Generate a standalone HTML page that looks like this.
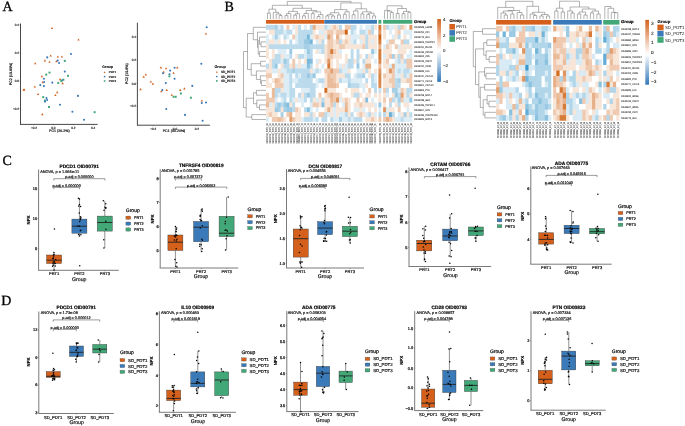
<!DOCTYPE html>
<html><head><meta charset="utf-8"><style>html,body{margin:0;padding:0;background:#fff;width:685px;height:426px;overflow:hidden}svg{display:block}text{font-family:"Liberation Sans",sans-serif}</style></head>
<body>
<svg width="685" height="426" viewBox="0 0 685 426" font-family="Liberation Sans" text-rendering="geometricPrecision" style="will-change:transform;filter:blur(0.3px)">
<rect x="0.00" y="0.00" width="685.00" height="426.00" fill="#fff"/>
<text x="2.60" y="11.30" font-size="14" fill="#000" stroke="#000" stroke-width="0.3" style="font-family:&quot;Liberation Serif&quot;,serif">A</text>
<text x="224.60" y="11.00" font-size="14" fill="#000" stroke="#000" stroke-width="0.3" style="font-family:&quot;Liberation Serif&quot;,serif">B</text>
<text x="2.40" y="165.00" font-size="14" fill="#000" stroke="#000" stroke-width="0.3" style="font-family:&quot;Liberation Serif&quot;,serif">C</text>
<text x="1.20" y="304.80" font-size="14" fill="#000" stroke="#000" stroke-width="0.3" style="font-family:&quot;Liberation Serif&quot;,serif">D</text>
<line x1="20.50" y1="23.50" x2="20.50" y2="124.40" stroke="#333" stroke-width="0.9"/>
<line x1="20.05" y1="124.40" x2="97.70" y2="124.40" stroke="#333" stroke-width="0.9"/>
<line x1="19.50" y1="24.70" x2="20.50" y2="24.70" stroke="#333" stroke-width="0.4"/>
<text x="19.10" y="25.82" font-size="3.1" text-anchor="end" fill="#222" stroke="#222" stroke-width="0.14">0.4</text>
<line x1="19.50" y1="53.00" x2="20.50" y2="53.00" stroke="#333" stroke-width="0.4"/>
<text x="19.10" y="54.12" font-size="3.1" text-anchor="end" fill="#222" stroke="#222" stroke-width="0.14">0.2</text>
<line x1="19.50" y1="80.70" x2="20.50" y2="80.70" stroke="#333" stroke-width="0.4"/>
<text x="19.10" y="81.82" font-size="3.1" text-anchor="end" fill="#222" stroke="#222" stroke-width="0.14">0.0</text>
<line x1="19.50" y1="108.70" x2="20.50" y2="108.70" stroke="#333" stroke-width="0.4"/>
<text x="19.10" y="109.82" font-size="3.1" text-anchor="end" fill="#222" stroke="#222" stroke-width="0.14">−0.2</text>
<line x1="34.00" y1="124.40" x2="34.00" y2="125.40" stroke="#333" stroke-width="0.4"/>
<text x="34.00" y="128.72" font-size="3.1" text-anchor="middle" fill="#222" stroke="#222" stroke-width="0.14">−0.2</text>
<line x1="53.40" y1="124.40" x2="53.40" y2="125.40" stroke="#333" stroke-width="0.4"/>
<text x="53.40" y="128.72" font-size="3.1" text-anchor="middle" fill="#222" stroke="#222" stroke-width="0.14">0.0</text>
<line x1="73.30" y1="124.40" x2="73.30" y2="125.40" stroke="#333" stroke-width="0.4"/>
<text x="73.30" y="128.72" font-size="3.1" text-anchor="middle" fill="#222" stroke="#222" stroke-width="0.14">0.2</text>
<line x1="93.10" y1="124.40" x2="93.10" y2="125.40" stroke="#333" stroke-width="0.4"/>
<text x="93.10" y="128.72" font-size="3.1" text-anchor="middle" fill="#222" stroke="#222" stroke-width="0.14">0.4</text>
<text x="59.40" y="132.10" font-size="3.6" text-anchor="middle" fill="#111" stroke="#111" stroke-width="0.18">PC1 (26.2%)</text>
<text x="11.50" y="74.00" font-size="3.6" text-anchor="middle" fill="#111" stroke="#111" stroke-width="0.18" transform="rotate(-90 11.50 74.00)">PC2 (19.89%)</text>
<path d="M52.00 26.89L53.21 28.98L50.79 28.98Z" fill="#D4601C"/>
<path d="M78.50 38.39L79.71 40.48L77.29 40.48Z" fill="#D4601C"/>
<circle cx="71.00" cy="54.00" r="1.04" fill="#3A7AB8"/>
<path d="M50.70 54.49L51.91 56.58L49.49 56.58Z" fill="#D4601C"/>
<path d="M57.80 55.39L59.01 57.48L56.59 57.48Z" fill="#D4601C"/>
<path d="M61.90 55.39L63.11 57.48L60.69 57.48Z" fill="#D4601C"/>
<circle cx="47.20" cy="57.40" r="1.04" fill="#3A7AB8"/>
<path d="M44.90 59.29L46.11 61.38L43.69 61.38Z" fill="#D4601C"/>
<path d="M49.50 60.69L50.71 62.78L48.29 62.78Z" fill="#D4601C"/>
<path d="M56.40 60.09L57.61 62.18L55.19 62.18Z" fill="#D4601C"/>
<circle cx="57.70" cy="60.50" r="1.04" fill="#3A7AB8"/>
<circle cx="59.10" cy="63.00" r="1.04" fill="#3A7AB8"/>
<rect x="63.81" y="59.91" width="1.98" height="1.98" fill="#42A877"/>
<path d="M35.20 62.19L36.41 64.28L33.99 64.28Z" fill="#D4601C"/>
<circle cx="64.80" cy="71.60" r="1.04" fill="#3A7AB8"/>
<rect x="48.51" y="71.61" width="1.98" height="1.98" fill="#42A877"/>
<rect x="45.21" y="73.61" width="1.98" height="1.98" fill="#42A877"/>
<rect x="67.01" y="74.81" width="1.98" height="1.98" fill="#42A877"/>
<path d="M41.90 75.09L43.11 77.18L40.69 77.18Z" fill="#D4601C"/>
<circle cx="43.90" cy="78.80" r="1.04" fill="#3A7AB8"/>
<path d="M60.10 78.09L61.31 80.18L58.89 80.18Z" fill="#D4601C"/>
<rect x="62.41" y="78.71" width="1.98" height="1.98" fill="#42A877"/>
<circle cx="62.20" cy="80.30" r="1.04" fill="#3A7AB8"/>
<rect x="60.31" y="80.11" width="1.98" height="1.98" fill="#42A877"/>
<path d="M42.70 81.09L43.91 83.18L41.49 83.18Z" fill="#D4601C"/>
<circle cx="44.10" cy="82.00" r="1.04" fill="#3A7AB8"/>
<circle cx="52.30" cy="82.60" r="1.04" fill="#3A7AB8"/>
<rect x="57.21" y="81.91" width="1.98" height="1.98" fill="#42A877"/>
<path d="M62.60 82.09L63.81 84.18L61.39 84.18Z" fill="#D4601C"/>
<circle cx="40.30" cy="85.10" r="1.04" fill="#3A7AB8"/>
<circle cx="43.90" cy="86.10" r="1.04" fill="#3A7AB8"/>
<path d="M34.80 85.39L36.01 87.48L33.59 87.48Z" fill="#D4601C"/>
<path d="M24.30 88.39L25.51 90.48L23.09 90.48Z" fill="#D4601C"/>
<path d="M23.60 88.59L24.81 90.68L22.39 90.68Z" fill="#D4601C"/>
<path d="M38.10 92.89L39.31 94.98L36.89 94.98Z" fill="#D4601C"/>
<path d="M57.20 91.09L58.41 93.18L55.99 93.18Z" fill="#D4601C"/>
<path d="M55.40 93.99L56.61 96.08L54.19 96.08Z" fill="#D4601C"/>
<circle cx="77.90" cy="95.90" r="1.04" fill="#3A7AB8"/>
<rect x="42.21" y="96.11" width="1.98" height="1.98" fill="#42A877"/>
<circle cx="46.50" cy="98.10" r="1.04" fill="#3A7AB8"/>
<circle cx="47.10" cy="100.00" r="1.04" fill="#3A7AB8"/>
<rect x="43.91" y="99.61" width="1.98" height="1.98" fill="#42A877"/>
<circle cx="45.00" cy="101.60" r="1.04" fill="#3A7AB8"/>
<circle cx="60.00" cy="104.80" r="1.04" fill="#3A7AB8"/>
<rect x="48.01" y="106.01" width="1.98" height="1.98" fill="#42A877"/>
<circle cx="72.40" cy="111.80" r="1.04" fill="#3A7AB8"/>
<rect x="93.61" y="111.21" width="1.98" height="1.98" fill="#42A877"/>
<path d="M42.30 113.09L43.51 115.18L41.09 115.18Z" fill="#D4601C"/>
<circle cx="84.10" cy="119.70" r="1.04" fill="#3A7AB8"/>
<text x="102.20" y="67.80" font-size="3.6" text-anchor="start" fill="#000" stroke="#000" stroke-width="0.08" font-weight="bold">Group</text>
<path d="M104.60 71.21L105.59 72.92L103.61 72.92Z" fill="#D4601C"/>
<text x="108.80" y="73.24" font-size="2.9" text-anchor="start" fill="#111" stroke="#111" stroke-width="0.18">PRT1</text>
<circle cx="104.60" cy="76.60" r="0.85" fill="#3A7AB8"/>
<text x="108.80" y="77.64" font-size="2.9" text-anchor="start" fill="#111" stroke="#111" stroke-width="0.18">PRT2</text>
<rect x="103.79" y="80.19" width="1.62" height="1.62" fill="#42A877"/>
<text x="108.80" y="82.04" font-size="2.9" text-anchor="start" fill="#111" stroke="#111" stroke-width="0.18">PRT3</text>
<line x1="137.40" y1="22.70" x2="137.40" y2="125.20" stroke="#333" stroke-width="0.9"/>
<line x1="136.95" y1="125.20" x2="209.90" y2="125.20" stroke="#333" stroke-width="0.9"/>
<line x1="136.40" y1="36.80" x2="137.40" y2="36.80" stroke="#333" stroke-width="0.4"/>
<text x="136.00" y="37.92" font-size="3.1" text-anchor="end" fill="#222" stroke="#222" stroke-width="0.14">0.4</text>
<line x1="136.40" y1="60.10" x2="137.40" y2="60.10" stroke="#333" stroke-width="0.4"/>
<text x="136.00" y="61.22" font-size="3.1" text-anchor="end" fill="#222" stroke="#222" stroke-width="0.14">0.2</text>
<line x1="136.40" y1="83.40" x2="137.40" y2="83.40" stroke="#333" stroke-width="0.4"/>
<text x="136.00" y="84.52" font-size="3.1" text-anchor="end" fill="#222" stroke="#222" stroke-width="0.14">0.0</text>
<line x1="136.40" y1="105.90" x2="137.40" y2="105.90" stroke="#333" stroke-width="0.4"/>
<text x="136.00" y="107.02" font-size="3.1" text-anchor="end" fill="#222" stroke="#222" stroke-width="0.14">−0.2</text>
<line x1="153.20" y1="125.20" x2="153.20" y2="126.20" stroke="#333" stroke-width="0.4"/>
<text x="153.20" y="129.52" font-size="3.1" text-anchor="middle" fill="#222" stroke="#222" stroke-width="0.14">−0.2</text>
<line x1="175.00" y1="125.20" x2="175.00" y2="126.20" stroke="#333" stroke-width="0.4"/>
<text x="175.00" y="129.52" font-size="3.1" text-anchor="middle" fill="#222" stroke="#222" stroke-width="0.14">0.0</text>
<line x1="196.80" y1="125.20" x2="196.80" y2="126.20" stroke="#333" stroke-width="0.4"/>
<text x="196.80" y="129.52" font-size="3.1" text-anchor="middle" fill="#222" stroke="#222" stroke-width="0.14">0.2</text>
<text x="174.00" y="132.30" font-size="3.6" text-anchor="middle" fill="#111" stroke="#111" stroke-width="0.18">PC1 (30.20%)</text>
<text x="127.90" y="73.60" font-size="3.6" text-anchor="middle" fill="#111" stroke="#111" stroke-width="0.18" transform="rotate(-90 127.90 73.60)">PC2 (19.8%)</text>
<circle cx="206.70" cy="27.30" r="1.04" fill="#3A7AB8"/>
<path d="M206.00 32.39L207.21 34.48L204.79 34.48Z" fill="#D4601C"/>
<circle cx="201.30" cy="63.70" r="1.04" fill="#3A7AB8"/>
<path d="M160.90 66.29L162.11 68.38L159.69 68.38Z" fill="#D4601C"/>
<path d="M166.10 67.19L167.31 69.28L164.89 69.28Z" fill="#D4601C"/>
<circle cx="174.60" cy="67.80" r="1.04" fill="#3A7AB8"/>
<path d="M177.30 66.29L178.51 68.38L176.09 68.38Z" fill="#D4601C"/>
<circle cx="170.10" cy="70.60" r="1.04" fill="#3A7AB8"/>
<path d="M163.70 70.69L164.91 72.78L162.49 72.78Z" fill="#D4601C"/>
<circle cx="163.00" cy="73.20" r="1.04" fill="#3A7AB8"/>
<path d="M173.60 71.69L174.81 73.78L172.39 73.78Z" fill="#D4601C"/>
<circle cx="169.50" cy="74.30" r="1.04" fill="#3A7AB8"/>
<path d="M145.80 73.29L147.01 75.38L144.59 75.38Z" fill="#D4601C"/>
<path d="M143.70 75.59L144.91 77.68L142.49 77.68Z" fill="#D4601C"/>
<rect x="168.41" y="75.31" width="1.98" height="1.98" fill="#42A877"/>
<circle cx="174.60" cy="78.70" r="1.04" fill="#3A7AB8"/>
<path d="M150.80 80.49L152.01 82.58L149.59 82.58Z" fill="#D4601C"/>
<path d="M152.90 82.59L154.11 84.68L151.69 84.68Z" fill="#D4601C"/>
<circle cx="165.80" cy="83.10" r="1.04" fill="#3A7AB8"/>
<circle cx="192.30" cy="85.90" r="1.04" fill="#3A7AB8"/>
<path d="M140.50 88.09L141.71 90.18L139.29 90.18Z" fill="#D4601C"/>
<path d="M161.30 90.19L162.51 92.28L160.09 92.28Z" fill="#D4601C"/>
<circle cx="162.30" cy="90.10" r="1.04" fill="#3A7AB8"/>
<path d="M166.80 88.79L168.01 90.88L165.59 90.88Z" fill="#D4601C"/>
<path d="M180.20 88.79L181.41 90.88L178.99 90.88Z" fill="#D4601C"/>
<path d="M184.40 87.29L185.61 89.38L183.19 89.38Z" fill="#D4601C"/>
<rect x="179.91" y="92.51" width="1.98" height="1.98" fill="#42A877"/>
<path d="M171.80 93.69L173.01 95.78L170.59 95.78Z" fill="#D4601C"/>
<rect x="172.61" y="95.81" width="1.98" height="1.98" fill="#42A877"/>
<rect x="174.71" y="95.81" width="1.98" height="1.98" fill="#42A877"/>
<rect x="189.91" y="96.71" width="1.98" height="1.98" fill="#42A877"/>
<path d="M201.90 99.39L203.11 101.48L200.69 101.48Z" fill="#D4601C"/>
<circle cx="201.80" cy="103.00" r="1.04" fill="#3A7AB8"/>
<circle cx="206.00" cy="102.50" r="1.04" fill="#3A7AB8"/>
<circle cx="166.30" cy="109.00" r="1.04" fill="#3A7AB8"/>
<circle cx="185.00" cy="114.90" r="1.04" fill="#3A7AB8"/>
<circle cx="202.60" cy="120.70" r="1.04" fill="#3A7AB8"/>
<text x="214.40" y="67.77" font-size="3.8" text-anchor="start" fill="#000" stroke="#000" stroke-width="0.08" font-weight="bold">Group</text>
<path d="M216.80 71.11L217.79 72.82L215.81 72.82Z" fill="#D4601C"/>
<text x="221.00" y="73.23" font-size="3.15" text-anchor="start" fill="#111" stroke="#111" stroke-width="0.18">SD_PDT1</text>
<circle cx="216.80" cy="76.50" r="0.85" fill="#3A7AB8"/>
<text x="221.00" y="77.63" font-size="3.15" text-anchor="start" fill="#111" stroke="#111" stroke-width="0.18">SD_PDT2</text>
<rect x="215.99" y="80.09" width="1.62" height="1.62" fill="#42A877"/>
<text x="221.00" y="82.03" font-size="3.15" text-anchor="start" fill="#111" stroke="#111" stroke-width="0.18">SD_PDT3</text>
<rect x="266.00" y="24.90" width="3.42" height="5.35" fill="#bbdbed"/>
<rect x="268.92" y="24.90" width="3.42" height="5.35" fill="#bbdbed"/>
<rect x="271.84" y="24.90" width="3.42" height="5.35" fill="#bbdbed"/>
<rect x="274.76" y="24.90" width="3.42" height="5.35" fill="#a7d0e7"/>
<rect x="277.68" y="24.90" width="3.42" height="5.35" fill="#ddedf6"/>
<rect x="280.60" y="24.90" width="3.42" height="5.35" fill="#bbdbed"/>
<rect x="283.52" y="24.90" width="3.42" height="5.35" fill="#ffffff"/>
<rect x="286.44" y="24.90" width="3.42" height="5.35" fill="#efcab0"/>
<rect x="289.36" y="24.90" width="3.42" height="5.35" fill="#ffffff"/>
<rect x="292.28" y="24.90" width="3.42" height="5.35" fill="#ddedf6"/>
<rect x="295.20" y="24.90" width="3.42" height="5.35" fill="#f7e5d7"/>
<rect x="298.12" y="24.90" width="3.42" height="5.35" fill="#bbdbed"/>
<rect x="301.04" y="24.90" width="3.42" height="5.35" fill="#ffffff"/>
<rect x="303.96" y="24.90" width="3.42" height="5.35" fill="#ddedf6"/>
<rect x="306.88" y="24.90" width="3.42" height="5.35" fill="#ffffff"/>
<rect x="309.80" y="24.90" width="3.42" height="5.35" fill="#bbdbed"/>
<rect x="312.72" y="24.90" width="3.42" height="5.35" fill="#e7b088"/>
<rect x="315.64" y="24.90" width="3.42" height="5.35" fill="#f7e5d7"/>
<rect x="318.56" y="24.90" width="3.42" height="5.35" fill="#f7e5d7"/>
<rect x="321.48" y="24.90" width="3.42" height="5.35" fill="#f7e5d7"/>
<rect x="324.40" y="24.90" width="3.42" height="5.35" fill="#bbdbed"/>
<rect x="327.32" y="24.90" width="3.42" height="5.35" fill="#ddedf6"/>
<rect x="330.24" y="24.90" width="3.42" height="5.35" fill="#f7e5d7"/>
<rect x="333.16" y="24.90" width="3.42" height="5.35" fill="#efcab0"/>
<rect x="336.08" y="24.90" width="3.42" height="5.35" fill="#f7e5d7"/>
<rect x="339.00" y="24.90" width="3.42" height="5.35" fill="#bbdbed"/>
<rect x="341.92" y="24.90" width="3.42" height="5.35" fill="#ffffff"/>
<rect x="344.84" y="24.90" width="3.42" height="5.35" fill="#efcab0"/>
<rect x="347.76" y="24.90" width="3.42" height="5.35" fill="#efcab0"/>
<rect x="350.68" y="24.90" width="3.42" height="5.35" fill="#bbdbed"/>
<rect x="353.60" y="24.90" width="3.42" height="5.35" fill="#bbdbed"/>
<rect x="356.52" y="24.90" width="3.42" height="5.35" fill="#ffffff"/>
<rect x="359.44" y="24.90" width="3.42" height="5.35" fill="#ddedf6"/>
<rect x="362.36" y="24.90" width="3.42" height="5.35" fill="#ffffff"/>
<rect x="365.28" y="24.90" width="3.42" height="5.35" fill="#ddedf6"/>
<rect x="368.20" y="24.90" width="3.42" height="5.35" fill="#ddedf6"/>
<rect x="371.12" y="24.90" width="3.42" height="5.35" fill="#bbdbed"/>
<rect x="374.04" y="24.90" width="2.92" height="5.35" fill="#f7e5d7"/>
<rect x="378.40" y="24.90" width="2.92" height="5.35" fill="#d77b39"/>
<rect x="383.10" y="24.90" width="3.42" height="5.35" fill="#efcab0"/>
<rect x="386.02" y="24.90" width="3.42" height="5.35" fill="#bbdbed"/>
<rect x="388.94" y="24.90" width="3.42" height="5.35" fill="#ddedf6"/>
<rect x="391.86" y="24.90" width="3.42" height="5.35" fill="#ddedf6"/>
<rect x="394.78" y="24.90" width="3.42" height="5.35" fill="#f7e5d7"/>
<rect x="397.70" y="24.90" width="3.42" height="5.35" fill="#bbdbed"/>
<rect x="400.62" y="24.90" width="3.42" height="5.35" fill="#efcab0"/>
<rect x="403.54" y="24.90" width="3.42" height="5.35" fill="#f7e5d7"/>
<rect x="406.46" y="24.90" width="3.42" height="5.35" fill="#ffffff"/>
<rect x="409.38" y="24.90" width="2.92" height="5.35" fill="#df9661"/>
<rect x="266.00" y="29.75" width="3.42" height="5.35" fill="#ffffff"/>
<rect x="268.92" y="29.75" width="3.42" height="5.35" fill="#f7e5d7"/>
<rect x="271.84" y="29.75" width="3.42" height="5.35" fill="#f7e5d7"/>
<rect x="274.76" y="29.75" width="3.42" height="5.35" fill="#bbdbed"/>
<rect x="277.68" y="29.75" width="3.42" height="5.35" fill="#bbdbed"/>
<rect x="280.60" y="29.75" width="3.42" height="5.35" fill="#bbdbed"/>
<rect x="283.52" y="29.75" width="3.42" height="5.35" fill="#ddedf6"/>
<rect x="286.44" y="29.75" width="3.42" height="5.35" fill="#bbdbed"/>
<rect x="289.36" y="29.75" width="3.42" height="5.35" fill="#bbdbed"/>
<rect x="292.28" y="29.75" width="3.42" height="5.35" fill="#ffffff"/>
<rect x="295.20" y="29.75" width="3.42" height="5.35" fill="#f7e5d7"/>
<rect x="298.12" y="29.75" width="3.42" height="5.35" fill="#bbdbed"/>
<rect x="301.04" y="29.75" width="3.42" height="5.35" fill="#bbdbed"/>
<rect x="303.96" y="29.75" width="3.42" height="5.35" fill="#bbdbed"/>
<rect x="306.88" y="29.75" width="3.42" height="5.35" fill="#bbdbed"/>
<rect x="309.80" y="29.75" width="3.42" height="5.35" fill="#bbdbed"/>
<rect x="312.72" y="29.75" width="3.42" height="5.35" fill="#f7e5d7"/>
<rect x="315.64" y="29.75" width="3.42" height="5.35" fill="#ffffff"/>
<rect x="318.56" y="29.75" width="3.42" height="5.35" fill="#ddedf6"/>
<rect x="321.48" y="29.75" width="3.42" height="5.35" fill="#ddedf6"/>
<rect x="324.40" y="29.75" width="3.42" height="5.35" fill="#f7e5d7"/>
<rect x="327.32" y="29.75" width="3.42" height="5.35" fill="#efcab0"/>
<rect x="330.24" y="29.75" width="3.42" height="5.35" fill="#efcab0"/>
<rect x="333.16" y="29.75" width="3.42" height="5.35" fill="#f7e5d7"/>
<rect x="336.08" y="29.75" width="3.42" height="5.35" fill="#efcab0"/>
<rect x="339.00" y="29.75" width="3.42" height="5.35" fill="#efcab0"/>
<rect x="341.92" y="29.75" width="3.42" height="5.35" fill="#efcab0"/>
<rect x="344.84" y="29.75" width="3.42" height="5.35" fill="#d06416"/>
<rect x="347.76" y="29.75" width="3.42" height="5.35" fill="#ffffff"/>
<rect x="350.68" y="29.75" width="3.42" height="5.35" fill="#bbdbed"/>
<rect x="353.60" y="29.75" width="3.42" height="5.35" fill="#ddedf6"/>
<rect x="356.52" y="29.75" width="3.42" height="5.35" fill="#ffffff"/>
<rect x="359.44" y="29.75" width="3.42" height="5.35" fill="#bbdbed"/>
<rect x="362.36" y="29.75" width="3.42" height="5.35" fill="#bbdbed"/>
<rect x="365.28" y="29.75" width="3.42" height="5.35" fill="#ddedf6"/>
<rect x="368.20" y="29.75" width="3.42" height="5.35" fill="#efcab0"/>
<rect x="371.12" y="29.75" width="3.42" height="5.35" fill="#bbdbed"/>
<rect x="374.04" y="29.75" width="2.92" height="5.35" fill="#ffffff"/>
<rect x="378.40" y="29.75" width="2.92" height="5.35" fill="#df9661"/>
<rect x="383.10" y="29.75" width="3.42" height="5.35" fill="#f7e5d7"/>
<rect x="386.02" y="29.75" width="3.42" height="5.35" fill="#ffffff"/>
<rect x="388.94" y="29.75" width="3.42" height="5.35" fill="#ddedf6"/>
<rect x="391.86" y="29.75" width="3.42" height="5.35" fill="#ffffff"/>
<rect x="394.78" y="29.75" width="3.42" height="5.35" fill="#f7e5d7"/>
<rect x="397.70" y="29.75" width="3.42" height="5.35" fill="#efcab0"/>
<rect x="400.62" y="29.75" width="3.42" height="5.35" fill="#ffffff"/>
<rect x="403.54" y="29.75" width="3.42" height="5.35" fill="#ddedf6"/>
<rect x="406.46" y="29.75" width="3.42" height="5.35" fill="#ddedf6"/>
<rect x="409.38" y="29.75" width="2.92" height="5.35" fill="#ddedf6"/>
<rect x="266.00" y="34.60" width="3.42" height="5.35" fill="#ddedf6"/>
<rect x="268.92" y="34.60" width="3.42" height="5.35" fill="#ffffff"/>
<rect x="271.84" y="34.60" width="3.42" height="5.35" fill="#ddedf6"/>
<rect x="274.76" y="34.60" width="3.42" height="5.35" fill="#a7d0e7"/>
<rect x="277.68" y="34.60" width="3.42" height="5.35" fill="#ddedf6"/>
<rect x="280.60" y="34.60" width="3.42" height="5.35" fill="#ffffff"/>
<rect x="283.52" y="34.60" width="3.42" height="5.35" fill="#bbdbed"/>
<rect x="286.44" y="34.60" width="3.42" height="5.35" fill="#ddedf6"/>
<rect x="289.36" y="34.60" width="3.42" height="5.35" fill="#ffffff"/>
<rect x="292.28" y="34.60" width="3.42" height="5.35" fill="#efcab0"/>
<rect x="295.20" y="34.60" width="3.42" height="5.35" fill="#ddedf6"/>
<rect x="298.12" y="34.60" width="3.42" height="5.35" fill="#bbdbed"/>
<rect x="301.04" y="34.60" width="3.42" height="5.35" fill="#bbdbed"/>
<rect x="303.96" y="34.60" width="3.42" height="5.35" fill="#bbdbed"/>
<rect x="306.88" y="34.60" width="3.42" height="5.35" fill="#77b7da"/>
<rect x="309.80" y="34.60" width="3.42" height="5.35" fill="#ddedf6"/>
<rect x="312.72" y="34.60" width="3.42" height="5.35" fill="#f7e5d7"/>
<rect x="315.64" y="34.60" width="3.42" height="5.35" fill="#efcab0"/>
<rect x="318.56" y="34.60" width="3.42" height="5.35" fill="#f7e5d7"/>
<rect x="321.48" y="34.60" width="3.42" height="5.35" fill="#f7e5d7"/>
<rect x="324.40" y="34.60" width="3.42" height="5.35" fill="#ddedf6"/>
<rect x="327.32" y="34.60" width="3.42" height="5.35" fill="#e2a071"/>
<rect x="330.24" y="34.60" width="3.42" height="5.35" fill="#efcab0"/>
<rect x="333.16" y="34.60" width="3.42" height="5.35" fill="#ffffff"/>
<rect x="336.08" y="34.60" width="3.42" height="5.35" fill="#e7b088"/>
<rect x="339.00" y="34.60" width="3.42" height="5.35" fill="#f7e5d7"/>
<rect x="341.92" y="34.60" width="3.42" height="5.35" fill="#ffffff"/>
<rect x="344.84" y="34.60" width="3.42" height="5.35" fill="#f7e5d7"/>
<rect x="347.76" y="34.60" width="3.42" height="5.35" fill="#f7e5d7"/>
<rect x="350.68" y="34.60" width="3.42" height="5.35" fill="#ddedf6"/>
<rect x="353.60" y="34.60" width="3.42" height="5.35" fill="#ddedf6"/>
<rect x="356.52" y="34.60" width="3.42" height="5.35" fill="#ddedf6"/>
<rect x="359.44" y="34.60" width="3.42" height="5.35" fill="#f7e5d7"/>
<rect x="362.36" y="34.60" width="3.42" height="5.35" fill="#f7e5d7"/>
<rect x="365.28" y="34.60" width="3.42" height="5.35" fill="#bbdbed"/>
<rect x="368.20" y="34.60" width="3.42" height="5.35" fill="#f7e5d7"/>
<rect x="371.12" y="34.60" width="3.42" height="5.35" fill="#f7e5d7"/>
<rect x="374.04" y="34.60" width="2.92" height="5.35" fill="#f7e5d7"/>
<rect x="378.40" y="34.60" width="2.92" height="5.35" fill="#d06416"/>
<rect x="383.10" y="34.60" width="3.42" height="5.35" fill="#f7e5d7"/>
<rect x="386.02" y="34.60" width="3.42" height="5.35" fill="#ffffff"/>
<rect x="388.94" y="34.60" width="3.42" height="5.35" fill="#ffffff"/>
<rect x="391.86" y="34.60" width="3.42" height="5.35" fill="#ddedf6"/>
<rect x="394.78" y="34.60" width="3.42" height="5.35" fill="#f7e5d7"/>
<rect x="397.70" y="34.60" width="3.42" height="5.35" fill="#bbdbed"/>
<rect x="400.62" y="34.60" width="3.42" height="5.35" fill="#ffffff"/>
<rect x="403.54" y="34.60" width="3.42" height="5.35" fill="#f7e5d7"/>
<rect x="406.46" y="34.60" width="3.42" height="5.35" fill="#ffffff"/>
<rect x="409.38" y="34.60" width="2.92" height="5.35" fill="#ddedf6"/>
<rect x="266.00" y="39.45" width="3.42" height="5.35" fill="#ddedf6"/>
<rect x="268.92" y="39.45" width="3.42" height="5.35" fill="#f7e5d7"/>
<rect x="271.84" y="39.45" width="3.42" height="5.35" fill="#f7e5d7"/>
<rect x="274.76" y="39.45" width="3.42" height="5.35" fill="#ddedf6"/>
<rect x="277.68" y="39.45" width="3.42" height="5.35" fill="#f7e5d7"/>
<rect x="280.60" y="39.45" width="3.42" height="5.35" fill="#ffffff"/>
<rect x="283.52" y="39.45" width="3.42" height="5.35" fill="#f7e5d7"/>
<rect x="286.44" y="39.45" width="3.42" height="5.35" fill="#ffffff"/>
<rect x="289.36" y="39.45" width="3.42" height="5.35" fill="#bbdbed"/>
<rect x="292.28" y="39.45" width="3.42" height="5.35" fill="#ffffff"/>
<rect x="295.20" y="39.45" width="3.42" height="5.35" fill="#ddedf6"/>
<rect x="298.12" y="39.45" width="3.42" height="5.35" fill="#bbdbed"/>
<rect x="301.04" y="39.45" width="3.42" height="5.35" fill="#bbdbed"/>
<rect x="303.96" y="39.45" width="3.42" height="5.35" fill="#99c9e3"/>
<rect x="306.88" y="39.45" width="3.42" height="5.35" fill="#99c9e3"/>
<rect x="309.80" y="39.45" width="3.42" height="5.35" fill="#77b7da"/>
<rect x="312.72" y="39.45" width="3.42" height="5.35" fill="#ffffff"/>
<rect x="315.64" y="39.45" width="3.42" height="5.35" fill="#ddedf6"/>
<rect x="318.56" y="39.45" width="3.42" height="5.35" fill="#f7e5d7"/>
<rect x="321.48" y="39.45" width="3.42" height="5.35" fill="#bbdbed"/>
<rect x="324.40" y="39.45" width="3.42" height="5.35" fill="#ffffff"/>
<rect x="327.32" y="39.45" width="3.42" height="5.35" fill="#efcab0"/>
<rect x="330.24" y="39.45" width="3.42" height="5.35" fill="#efcab0"/>
<rect x="333.16" y="39.45" width="3.42" height="5.35" fill="#f7e5d7"/>
<rect x="336.08" y="39.45" width="3.42" height="5.35" fill="#efcab0"/>
<rect x="339.00" y="39.45" width="3.42" height="5.35" fill="#bbdbed"/>
<rect x="341.92" y="39.45" width="3.42" height="5.35" fill="#f7e5d7"/>
<rect x="344.84" y="39.45" width="3.42" height="5.35" fill="#efcab0"/>
<rect x="347.76" y="39.45" width="3.42" height="5.35" fill="#f7e5d7"/>
<rect x="350.68" y="39.45" width="3.42" height="5.35" fill="#ddedf6"/>
<rect x="353.60" y="39.45" width="3.42" height="5.35" fill="#bbdbed"/>
<rect x="356.52" y="39.45" width="3.42" height="5.35" fill="#ffffff"/>
<rect x="359.44" y="39.45" width="3.42" height="5.35" fill="#ddedf6"/>
<rect x="362.36" y="39.45" width="3.42" height="5.35" fill="#f7e5d7"/>
<rect x="365.28" y="39.45" width="3.42" height="5.35" fill="#bbdbed"/>
<rect x="368.20" y="39.45" width="3.42" height="5.35" fill="#f7e5d7"/>
<rect x="371.12" y="39.45" width="3.42" height="5.35" fill="#ddedf6"/>
<rect x="374.04" y="39.45" width="2.92" height="5.35" fill="#f7e5d7"/>
<rect x="378.40" y="39.45" width="2.92" height="5.35" fill="#d77b39"/>
<rect x="383.10" y="39.45" width="3.42" height="5.35" fill="#ffffff"/>
<rect x="386.02" y="39.45" width="3.42" height="5.35" fill="#ddedf6"/>
<rect x="388.94" y="39.45" width="3.42" height="5.35" fill="#efcab0"/>
<rect x="391.86" y="39.45" width="3.42" height="5.35" fill="#efcab0"/>
<rect x="394.78" y="39.45" width="3.42" height="5.35" fill="#ffffff"/>
<rect x="397.70" y="39.45" width="3.42" height="5.35" fill="#ffffff"/>
<rect x="400.62" y="39.45" width="3.42" height="5.35" fill="#efcab0"/>
<rect x="403.54" y="39.45" width="3.42" height="5.35" fill="#bbdbed"/>
<rect x="406.46" y="39.45" width="3.42" height="5.35" fill="#bbdbed"/>
<rect x="409.38" y="39.45" width="2.92" height="5.35" fill="#ffffff"/>
<rect x="266.00" y="44.30" width="3.42" height="5.35" fill="#f7e5d7"/>
<rect x="268.92" y="44.30" width="3.42" height="5.35" fill="#bbdbed"/>
<rect x="271.84" y="44.30" width="3.42" height="5.35" fill="#bbdbed"/>
<rect x="274.76" y="44.30" width="3.42" height="5.35" fill="#bbdbed"/>
<rect x="277.68" y="44.30" width="3.42" height="5.35" fill="#bbdbed"/>
<rect x="280.60" y="44.30" width="3.42" height="5.35" fill="#bbdbed"/>
<rect x="283.52" y="44.30" width="3.42" height="5.35" fill="#bbdbed"/>
<rect x="286.44" y="44.30" width="3.42" height="5.35" fill="#bbdbed"/>
<rect x="289.36" y="44.30" width="3.42" height="5.35" fill="#bbdbed"/>
<rect x="292.28" y="44.30" width="3.42" height="5.35" fill="#bbdbed"/>
<rect x="295.20" y="44.30" width="3.42" height="5.35" fill="#bbdbed"/>
<rect x="298.12" y="44.30" width="3.42" height="5.35" fill="#bbdbed"/>
<rect x="301.04" y="44.30" width="3.42" height="5.35" fill="#bbdbed"/>
<rect x="303.96" y="44.30" width="3.42" height="5.35" fill="#a7d0e7"/>
<rect x="306.88" y="44.30" width="3.42" height="5.35" fill="#a7d0e7"/>
<rect x="309.80" y="44.30" width="3.42" height="5.35" fill="#bbdbed"/>
<rect x="312.72" y="44.30" width="3.42" height="5.35" fill="#bbdbed"/>
<rect x="315.64" y="44.30" width="3.42" height="5.35" fill="#bbdbed"/>
<rect x="318.56" y="44.30" width="3.42" height="5.35" fill="#bbdbed"/>
<rect x="321.48" y="44.30" width="3.42" height="5.35" fill="#bbdbed"/>
<rect x="324.40" y="44.30" width="3.42" height="5.35" fill="#f7e5d7"/>
<rect x="327.32" y="44.30" width="3.42" height="5.35" fill="#efcab0"/>
<rect x="330.24" y="44.30" width="3.42" height="5.35" fill="#efcab0"/>
<rect x="333.16" y="44.30" width="3.42" height="5.35" fill="#f7e5d7"/>
<rect x="336.08" y="44.30" width="3.42" height="5.35" fill="#f7e5d7"/>
<rect x="339.00" y="44.30" width="3.42" height="5.35" fill="#efcab0"/>
<rect x="341.92" y="44.30" width="3.42" height="5.35" fill="#efcab0"/>
<rect x="344.84" y="44.30" width="3.42" height="5.35" fill="#f7e5d7"/>
<rect x="347.76" y="44.30" width="3.42" height="5.35" fill="#f7e5d7"/>
<rect x="350.68" y="44.30" width="3.42" height="5.35" fill="#f7e5d7"/>
<rect x="353.60" y="44.30" width="3.42" height="5.35" fill="#f7e5d7"/>
<rect x="356.52" y="44.30" width="3.42" height="5.35" fill="#f7e5d7"/>
<rect x="359.44" y="44.30" width="3.42" height="5.35" fill="#f7e5d7"/>
<rect x="362.36" y="44.30" width="3.42" height="5.35" fill="#efcab0"/>
<rect x="365.28" y="44.30" width="3.42" height="5.35" fill="#bbdbed"/>
<rect x="368.20" y="44.30" width="3.42" height="5.35" fill="#f7e5d7"/>
<rect x="371.12" y="44.30" width="3.42" height="5.35" fill="#f7e5d7"/>
<rect x="374.04" y="44.30" width="2.92" height="5.35" fill="#f7e5d7"/>
<rect x="378.40" y="44.30" width="2.92" height="5.35" fill="#e7b088"/>
<rect x="383.10" y="44.30" width="3.42" height="5.35" fill="#ddedf6"/>
<rect x="386.02" y="44.30" width="3.42" height="5.35" fill="#efcab0"/>
<rect x="388.94" y="44.30" width="3.42" height="5.35" fill="#f7e5d7"/>
<rect x="391.86" y="44.30" width="3.42" height="5.35" fill="#ffffff"/>
<rect x="394.78" y="44.30" width="3.42" height="5.35" fill="#efcab0"/>
<rect x="397.70" y="44.30" width="3.42" height="5.35" fill="#ddedf6"/>
<rect x="400.62" y="44.30" width="3.42" height="5.35" fill="#f7e5d7"/>
<rect x="403.54" y="44.30" width="3.42" height="5.35" fill="#f7e5d7"/>
<rect x="406.46" y="44.30" width="3.42" height="5.35" fill="#f7e5d7"/>
<rect x="409.38" y="44.30" width="2.92" height="5.35" fill="#f7e5d7"/>
<rect x="266.00" y="49.15" width="3.42" height="5.35" fill="#f7e5d7"/>
<rect x="268.92" y="49.15" width="3.42" height="5.35" fill="#ffffff"/>
<rect x="271.84" y="49.15" width="3.42" height="5.35" fill="#f7e5d7"/>
<rect x="274.76" y="49.15" width="3.42" height="5.35" fill="#ffffff"/>
<rect x="277.68" y="49.15" width="3.42" height="5.35" fill="#ddedf6"/>
<rect x="280.60" y="49.15" width="3.42" height="5.35" fill="#ddedf6"/>
<rect x="283.52" y="49.15" width="3.42" height="5.35" fill="#ddedf6"/>
<rect x="286.44" y="49.15" width="3.42" height="5.35" fill="#ffffff"/>
<rect x="289.36" y="49.15" width="3.42" height="5.35" fill="#99c9e3"/>
<rect x="292.28" y="49.15" width="3.42" height="5.35" fill="#ffffff"/>
<rect x="295.20" y="49.15" width="3.42" height="5.35" fill="#ffffff"/>
<rect x="298.12" y="49.15" width="3.42" height="5.35" fill="#ffffff"/>
<rect x="301.04" y="49.15" width="3.42" height="5.35" fill="#ffffff"/>
<rect x="303.96" y="49.15" width="3.42" height="5.35" fill="#ddedf6"/>
<rect x="306.88" y="49.15" width="3.42" height="5.35" fill="#99c9e3"/>
<rect x="309.80" y="49.15" width="3.42" height="5.35" fill="#bbdbed"/>
<rect x="312.72" y="49.15" width="3.42" height="5.35" fill="#ffffff"/>
<rect x="315.64" y="49.15" width="3.42" height="5.35" fill="#f7e5d7"/>
<rect x="318.56" y="49.15" width="3.42" height="5.35" fill="#ddedf6"/>
<rect x="321.48" y="49.15" width="3.42" height="5.35" fill="#bbdbed"/>
<rect x="324.40" y="49.15" width="3.42" height="5.35" fill="#f7e5d7"/>
<rect x="327.32" y="49.15" width="3.42" height="5.35" fill="#efcab0"/>
<rect x="330.24" y="49.15" width="3.42" height="5.35" fill="#d77b39"/>
<rect x="333.16" y="49.15" width="3.42" height="5.35" fill="#efcab0"/>
<rect x="336.08" y="49.15" width="3.42" height="5.35" fill="#f7e5d7"/>
<rect x="339.00" y="49.15" width="3.42" height="5.35" fill="#ddedf6"/>
<rect x="341.92" y="49.15" width="3.42" height="5.35" fill="#ffffff"/>
<rect x="344.84" y="49.15" width="3.42" height="5.35" fill="#ffffff"/>
<rect x="347.76" y="49.15" width="3.42" height="5.35" fill="#ffffff"/>
<rect x="350.68" y="49.15" width="3.42" height="5.35" fill="#bbdbed"/>
<rect x="353.60" y="49.15" width="3.42" height="5.35" fill="#ffffff"/>
<rect x="356.52" y="49.15" width="3.42" height="5.35" fill="#bbdbed"/>
<rect x="359.44" y="49.15" width="3.42" height="5.35" fill="#ffffff"/>
<rect x="362.36" y="49.15" width="3.42" height="5.35" fill="#ffffff"/>
<rect x="365.28" y="49.15" width="3.42" height="5.35" fill="#ffffff"/>
<rect x="368.20" y="49.15" width="3.42" height="5.35" fill="#ffffff"/>
<rect x="371.12" y="49.15" width="3.42" height="5.35" fill="#99c9e3"/>
<rect x="374.04" y="49.15" width="2.92" height="5.35" fill="#ddedf6"/>
<rect x="378.40" y="49.15" width="2.92" height="5.35" fill="#d77b39"/>
<rect x="383.10" y="49.15" width="3.42" height="5.35" fill="#f7e5d7"/>
<rect x="386.02" y="49.15" width="3.42" height="5.35" fill="#f7e5d7"/>
<rect x="388.94" y="49.15" width="3.42" height="5.35" fill="#f7e5d7"/>
<rect x="391.86" y="49.15" width="3.42" height="5.35" fill="#ffffff"/>
<rect x="394.78" y="49.15" width="3.42" height="5.35" fill="#ffffff"/>
<rect x="397.70" y="49.15" width="3.42" height="5.35" fill="#f7e5d7"/>
<rect x="400.62" y="49.15" width="3.42" height="5.35" fill="#f7e5d7"/>
<rect x="403.54" y="49.15" width="3.42" height="5.35" fill="#f7e5d7"/>
<rect x="406.46" y="49.15" width="3.42" height="5.35" fill="#ffffff"/>
<rect x="409.38" y="49.15" width="2.92" height="5.35" fill="#ddedf6"/>
<rect x="266.00" y="54.00" width="3.42" height="5.35" fill="#f7e5d7"/>
<rect x="268.92" y="54.00" width="3.42" height="5.35" fill="#ffffff"/>
<rect x="271.84" y="54.00" width="3.42" height="5.35" fill="#f7e5d7"/>
<rect x="274.76" y="54.00" width="3.42" height="5.35" fill="#bbdbed"/>
<rect x="277.68" y="54.00" width="3.42" height="5.35" fill="#bbdbed"/>
<rect x="280.60" y="54.00" width="3.42" height="5.35" fill="#f7e5d7"/>
<rect x="283.52" y="54.00" width="3.42" height="5.35" fill="#ddedf6"/>
<rect x="286.44" y="54.00" width="3.42" height="5.35" fill="#ddedf6"/>
<rect x="289.36" y="54.00" width="3.42" height="5.35" fill="#bbdbed"/>
<rect x="292.28" y="54.00" width="3.42" height="5.35" fill="#ffffff"/>
<rect x="295.20" y="54.00" width="3.42" height="5.35" fill="#f7e5d7"/>
<rect x="298.12" y="54.00" width="3.42" height="5.35" fill="#bbdbed"/>
<rect x="301.04" y="54.00" width="3.42" height="5.35" fill="#bbdbed"/>
<rect x="303.96" y="54.00" width="3.42" height="5.35" fill="#ddedf6"/>
<rect x="306.88" y="54.00" width="3.42" height="5.35" fill="#bbdbed"/>
<rect x="309.80" y="54.00" width="3.42" height="5.35" fill="#bbdbed"/>
<rect x="312.72" y="54.00" width="3.42" height="5.35" fill="#ffffff"/>
<rect x="315.64" y="54.00" width="3.42" height="5.35" fill="#ffffff"/>
<rect x="318.56" y="54.00" width="3.42" height="5.35" fill="#ffffff"/>
<rect x="321.48" y="54.00" width="3.42" height="5.35" fill="#ffffff"/>
<rect x="324.40" y="54.00" width="3.42" height="5.35" fill="#f7e5d7"/>
<rect x="327.32" y="54.00" width="3.42" height="5.35" fill="#efcab0"/>
<rect x="330.24" y="54.00" width="3.42" height="5.35" fill="#efcab0"/>
<rect x="333.16" y="54.00" width="3.42" height="5.35" fill="#f7e5d7"/>
<rect x="336.08" y="54.00" width="3.42" height="5.35" fill="#f7e5d7"/>
<rect x="339.00" y="54.00" width="3.42" height="5.35" fill="#f7e5d7"/>
<rect x="341.92" y="54.00" width="3.42" height="5.35" fill="#ffffff"/>
<rect x="344.84" y="54.00" width="3.42" height="5.35" fill="#f7e5d7"/>
<rect x="347.76" y="54.00" width="3.42" height="5.35" fill="#ffffff"/>
<rect x="350.68" y="54.00" width="3.42" height="5.35" fill="#bbdbed"/>
<rect x="353.60" y="54.00" width="3.42" height="5.35" fill="#ffffff"/>
<rect x="356.52" y="54.00" width="3.42" height="5.35" fill="#bbdbed"/>
<rect x="359.44" y="54.00" width="3.42" height="5.35" fill="#f7e5d7"/>
<rect x="362.36" y="54.00" width="3.42" height="5.35" fill="#ffffff"/>
<rect x="365.28" y="54.00" width="3.42" height="5.35" fill="#bbdbed"/>
<rect x="368.20" y="54.00" width="3.42" height="5.35" fill="#f7e5d7"/>
<rect x="371.12" y="54.00" width="3.42" height="5.35" fill="#ddedf6"/>
<rect x="374.04" y="54.00" width="2.92" height="5.35" fill="#ffffff"/>
<rect x="378.40" y="54.00" width="2.92" height="5.35" fill="#d77b39"/>
<rect x="383.10" y="54.00" width="3.42" height="5.35" fill="#ddedf6"/>
<rect x="386.02" y="54.00" width="3.42" height="5.35" fill="#f7e5d7"/>
<rect x="388.94" y="54.00" width="3.42" height="5.35" fill="#efcab0"/>
<rect x="391.86" y="54.00" width="3.42" height="5.35" fill="#a7d0e7"/>
<rect x="394.78" y="54.00" width="3.42" height="5.35" fill="#f7e5d7"/>
<rect x="397.70" y="54.00" width="3.42" height="5.35" fill="#bbdbed"/>
<rect x="400.62" y="54.00" width="3.42" height="5.35" fill="#efcab0"/>
<rect x="403.54" y="54.00" width="3.42" height="5.35" fill="#ffffff"/>
<rect x="406.46" y="54.00" width="3.42" height="5.35" fill="#ddedf6"/>
<rect x="409.38" y="54.00" width="2.92" height="5.35" fill="#ddedf6"/>
<rect x="266.00" y="58.85" width="3.42" height="5.35" fill="#ffffff"/>
<rect x="268.92" y="58.85" width="3.42" height="5.35" fill="#f7e5d7"/>
<rect x="271.84" y="58.85" width="3.42" height="5.35" fill="#bbdbed"/>
<rect x="274.76" y="58.85" width="3.42" height="5.35" fill="#bbdbed"/>
<rect x="277.68" y="58.85" width="3.42" height="5.35" fill="#bbdbed"/>
<rect x="280.60" y="58.85" width="3.42" height="5.35" fill="#ddedf6"/>
<rect x="283.52" y="58.85" width="3.42" height="5.35" fill="#99c9e3"/>
<rect x="286.44" y="58.85" width="3.42" height="5.35" fill="#bbdbed"/>
<rect x="289.36" y="58.85" width="3.42" height="5.35" fill="#ffffff"/>
<rect x="292.28" y="58.85" width="3.42" height="5.35" fill="#efcab0"/>
<rect x="295.20" y="58.85" width="3.42" height="5.35" fill="#ffffff"/>
<rect x="298.12" y="58.85" width="3.42" height="5.35" fill="#f7e5d7"/>
<rect x="301.04" y="58.85" width="3.42" height="5.35" fill="#ffffff"/>
<rect x="303.96" y="58.85" width="3.42" height="5.35" fill="#f7e5d7"/>
<rect x="306.88" y="58.85" width="3.42" height="5.35" fill="#77b7da"/>
<rect x="309.80" y="58.85" width="3.42" height="5.35" fill="#85bede"/>
<rect x="312.72" y="58.85" width="3.42" height="5.35" fill="#ffffff"/>
<rect x="315.64" y="58.85" width="3.42" height="5.35" fill="#ddedf6"/>
<rect x="318.56" y="58.85" width="3.42" height="5.35" fill="#f7e5d7"/>
<rect x="321.48" y="58.85" width="3.42" height="5.35" fill="#ffffff"/>
<rect x="324.40" y="58.85" width="3.42" height="5.35" fill="#f7e5d7"/>
<rect x="327.32" y="58.85" width="3.42" height="5.35" fill="#df9661"/>
<rect x="330.24" y="58.85" width="3.42" height="5.35" fill="#f7e5d7"/>
<rect x="333.16" y="58.85" width="3.42" height="5.35" fill="#ffffff"/>
<rect x="336.08" y="58.85" width="3.42" height="5.35" fill="#f7e5d7"/>
<rect x="339.00" y="58.85" width="3.42" height="5.35" fill="#ffffff"/>
<rect x="341.92" y="58.85" width="3.42" height="5.35" fill="#ffffff"/>
<rect x="344.84" y="58.85" width="3.42" height="5.35" fill="#f7e5d7"/>
<rect x="347.76" y="58.85" width="3.42" height="5.35" fill="#bbdbed"/>
<rect x="350.68" y="58.85" width="3.42" height="5.35" fill="#bbdbed"/>
<rect x="353.60" y="58.85" width="3.42" height="5.35" fill="#f7e5d7"/>
<rect x="356.52" y="58.85" width="3.42" height="5.35" fill="#bbdbed"/>
<rect x="359.44" y="58.85" width="3.42" height="5.35" fill="#ffffff"/>
<rect x="362.36" y="58.85" width="3.42" height="5.35" fill="#bbdbed"/>
<rect x="365.28" y="58.85" width="3.42" height="5.35" fill="#f7e5d7"/>
<rect x="368.20" y="58.85" width="3.42" height="5.35" fill="#f7e5d7"/>
<rect x="371.12" y="58.85" width="3.42" height="5.35" fill="#ffffff"/>
<rect x="374.04" y="58.85" width="2.92" height="5.35" fill="#ddedf6"/>
<rect x="378.40" y="58.85" width="2.92" height="5.35" fill="#da8649"/>
<rect x="383.10" y="58.85" width="3.42" height="5.35" fill="#f7e5d7"/>
<rect x="386.02" y="58.85" width="3.42" height="5.35" fill="#efcab0"/>
<rect x="388.94" y="58.85" width="3.42" height="5.35" fill="#ffffff"/>
<rect x="391.86" y="58.85" width="3.42" height="5.35" fill="#ffffff"/>
<rect x="394.78" y="58.85" width="3.42" height="5.35" fill="#ddedf6"/>
<rect x="397.70" y="58.85" width="3.42" height="5.35" fill="#bbdbed"/>
<rect x="400.62" y="58.85" width="3.42" height="5.35" fill="#f7e5d7"/>
<rect x="403.54" y="58.85" width="3.42" height="5.35" fill="#bbdbed"/>
<rect x="406.46" y="58.85" width="3.42" height="5.35" fill="#efcab0"/>
<rect x="409.38" y="58.85" width="2.92" height="5.35" fill="#efcab0"/>
<rect x="266.00" y="63.70" width="3.42" height="5.35" fill="#bbdbed"/>
<rect x="268.92" y="63.70" width="3.42" height="5.35" fill="#f7e5d7"/>
<rect x="271.84" y="63.70" width="3.42" height="5.35" fill="#bbdbed"/>
<rect x="274.76" y="63.70" width="3.42" height="5.35" fill="#99c9e3"/>
<rect x="277.68" y="63.70" width="3.42" height="5.35" fill="#ffffff"/>
<rect x="280.60" y="63.70" width="3.42" height="5.35" fill="#f7e5d7"/>
<rect x="283.52" y="63.70" width="3.42" height="5.35" fill="#bbdbed"/>
<rect x="286.44" y="63.70" width="3.42" height="5.35" fill="#bbdbed"/>
<rect x="289.36" y="63.70" width="3.42" height="5.35" fill="#f7e5d7"/>
<rect x="292.28" y="63.70" width="3.42" height="5.35" fill="#efcab0"/>
<rect x="295.20" y="63.70" width="3.42" height="5.35" fill="#ddedf6"/>
<rect x="298.12" y="63.70" width="3.42" height="5.35" fill="#f7e5d7"/>
<rect x="301.04" y="63.70" width="3.42" height="5.35" fill="#ddedf6"/>
<rect x="303.96" y="63.70" width="3.42" height="5.35" fill="#ddedf6"/>
<rect x="306.88" y="63.70" width="3.42" height="5.35" fill="#85bede"/>
<rect x="309.80" y="63.70" width="3.42" height="5.35" fill="#bbdbed"/>
<rect x="312.72" y="63.70" width="3.42" height="5.35" fill="#ffffff"/>
<rect x="315.64" y="63.70" width="3.42" height="5.35" fill="#f7e5d7"/>
<rect x="318.56" y="63.70" width="3.42" height="5.35" fill="#ffffff"/>
<rect x="321.48" y="63.70" width="3.42" height="5.35" fill="#ddedf6"/>
<rect x="324.40" y="63.70" width="3.42" height="5.35" fill="#ffffff"/>
<rect x="327.32" y="63.70" width="3.42" height="5.35" fill="#d77b39"/>
<rect x="330.24" y="63.70" width="3.42" height="5.35" fill="#f7e5d7"/>
<rect x="333.16" y="63.70" width="3.42" height="5.35" fill="#ffffff"/>
<rect x="336.08" y="63.70" width="3.42" height="5.35" fill="#f7e5d7"/>
<rect x="339.00" y="63.70" width="3.42" height="5.35" fill="#ddedf6"/>
<rect x="341.92" y="63.70" width="3.42" height="5.35" fill="#f7e5d7"/>
<rect x="344.84" y="63.70" width="3.42" height="5.35" fill="#ddedf6"/>
<rect x="347.76" y="63.70" width="3.42" height="5.35" fill="#bbdbed"/>
<rect x="350.68" y="63.70" width="3.42" height="5.35" fill="#bbdbed"/>
<rect x="353.60" y="63.70" width="3.42" height="5.35" fill="#ffffff"/>
<rect x="356.52" y="63.70" width="3.42" height="5.35" fill="#99c9e3"/>
<rect x="359.44" y="63.70" width="3.42" height="5.35" fill="#ffffff"/>
<rect x="362.36" y="63.70" width="3.42" height="5.35" fill="#ddedf6"/>
<rect x="365.28" y="63.70" width="3.42" height="5.35" fill="#e7b088"/>
<rect x="368.20" y="63.70" width="3.42" height="5.35" fill="#e7b088"/>
<rect x="371.12" y="63.70" width="3.42" height="5.35" fill="#ffffff"/>
<rect x="374.04" y="63.70" width="2.92" height="5.35" fill="#ffffff"/>
<rect x="378.40" y="63.70" width="2.92" height="5.35" fill="#ecc0a0"/>
<rect x="383.10" y="63.70" width="3.42" height="5.35" fill="#f7e5d7"/>
<rect x="386.02" y="63.70" width="3.42" height="5.35" fill="#f7e5d7"/>
<rect x="388.94" y="63.70" width="3.42" height="5.35" fill="#ddedf6"/>
<rect x="391.86" y="63.70" width="3.42" height="5.35" fill="#e7b088"/>
<rect x="394.78" y="63.70" width="3.42" height="5.35" fill="#ddedf6"/>
<rect x="397.70" y="63.70" width="3.42" height="5.35" fill="#ddedf6"/>
<rect x="400.62" y="63.70" width="3.42" height="5.35" fill="#ddedf6"/>
<rect x="403.54" y="63.70" width="3.42" height="5.35" fill="#ddedf6"/>
<rect x="406.46" y="63.70" width="3.42" height="5.35" fill="#efcab0"/>
<rect x="409.38" y="63.70" width="2.92" height="5.35" fill="#efcab0"/>
<rect x="266.00" y="68.55" width="3.42" height="5.35" fill="#f7e5d7"/>
<rect x="268.92" y="68.55" width="3.42" height="5.35" fill="#f7e5d7"/>
<rect x="271.84" y="68.55" width="3.42" height="5.35" fill="#ddedf6"/>
<rect x="274.76" y="68.55" width="3.42" height="5.35" fill="#ddedf6"/>
<rect x="277.68" y="68.55" width="3.42" height="5.35" fill="#f7e5d7"/>
<rect x="280.60" y="68.55" width="3.42" height="5.35" fill="#ddedf6"/>
<rect x="283.52" y="68.55" width="3.42" height="5.35" fill="#ddedf6"/>
<rect x="286.44" y="68.55" width="3.42" height="5.35" fill="#bbdbed"/>
<rect x="289.36" y="68.55" width="3.42" height="5.35" fill="#bbdbed"/>
<rect x="292.28" y="68.55" width="3.42" height="5.35" fill="#a7d0e7"/>
<rect x="295.20" y="68.55" width="3.42" height="5.35" fill="#bbdbed"/>
<rect x="298.12" y="68.55" width="3.42" height="5.35" fill="#bbdbed"/>
<rect x="301.04" y="68.55" width="3.42" height="5.35" fill="#bbdbed"/>
<rect x="303.96" y="68.55" width="3.42" height="5.35" fill="#bbdbed"/>
<rect x="306.88" y="68.55" width="3.42" height="5.35" fill="#bbdbed"/>
<rect x="309.80" y="68.55" width="3.42" height="5.35" fill="#f7e5d7"/>
<rect x="312.72" y="68.55" width="3.42" height="5.35" fill="#ddedf6"/>
<rect x="315.64" y="68.55" width="3.42" height="5.35" fill="#bbdbed"/>
<rect x="318.56" y="68.55" width="3.42" height="5.35" fill="#ddedf6"/>
<rect x="321.48" y="68.55" width="3.42" height="5.35" fill="#ffffff"/>
<rect x="324.40" y="68.55" width="3.42" height="5.35" fill="#efcab0"/>
<rect x="327.32" y="68.55" width="3.42" height="5.35" fill="#efcab0"/>
<rect x="330.24" y="68.55" width="3.42" height="5.35" fill="#e2a071"/>
<rect x="333.16" y="68.55" width="3.42" height="5.35" fill="#efcab0"/>
<rect x="336.08" y="68.55" width="3.42" height="5.35" fill="#efcab0"/>
<rect x="339.00" y="68.55" width="3.42" height="5.35" fill="#bbdbed"/>
<rect x="341.92" y="68.55" width="3.42" height="5.35" fill="#ddedf6"/>
<rect x="344.84" y="68.55" width="3.42" height="5.35" fill="#ddedf6"/>
<rect x="347.76" y="68.55" width="3.42" height="5.35" fill="#f7e5d7"/>
<rect x="350.68" y="68.55" width="3.42" height="5.35" fill="#ffffff"/>
<rect x="353.60" y="68.55" width="3.42" height="5.35" fill="#ffffff"/>
<rect x="356.52" y="68.55" width="3.42" height="5.35" fill="#ddedf6"/>
<rect x="359.44" y="68.55" width="3.42" height="5.35" fill="#ddedf6"/>
<rect x="362.36" y="68.55" width="3.42" height="5.35" fill="#f7e5d7"/>
<rect x="365.28" y="68.55" width="3.42" height="5.35" fill="#bbdbed"/>
<rect x="368.20" y="68.55" width="3.42" height="5.35" fill="#f7e5d7"/>
<rect x="371.12" y="68.55" width="3.42" height="5.35" fill="#ffffff"/>
<rect x="374.04" y="68.55" width="2.92" height="5.35" fill="#f7e5d7"/>
<rect x="378.40" y="68.55" width="2.92" height="5.35" fill="#df9661"/>
<rect x="383.10" y="68.55" width="3.42" height="5.35" fill="#ffffff"/>
<rect x="386.02" y="68.55" width="3.42" height="5.35" fill="#f7e5d7"/>
<rect x="388.94" y="68.55" width="3.42" height="5.35" fill="#df9661"/>
<rect x="391.86" y="68.55" width="3.42" height="5.35" fill="#efcab0"/>
<rect x="394.78" y="68.55" width="3.42" height="5.35" fill="#ddedf6"/>
<rect x="397.70" y="68.55" width="3.42" height="5.35" fill="#bbdbed"/>
<rect x="400.62" y="68.55" width="3.42" height="5.35" fill="#ddedf6"/>
<rect x="403.54" y="68.55" width="3.42" height="5.35" fill="#bbdbed"/>
<rect x="406.46" y="68.55" width="3.42" height="5.35" fill="#bbdbed"/>
<rect x="409.38" y="68.55" width="2.92" height="5.35" fill="#ddedf6"/>
<rect x="266.00" y="73.40" width="3.42" height="5.35" fill="#efcab0"/>
<rect x="268.92" y="73.40" width="3.42" height="5.35" fill="#efcab0"/>
<rect x="271.84" y="73.40" width="3.42" height="5.35" fill="#ffffff"/>
<rect x="274.76" y="73.40" width="3.42" height="5.35" fill="#ffffff"/>
<rect x="277.68" y="73.40" width="3.42" height="5.35" fill="#f7e5d7"/>
<rect x="280.60" y="73.40" width="3.42" height="5.35" fill="#efcab0"/>
<rect x="283.52" y="73.40" width="3.42" height="5.35" fill="#ddedf6"/>
<rect x="286.44" y="73.40" width="3.42" height="5.35" fill="#ddedf6"/>
<rect x="289.36" y="73.40" width="3.42" height="5.35" fill="#bbdbed"/>
<rect x="292.28" y="73.40" width="3.42" height="5.35" fill="#ffffff"/>
<rect x="295.20" y="73.40" width="3.42" height="5.35" fill="#bbdbed"/>
<rect x="298.12" y="73.40" width="3.42" height="5.35" fill="#ddedf6"/>
<rect x="301.04" y="73.40" width="3.42" height="5.35" fill="#bbdbed"/>
<rect x="303.96" y="73.40" width="3.42" height="5.35" fill="#bbdbed"/>
<rect x="306.88" y="73.40" width="3.42" height="5.35" fill="#99c9e3"/>
<rect x="309.80" y="73.40" width="3.42" height="5.35" fill="#bbdbed"/>
<rect x="312.72" y="73.40" width="3.42" height="5.35" fill="#99c9e3"/>
<rect x="315.64" y="73.40" width="3.42" height="5.35" fill="#ffffff"/>
<rect x="318.56" y="73.40" width="3.42" height="5.35" fill="#ffffff"/>
<rect x="321.48" y="73.40" width="3.42" height="5.35" fill="#ffffff"/>
<rect x="324.40" y="73.40" width="3.42" height="5.35" fill="#f7e5d7"/>
<rect x="327.32" y="73.40" width="3.42" height="5.35" fill="#eabb98"/>
<rect x="330.24" y="73.40" width="3.42" height="5.35" fill="#efcab0"/>
<rect x="333.16" y="73.40" width="3.42" height="5.35" fill="#efcab0"/>
<rect x="336.08" y="73.40" width="3.42" height="5.35" fill="#f7e5d7"/>
<rect x="339.00" y="73.40" width="3.42" height="5.35" fill="#f7e5d7"/>
<rect x="341.92" y="73.40" width="3.42" height="5.35" fill="#f7e5d7"/>
<rect x="344.84" y="73.40" width="3.42" height="5.35" fill="#bbdbed"/>
<rect x="347.76" y="73.40" width="3.42" height="5.35" fill="#bbdbed"/>
<rect x="350.68" y="73.40" width="3.42" height="5.35" fill="#ffffff"/>
<rect x="353.60" y="73.40" width="3.42" height="5.35" fill="#ddedf6"/>
<rect x="356.52" y="73.40" width="3.42" height="5.35" fill="#bbdbed"/>
<rect x="359.44" y="73.40" width="3.42" height="5.35" fill="#bbdbed"/>
<rect x="362.36" y="73.40" width="3.42" height="5.35" fill="#a7d0e7"/>
<rect x="365.28" y="73.40" width="3.42" height="5.35" fill="#ffffff"/>
<rect x="368.20" y="73.40" width="3.42" height="5.35" fill="#f7e5d7"/>
<rect x="371.12" y="73.40" width="3.42" height="5.35" fill="#bbdbed"/>
<rect x="374.04" y="73.40" width="2.92" height="5.35" fill="#ddedf6"/>
<rect x="378.40" y="73.40" width="2.92" height="5.35" fill="#da8649"/>
<rect x="383.10" y="73.40" width="3.42" height="5.35" fill="#efcab0"/>
<rect x="386.02" y="73.40" width="3.42" height="5.35" fill="#f7e5d7"/>
<rect x="388.94" y="73.40" width="3.42" height="5.35" fill="#f7e5d7"/>
<rect x="391.86" y="73.40" width="3.42" height="5.35" fill="#efcab0"/>
<rect x="394.78" y="73.40" width="3.42" height="5.35" fill="#ddedf6"/>
<rect x="397.70" y="73.40" width="3.42" height="5.35" fill="#ddedf6"/>
<rect x="400.62" y="73.40" width="3.42" height="5.35" fill="#f7e5d7"/>
<rect x="403.54" y="73.40" width="3.42" height="5.35" fill="#bbdbed"/>
<rect x="406.46" y="73.40" width="3.42" height="5.35" fill="#ddedf6"/>
<rect x="409.38" y="73.40" width="2.92" height="5.35" fill="#efcab0"/>
<rect x="266.00" y="78.25" width="3.42" height="5.35" fill="#f7e5d7"/>
<rect x="268.92" y="78.25" width="3.42" height="5.35" fill="#ffffff"/>
<rect x="271.84" y="78.25" width="3.42" height="5.35" fill="#f7e5d7"/>
<rect x="274.76" y="78.25" width="3.42" height="5.35" fill="#eabb98"/>
<rect x="277.68" y="78.25" width="3.42" height="5.35" fill="#efcab0"/>
<rect x="280.60" y="78.25" width="3.42" height="5.35" fill="#f7e5d7"/>
<rect x="283.52" y="78.25" width="3.42" height="5.35" fill="#ddedf6"/>
<rect x="286.44" y="78.25" width="3.42" height="5.35" fill="#ddedf6"/>
<rect x="289.36" y="78.25" width="3.42" height="5.35" fill="#bbdbed"/>
<rect x="292.28" y="78.25" width="3.42" height="5.35" fill="#ddedf6"/>
<rect x="295.20" y="78.25" width="3.42" height="5.35" fill="#ddedf6"/>
<rect x="298.12" y="78.25" width="3.42" height="5.35" fill="#bbdbed"/>
<rect x="301.04" y="78.25" width="3.42" height="5.35" fill="#bbdbed"/>
<rect x="303.96" y="78.25" width="3.42" height="5.35" fill="#bbdbed"/>
<rect x="306.88" y="78.25" width="3.42" height="5.35" fill="#bbdbed"/>
<rect x="309.80" y="78.25" width="3.42" height="5.35" fill="#bbdbed"/>
<rect x="312.72" y="78.25" width="3.42" height="5.35" fill="#ffffff"/>
<rect x="315.64" y="78.25" width="3.42" height="5.35" fill="#ddedf6"/>
<rect x="318.56" y="78.25" width="3.42" height="5.35" fill="#bbdbed"/>
<rect x="321.48" y="78.25" width="3.42" height="5.35" fill="#bbdbed"/>
<rect x="324.40" y="78.25" width="3.42" height="5.35" fill="#f7e5d7"/>
<rect x="327.32" y="78.25" width="3.42" height="5.35" fill="#eabb98"/>
<rect x="330.24" y="78.25" width="3.42" height="5.35" fill="#eabb98"/>
<rect x="333.16" y="78.25" width="3.42" height="5.35" fill="#efcab0"/>
<rect x="336.08" y="78.25" width="3.42" height="5.35" fill="#f7e5d7"/>
<rect x="339.00" y="78.25" width="3.42" height="5.35" fill="#bbdbed"/>
<rect x="341.92" y="78.25" width="3.42" height="5.35" fill="#ddedf6"/>
<rect x="344.84" y="78.25" width="3.42" height="5.35" fill="#ddedf6"/>
<rect x="347.76" y="78.25" width="3.42" height="5.35" fill="#bbdbed"/>
<rect x="350.68" y="78.25" width="3.42" height="5.35" fill="#ddedf6"/>
<rect x="353.60" y="78.25" width="3.42" height="5.35" fill="#ddedf6"/>
<rect x="356.52" y="78.25" width="3.42" height="5.35" fill="#ddedf6"/>
<rect x="359.44" y="78.25" width="3.42" height="5.35" fill="#ddedf6"/>
<rect x="362.36" y="78.25" width="3.42" height="5.35" fill="#ffffff"/>
<rect x="365.28" y="78.25" width="3.42" height="5.35" fill="#bbdbed"/>
<rect x="368.20" y="78.25" width="3.42" height="5.35" fill="#ffffff"/>
<rect x="371.12" y="78.25" width="3.42" height="5.35" fill="#bbdbed"/>
<rect x="374.04" y="78.25" width="2.92" height="5.35" fill="#ddedf6"/>
<rect x="378.40" y="78.25" width="2.92" height="5.35" fill="#da8649"/>
<rect x="383.10" y="78.25" width="3.42" height="5.35" fill="#f7e5d7"/>
<rect x="386.02" y="78.25" width="3.42" height="5.35" fill="#f7e5d7"/>
<rect x="388.94" y="78.25" width="3.42" height="5.35" fill="#efcab0"/>
<rect x="391.86" y="78.25" width="3.42" height="5.35" fill="#efcab0"/>
<rect x="394.78" y="78.25" width="3.42" height="5.35" fill="#bbdbed"/>
<rect x="397.70" y="78.25" width="3.42" height="5.35" fill="#a7d0e7"/>
<rect x="400.62" y="78.25" width="3.42" height="5.35" fill="#f7e5d7"/>
<rect x="403.54" y="78.25" width="3.42" height="5.35" fill="#f7e5d7"/>
<rect x="406.46" y="78.25" width="3.42" height="5.35" fill="#efcab0"/>
<rect x="409.38" y="78.25" width="2.92" height="5.35" fill="#efcab0"/>
<rect x="266.00" y="83.10" width="3.42" height="5.35" fill="#f7e5d7"/>
<rect x="268.92" y="83.10" width="3.42" height="5.35" fill="#f7e5d7"/>
<rect x="271.84" y="83.10" width="3.42" height="5.35" fill="#ffffff"/>
<rect x="274.76" y="83.10" width="3.42" height="5.35" fill="#efcab0"/>
<rect x="277.68" y="83.10" width="3.42" height="5.35" fill="#efcab0"/>
<rect x="280.60" y="83.10" width="3.42" height="5.35" fill="#efcab0"/>
<rect x="283.52" y="83.10" width="3.42" height="5.35" fill="#ddedf6"/>
<rect x="286.44" y="83.10" width="3.42" height="5.35" fill="#ddedf6"/>
<rect x="289.36" y="83.10" width="3.42" height="5.35" fill="#bbdbed"/>
<rect x="292.28" y="83.10" width="3.42" height="5.35" fill="#ffffff"/>
<rect x="295.20" y="83.10" width="3.42" height="5.35" fill="#bbdbed"/>
<rect x="298.12" y="83.10" width="3.42" height="5.35" fill="#bbdbed"/>
<rect x="301.04" y="83.10" width="3.42" height="5.35" fill="#bbdbed"/>
<rect x="303.96" y="83.10" width="3.42" height="5.35" fill="#bbdbed"/>
<rect x="306.88" y="83.10" width="3.42" height="5.35" fill="#bbdbed"/>
<rect x="309.80" y="83.10" width="3.42" height="5.35" fill="#bbdbed"/>
<rect x="312.72" y="83.10" width="3.42" height="5.35" fill="#bbdbed"/>
<rect x="315.64" y="83.10" width="3.42" height="5.35" fill="#ddedf6"/>
<rect x="318.56" y="83.10" width="3.42" height="5.35" fill="#ffffff"/>
<rect x="321.48" y="83.10" width="3.42" height="5.35" fill="#ddedf6"/>
<rect x="324.40" y="83.10" width="3.42" height="5.35" fill="#f7e5d7"/>
<rect x="327.32" y="83.10" width="3.42" height="5.35" fill="#eabb98"/>
<rect x="330.24" y="83.10" width="3.42" height="5.35" fill="#eabb98"/>
<rect x="333.16" y="83.10" width="3.42" height="5.35" fill="#eabb98"/>
<rect x="336.08" y="83.10" width="3.42" height="5.35" fill="#efcab0"/>
<rect x="339.00" y="83.10" width="3.42" height="5.35" fill="#ffffff"/>
<rect x="341.92" y="83.10" width="3.42" height="5.35" fill="#ffffff"/>
<rect x="344.84" y="83.10" width="3.42" height="5.35" fill="#ffffff"/>
<rect x="347.76" y="83.10" width="3.42" height="5.35" fill="#a7d0e7"/>
<rect x="350.68" y="83.10" width="3.42" height="5.35" fill="#bbdbed"/>
<rect x="353.60" y="83.10" width="3.42" height="5.35" fill="#bbdbed"/>
<rect x="356.52" y="83.10" width="3.42" height="5.35" fill="#bbdbed"/>
<rect x="359.44" y="83.10" width="3.42" height="5.35" fill="#ddedf6"/>
<rect x="362.36" y="83.10" width="3.42" height="5.35" fill="#ddedf6"/>
<rect x="365.28" y="83.10" width="3.42" height="5.35" fill="#f7e5d7"/>
<rect x="368.20" y="83.10" width="3.42" height="5.35" fill="#ffffff"/>
<rect x="371.12" y="83.10" width="3.42" height="5.35" fill="#bbdbed"/>
<rect x="374.04" y="83.10" width="2.92" height="5.35" fill="#bbdbed"/>
<rect x="378.40" y="83.10" width="2.92" height="5.35" fill="#dc8b51"/>
<rect x="383.10" y="83.10" width="3.42" height="5.35" fill="#f7e5d7"/>
<rect x="386.02" y="83.10" width="3.42" height="5.35" fill="#f7e5d7"/>
<rect x="388.94" y="83.10" width="3.42" height="5.35" fill="#f7e5d7"/>
<rect x="391.86" y="83.10" width="3.42" height="5.35" fill="#efcab0"/>
<rect x="394.78" y="83.10" width="3.42" height="5.35" fill="#bbdbed"/>
<rect x="397.70" y="83.10" width="3.42" height="5.35" fill="#bbdbed"/>
<rect x="400.62" y="83.10" width="3.42" height="5.35" fill="#ffffff"/>
<rect x="403.54" y="83.10" width="3.42" height="5.35" fill="#ffffff"/>
<rect x="406.46" y="83.10" width="3.42" height="5.35" fill="#ffffff"/>
<rect x="409.38" y="83.10" width="2.92" height="5.35" fill="#efcab0"/>
<rect x="266.00" y="87.95" width="3.42" height="5.35" fill="#ffffff"/>
<rect x="268.92" y="87.95" width="3.42" height="5.35" fill="#ffffff"/>
<rect x="271.84" y="87.95" width="3.42" height="5.35" fill="#eabb98"/>
<rect x="274.76" y="87.95" width="3.42" height="5.35" fill="#bbdbed"/>
<rect x="277.68" y="87.95" width="3.42" height="5.35" fill="#bbdbed"/>
<rect x="280.60" y="87.95" width="3.42" height="5.35" fill="#f7e5d7"/>
<rect x="283.52" y="87.95" width="3.42" height="5.35" fill="#ddedf6"/>
<rect x="286.44" y="87.95" width="3.42" height="5.35" fill="#ddedf6"/>
<rect x="289.36" y="87.95" width="3.42" height="5.35" fill="#bbdbed"/>
<rect x="292.28" y="87.95" width="3.42" height="5.35" fill="#bbdbed"/>
<rect x="295.20" y="87.95" width="3.42" height="5.35" fill="#ffffff"/>
<rect x="298.12" y="87.95" width="3.42" height="5.35" fill="#ffffff"/>
<rect x="301.04" y="87.95" width="3.42" height="5.35" fill="#ddedf6"/>
<rect x="303.96" y="87.95" width="3.42" height="5.35" fill="#ddedf6"/>
<rect x="306.88" y="87.95" width="3.42" height="5.35" fill="#ddedf6"/>
<rect x="309.80" y="87.95" width="3.42" height="5.35" fill="#bbdbed"/>
<rect x="312.72" y="87.95" width="3.42" height="5.35" fill="#bbdbed"/>
<rect x="315.64" y="87.95" width="3.42" height="5.35" fill="#ffffff"/>
<rect x="318.56" y="87.95" width="3.42" height="5.35" fill="#ffffff"/>
<rect x="321.48" y="87.95" width="3.42" height="5.35" fill="#ffffff"/>
<rect x="324.40" y="87.95" width="3.42" height="5.35" fill="#d26c21"/>
<rect x="327.32" y="87.95" width="3.42" height="5.35" fill="#f7e5d7"/>
<rect x="330.24" y="87.95" width="3.42" height="5.35" fill="#f7e5d7"/>
<rect x="333.16" y="87.95" width="3.42" height="5.35" fill="#f7e5d7"/>
<rect x="336.08" y="87.95" width="3.42" height="5.35" fill="#ffffff"/>
<rect x="339.00" y="87.95" width="3.42" height="5.35" fill="#ffffff"/>
<rect x="341.92" y="87.95" width="3.42" height="5.35" fill="#ffffff"/>
<rect x="344.84" y="87.95" width="3.42" height="5.35" fill="#f7e5d7"/>
<rect x="347.76" y="87.95" width="3.42" height="5.35" fill="#ffffff"/>
<rect x="350.68" y="87.95" width="3.42" height="5.35" fill="#f7e5d7"/>
<rect x="353.60" y="87.95" width="3.42" height="5.35" fill="#f7e5d7"/>
<rect x="356.52" y="87.95" width="3.42" height="5.35" fill="#f7e5d7"/>
<rect x="359.44" y="87.95" width="3.42" height="5.35" fill="#ffffff"/>
<rect x="362.36" y="87.95" width="3.42" height="5.35" fill="#ddedf6"/>
<rect x="365.28" y="87.95" width="3.42" height="5.35" fill="#ffffff"/>
<rect x="368.20" y="87.95" width="3.42" height="5.35" fill="#efcab0"/>
<rect x="371.12" y="87.95" width="3.42" height="5.35" fill="#ffffff"/>
<rect x="374.04" y="87.95" width="2.92" height="5.35" fill="#bbdbed"/>
<rect x="378.40" y="87.95" width="2.92" height="5.35" fill="#c9e2f0"/>
<rect x="383.10" y="87.95" width="3.42" height="5.35" fill="#efcab0"/>
<rect x="386.02" y="87.95" width="3.42" height="5.35" fill="#bbdbed"/>
<rect x="388.94" y="87.95" width="3.42" height="5.35" fill="#ffffff"/>
<rect x="391.86" y="87.95" width="3.42" height="5.35" fill="#a7d0e7"/>
<rect x="394.78" y="87.95" width="3.42" height="5.35" fill="#a7d0e7"/>
<rect x="397.70" y="87.95" width="3.42" height="5.35" fill="#ddedf6"/>
<rect x="400.62" y="87.95" width="3.42" height="5.35" fill="#efcab0"/>
<rect x="403.54" y="87.95" width="3.42" height="5.35" fill="#f7e5d7"/>
<rect x="406.46" y="87.95" width="3.42" height="5.35" fill="#bbdbed"/>
<rect x="409.38" y="87.95" width="2.92" height="5.35" fill="#bbdbed"/>
<rect x="266.00" y="92.80" width="3.42" height="5.35" fill="#efcab0"/>
<rect x="268.92" y="92.80" width="3.42" height="5.35" fill="#ffffff"/>
<rect x="271.84" y="92.80" width="3.42" height="5.35" fill="#eabb98"/>
<rect x="274.76" y="92.80" width="3.42" height="5.35" fill="#bbdbed"/>
<rect x="277.68" y="92.80" width="3.42" height="5.35" fill="#ddedf6"/>
<rect x="280.60" y="92.80" width="3.42" height="5.35" fill="#bbdbed"/>
<rect x="283.52" y="92.80" width="3.42" height="5.35" fill="#bbdbed"/>
<rect x="286.44" y="92.80" width="3.42" height="5.35" fill="#ddedf6"/>
<rect x="289.36" y="92.80" width="3.42" height="5.35" fill="#bbdbed"/>
<rect x="292.28" y="92.80" width="3.42" height="5.35" fill="#bbdbed"/>
<rect x="295.20" y="92.80" width="3.42" height="5.35" fill="#ffffff"/>
<rect x="298.12" y="92.80" width="3.42" height="5.35" fill="#bbdbed"/>
<rect x="301.04" y="92.80" width="3.42" height="5.35" fill="#f7e5d7"/>
<rect x="303.96" y="92.80" width="3.42" height="5.35" fill="#bbdbed"/>
<rect x="306.88" y="92.80" width="3.42" height="5.35" fill="#99c9e3"/>
<rect x="309.80" y="92.80" width="3.42" height="5.35" fill="#bbdbed"/>
<rect x="312.72" y="92.80" width="3.42" height="5.35" fill="#bbdbed"/>
<rect x="315.64" y="92.80" width="3.42" height="5.35" fill="#ffffff"/>
<rect x="318.56" y="92.80" width="3.42" height="5.35" fill="#efcab0"/>
<rect x="321.48" y="92.80" width="3.42" height="5.35" fill="#ffffff"/>
<rect x="324.40" y="92.80" width="3.42" height="5.35" fill="#f7e5d7"/>
<rect x="327.32" y="92.80" width="3.42" height="5.35" fill="#efcab0"/>
<rect x="330.24" y="92.80" width="3.42" height="5.35" fill="#e7b088"/>
<rect x="333.16" y="92.80" width="3.42" height="5.35" fill="#efcab0"/>
<rect x="336.08" y="92.80" width="3.42" height="5.35" fill="#efcab0"/>
<rect x="339.00" y="92.80" width="3.42" height="5.35" fill="#f7e5d7"/>
<rect x="341.92" y="92.80" width="3.42" height="5.35" fill="#ffffff"/>
<rect x="344.84" y="92.80" width="3.42" height="5.35" fill="#ffffff"/>
<rect x="347.76" y="92.80" width="3.42" height="5.35" fill="#ffffff"/>
<rect x="350.68" y="92.80" width="3.42" height="5.35" fill="#f7e5d7"/>
<rect x="353.60" y="92.80" width="3.42" height="5.35" fill="#bbdbed"/>
<rect x="356.52" y="92.80" width="3.42" height="5.35" fill="#bbdbed"/>
<rect x="359.44" y="92.80" width="3.42" height="5.35" fill="#f7e5d7"/>
<rect x="362.36" y="92.80" width="3.42" height="5.35" fill="#ffffff"/>
<rect x="365.28" y="92.80" width="3.42" height="5.35" fill="#f7e5d7"/>
<rect x="368.20" y="92.80" width="3.42" height="5.35" fill="#f7e5d7"/>
<rect x="371.12" y="92.80" width="3.42" height="5.35" fill="#ffffff"/>
<rect x="374.04" y="92.80" width="2.92" height="5.35" fill="#f7e5d7"/>
<rect x="378.40" y="92.80" width="2.92" height="5.35" fill="#f7e5d7"/>
<rect x="383.10" y="92.80" width="3.42" height="5.35" fill="#f7e5d7"/>
<rect x="386.02" y="92.80" width="3.42" height="5.35" fill="#ddedf6"/>
<rect x="388.94" y="92.80" width="3.42" height="5.35" fill="#ffffff"/>
<rect x="391.86" y="92.80" width="3.42" height="5.35" fill="#f7e5d7"/>
<rect x="394.78" y="92.80" width="3.42" height="5.35" fill="#99c9e3"/>
<rect x="397.70" y="92.80" width="3.42" height="5.35" fill="#bbdbed"/>
<rect x="400.62" y="92.80" width="3.42" height="5.35" fill="#e2a071"/>
<rect x="403.54" y="92.80" width="3.42" height="5.35" fill="#f7e5d7"/>
<rect x="406.46" y="92.80" width="3.42" height="5.35" fill="#bbdbed"/>
<rect x="409.38" y="92.80" width="2.92" height="5.35" fill="#f7e5d7"/>
<rect x="266.00" y="97.65" width="3.42" height="5.35" fill="#efcab0"/>
<rect x="268.92" y="97.65" width="3.42" height="5.35" fill="#efcab0"/>
<rect x="271.84" y="97.65" width="3.42" height="5.35" fill="#efcab0"/>
<rect x="274.76" y="97.65" width="3.42" height="5.35" fill="#ddedf6"/>
<rect x="277.68" y="97.65" width="3.42" height="5.35" fill="#ffffff"/>
<rect x="280.60" y="97.65" width="3.42" height="5.35" fill="#ddedf6"/>
<rect x="283.52" y="97.65" width="3.42" height="5.35" fill="#bbdbed"/>
<rect x="286.44" y="97.65" width="3.42" height="5.35" fill="#ffffff"/>
<rect x="289.36" y="97.65" width="3.42" height="5.35" fill="#bbdbed"/>
<rect x="292.28" y="97.65" width="3.42" height="5.35" fill="#ddedf6"/>
<rect x="295.20" y="97.65" width="3.42" height="5.35" fill="#f7e5d7"/>
<rect x="298.12" y="97.65" width="3.42" height="5.35" fill="#ddedf6"/>
<rect x="301.04" y="97.65" width="3.42" height="5.35" fill="#ddedf6"/>
<rect x="303.96" y="97.65" width="3.42" height="5.35" fill="#bbdbed"/>
<rect x="306.88" y="97.65" width="3.42" height="5.35" fill="#ffffff"/>
<rect x="309.80" y="97.65" width="3.42" height="5.35" fill="#bbdbed"/>
<rect x="312.72" y="97.65" width="3.42" height="5.35" fill="#f7e5d7"/>
<rect x="315.64" y="97.65" width="3.42" height="5.35" fill="#ddedf6"/>
<rect x="318.56" y="97.65" width="3.42" height="5.35" fill="#f7e5d7"/>
<rect x="321.48" y="97.65" width="3.42" height="5.35" fill="#bbdbed"/>
<rect x="324.40" y="97.65" width="3.42" height="5.35" fill="#f7e5d7"/>
<rect x="327.32" y="97.65" width="3.42" height="5.35" fill="#f7e5d7"/>
<rect x="330.24" y="97.65" width="3.42" height="5.35" fill="#eabb98"/>
<rect x="333.16" y="97.65" width="3.42" height="5.35" fill="#efcab0"/>
<rect x="336.08" y="97.65" width="3.42" height="5.35" fill="#df9661"/>
<rect x="339.00" y="97.65" width="3.42" height="5.35" fill="#ddedf6"/>
<rect x="341.92" y="97.65" width="3.42" height="5.35" fill="#f7e5d7"/>
<rect x="344.84" y="97.65" width="3.42" height="5.35" fill="#efcab0"/>
<rect x="347.76" y="97.65" width="3.42" height="5.35" fill="#f7e5d7"/>
<rect x="350.68" y="97.65" width="3.42" height="5.35" fill="#ffffff"/>
<rect x="353.60" y="97.65" width="3.42" height="5.35" fill="#ffffff"/>
<rect x="356.52" y="97.65" width="3.42" height="5.35" fill="#efcab0"/>
<rect x="359.44" y="97.65" width="3.42" height="5.35" fill="#ffffff"/>
<rect x="362.36" y="97.65" width="3.42" height="5.35" fill="#f7e5d7"/>
<rect x="365.28" y="97.65" width="3.42" height="5.35" fill="#85bede"/>
<rect x="368.20" y="97.65" width="3.42" height="5.35" fill="#ffffff"/>
<rect x="371.12" y="97.65" width="3.42" height="5.35" fill="#ddedf6"/>
<rect x="374.04" y="97.65" width="2.92" height="5.35" fill="#ffffff"/>
<rect x="378.40" y="97.65" width="2.92" height="5.35" fill="#f7e5d7"/>
<rect x="383.10" y="97.65" width="3.42" height="5.35" fill="#efcab0"/>
<rect x="386.02" y="97.65" width="3.42" height="5.35" fill="#ffffff"/>
<rect x="388.94" y="97.65" width="3.42" height="5.35" fill="#efcab0"/>
<rect x="391.86" y="97.65" width="3.42" height="5.35" fill="#bbdbed"/>
<rect x="394.78" y="97.65" width="3.42" height="5.35" fill="#ddedf6"/>
<rect x="397.70" y="97.65" width="3.42" height="5.35" fill="#a7d0e7"/>
<rect x="400.62" y="97.65" width="3.42" height="5.35" fill="#efcab0"/>
<rect x="403.54" y="97.65" width="3.42" height="5.35" fill="#ddedf6"/>
<rect x="406.46" y="97.65" width="3.42" height="5.35" fill="#ddedf6"/>
<rect x="409.38" y="97.65" width="2.92" height="5.35" fill="#99c9e3"/>
<rect x="266.00" y="102.50" width="3.42" height="5.35" fill="#eabb98"/>
<rect x="268.92" y="102.50" width="3.42" height="5.35" fill="#ddedf6"/>
<rect x="271.84" y="102.50" width="3.42" height="5.35" fill="#f7e5d7"/>
<rect x="274.76" y="102.50" width="3.42" height="5.35" fill="#bbdbed"/>
<rect x="277.68" y="102.50" width="3.42" height="5.35" fill="#99c9e3"/>
<rect x="280.60" y="102.50" width="3.42" height="5.35" fill="#bbdbed"/>
<rect x="283.52" y="102.50" width="3.42" height="5.35" fill="#99c9e3"/>
<rect x="286.44" y="102.50" width="3.42" height="5.35" fill="#85bede"/>
<rect x="289.36" y="102.50" width="3.42" height="5.35" fill="#f7e5d7"/>
<rect x="292.28" y="102.50" width="3.42" height="5.35" fill="#bbdbed"/>
<rect x="295.20" y="102.50" width="3.42" height="5.35" fill="#ffffff"/>
<rect x="298.12" y="102.50" width="3.42" height="5.35" fill="#ffffff"/>
<rect x="301.04" y="102.50" width="3.42" height="5.35" fill="#ddedf6"/>
<rect x="303.96" y="102.50" width="3.42" height="5.35" fill="#ffffff"/>
<rect x="306.88" y="102.50" width="3.42" height="5.35" fill="#ffffff"/>
<rect x="309.80" y="102.50" width="3.42" height="5.35" fill="#ddedf6"/>
<rect x="312.72" y="102.50" width="3.42" height="5.35" fill="#efcab0"/>
<rect x="315.64" y="102.50" width="3.42" height="5.35" fill="#efcab0"/>
<rect x="318.56" y="102.50" width="3.42" height="5.35" fill="#f7e5d7"/>
<rect x="321.48" y="102.50" width="3.42" height="5.35" fill="#85bede"/>
<rect x="324.40" y="102.50" width="3.42" height="5.35" fill="#f7e5d7"/>
<rect x="327.32" y="102.50" width="3.42" height="5.35" fill="#f7e5d7"/>
<rect x="330.24" y="102.50" width="3.42" height="5.35" fill="#efcab0"/>
<rect x="333.16" y="102.50" width="3.42" height="5.35" fill="#bbdbed"/>
<rect x="336.08" y="102.50" width="3.42" height="5.35" fill="#f7e5d7"/>
<rect x="339.00" y="102.50" width="3.42" height="5.35" fill="#ffffff"/>
<rect x="341.92" y="102.50" width="3.42" height="5.35" fill="#ddedf6"/>
<rect x="344.84" y="102.50" width="3.42" height="5.35" fill="#eabb98"/>
<rect x="347.76" y="102.50" width="3.42" height="5.35" fill="#f7e5d7"/>
<rect x="350.68" y="102.50" width="3.42" height="5.35" fill="#ffffff"/>
<rect x="353.60" y="102.50" width="3.42" height="5.35" fill="#f7e5d7"/>
<rect x="356.52" y="102.50" width="3.42" height="5.35" fill="#f7e5d7"/>
<rect x="359.44" y="102.50" width="3.42" height="5.35" fill="#efcab0"/>
<rect x="362.36" y="102.50" width="3.42" height="5.35" fill="#f7e5d7"/>
<rect x="365.28" y="102.50" width="3.42" height="5.35" fill="#f7e5d7"/>
<rect x="368.20" y="102.50" width="3.42" height="5.35" fill="#f7e5d7"/>
<rect x="371.12" y="102.50" width="3.42" height="5.35" fill="#f7e5d7"/>
<rect x="374.04" y="102.50" width="2.92" height="5.35" fill="#ddedf6"/>
<rect x="378.40" y="102.50" width="2.92" height="5.35" fill="#99c9e3"/>
<rect x="383.10" y="102.50" width="3.42" height="5.35" fill="#f7e5d7"/>
<rect x="386.02" y="102.50" width="3.42" height="5.35" fill="#ffffff"/>
<rect x="388.94" y="102.50" width="3.42" height="5.35" fill="#bbdbed"/>
<rect x="391.86" y="102.50" width="3.42" height="5.35" fill="#ffffff"/>
<rect x="394.78" y="102.50" width="3.42" height="5.35" fill="#f7e5d7"/>
<rect x="397.70" y="102.50" width="3.42" height="5.35" fill="#bbdbed"/>
<rect x="400.62" y="102.50" width="3.42" height="5.35" fill="#ffffff"/>
<rect x="403.54" y="102.50" width="3.42" height="5.35" fill="#f7e5d7"/>
<rect x="406.46" y="102.50" width="3.42" height="5.35" fill="#f7e5d7"/>
<rect x="409.38" y="102.50" width="2.92" height="5.35" fill="#ffffff"/>
<rect x="266.00" y="107.35" width="3.42" height="5.35" fill="#f7e5d7"/>
<rect x="268.92" y="107.35" width="3.42" height="5.35" fill="#f7e5d7"/>
<rect x="271.84" y="107.35" width="3.42" height="5.35" fill="#f7e5d7"/>
<rect x="274.76" y="107.35" width="3.42" height="5.35" fill="#99c9e3"/>
<rect x="277.68" y="107.35" width="3.42" height="5.35" fill="#a7d0e7"/>
<rect x="280.60" y="107.35" width="3.42" height="5.35" fill="#f7e5d7"/>
<rect x="283.52" y="107.35" width="3.42" height="5.35" fill="#a7d0e7"/>
<rect x="286.44" y="107.35" width="3.42" height="5.35" fill="#99c9e3"/>
<rect x="289.36" y="107.35" width="3.42" height="5.35" fill="#99c9e3"/>
<rect x="292.28" y="107.35" width="3.42" height="5.35" fill="#bbdbed"/>
<rect x="295.20" y="107.35" width="3.42" height="5.35" fill="#efcab0"/>
<rect x="298.12" y="107.35" width="3.42" height="5.35" fill="#f7e5d7"/>
<rect x="301.04" y="107.35" width="3.42" height="5.35" fill="#ffffff"/>
<rect x="303.96" y="107.35" width="3.42" height="5.35" fill="#bbdbed"/>
<rect x="306.88" y="107.35" width="3.42" height="5.35" fill="#85bede"/>
<rect x="309.80" y="107.35" width="3.42" height="5.35" fill="#ddedf6"/>
<rect x="312.72" y="107.35" width="3.42" height="5.35" fill="#ffffff"/>
<rect x="315.64" y="107.35" width="3.42" height="5.35" fill="#ddedf6"/>
<rect x="318.56" y="107.35" width="3.42" height="5.35" fill="#ffffff"/>
<rect x="321.48" y="107.35" width="3.42" height="5.35" fill="#ffffff"/>
<rect x="324.40" y="107.35" width="3.42" height="5.35" fill="#f7e5d7"/>
<rect x="327.32" y="107.35" width="3.42" height="5.35" fill="#e7b088"/>
<rect x="330.24" y="107.35" width="3.42" height="5.35" fill="#f7e5d7"/>
<rect x="333.16" y="107.35" width="3.42" height="5.35" fill="#ddedf6"/>
<rect x="336.08" y="107.35" width="3.42" height="5.35" fill="#f7e5d7"/>
<rect x="339.00" y="107.35" width="3.42" height="5.35" fill="#f7e5d7"/>
<rect x="341.92" y="107.35" width="3.42" height="5.35" fill="#f7e5d7"/>
<rect x="344.84" y="107.35" width="3.42" height="5.35" fill="#e7b088"/>
<rect x="347.76" y="107.35" width="3.42" height="5.35" fill="#f7e5d7"/>
<rect x="350.68" y="107.35" width="3.42" height="5.35" fill="#ffffff"/>
<rect x="353.60" y="107.35" width="3.42" height="5.35" fill="#ddedf6"/>
<rect x="356.52" y="107.35" width="3.42" height="5.35" fill="#ddedf6"/>
<rect x="359.44" y="107.35" width="3.42" height="5.35" fill="#f7e5d7"/>
<rect x="362.36" y="107.35" width="3.42" height="5.35" fill="#ddedf6"/>
<rect x="365.28" y="107.35" width="3.42" height="5.35" fill="#ffffff"/>
<rect x="368.20" y="107.35" width="3.42" height="5.35" fill="#f7e5d7"/>
<rect x="371.12" y="107.35" width="3.42" height="5.35" fill="#ffffff"/>
<rect x="374.04" y="107.35" width="2.92" height="5.35" fill="#f7e5d7"/>
<rect x="378.40" y="107.35" width="2.92" height="5.35" fill="#ddedf6"/>
<rect x="383.10" y="107.35" width="3.42" height="5.35" fill="#df9661"/>
<rect x="386.02" y="107.35" width="3.42" height="5.35" fill="#ddedf6"/>
<rect x="388.94" y="107.35" width="3.42" height="5.35" fill="#f7e5d7"/>
<rect x="391.86" y="107.35" width="3.42" height="5.35" fill="#f7e5d7"/>
<rect x="394.78" y="107.35" width="3.42" height="5.35" fill="#ffffff"/>
<rect x="397.70" y="107.35" width="3.42" height="5.35" fill="#efcab0"/>
<rect x="400.62" y="107.35" width="3.42" height="5.35" fill="#ffffff"/>
<rect x="403.54" y="107.35" width="3.42" height="5.35" fill="#ffffff"/>
<rect x="406.46" y="107.35" width="3.42" height="5.35" fill="#ddedf6"/>
<rect x="409.38" y="107.35" width="2.92" height="5.35" fill="#ffffff"/>
<rect x="266.00" y="112.20" width="3.42" height="5.35" fill="#f7e5d7"/>
<rect x="268.92" y="112.20" width="3.42" height="5.35" fill="#efcab0"/>
<rect x="271.84" y="112.20" width="3.42" height="5.35" fill="#f7e5d7"/>
<rect x="274.76" y="112.20" width="3.42" height="5.35" fill="#f7e5d7"/>
<rect x="277.68" y="112.20" width="3.42" height="5.35" fill="#ffffff"/>
<rect x="280.60" y="112.20" width="3.42" height="5.35" fill="#a7d0e7"/>
<rect x="283.52" y="112.20" width="3.42" height="5.35" fill="#ffffff"/>
<rect x="286.44" y="112.20" width="3.42" height="5.35" fill="#efcab0"/>
<rect x="289.36" y="112.20" width="3.42" height="5.35" fill="#e7b088"/>
<rect x="292.28" y="112.20" width="3.42" height="5.35" fill="#ffffff"/>
<rect x="295.20" y="112.20" width="3.42" height="5.35" fill="#f7e5d7"/>
<rect x="298.12" y="112.20" width="3.42" height="5.35" fill="#f7e5d7"/>
<rect x="301.04" y="112.20" width="3.42" height="5.35" fill="#ffffff"/>
<rect x="303.96" y="112.20" width="3.42" height="5.35" fill="#f7e5d7"/>
<rect x="306.88" y="112.20" width="3.42" height="5.35" fill="#f7e5d7"/>
<rect x="309.80" y="112.20" width="3.42" height="5.35" fill="#bbdbed"/>
<rect x="312.72" y="112.20" width="3.42" height="5.35" fill="#f7e5d7"/>
<rect x="315.64" y="112.20" width="3.42" height="5.35" fill="#ffffff"/>
<rect x="318.56" y="112.20" width="3.42" height="5.35" fill="#efcab0"/>
<rect x="321.48" y="112.20" width="3.42" height="5.35" fill="#efcab0"/>
<rect x="324.40" y="112.20" width="3.42" height="5.35" fill="#bbdbed"/>
<rect x="327.32" y="112.20" width="3.42" height="5.35" fill="#ddedf6"/>
<rect x="330.24" y="112.20" width="3.42" height="5.35" fill="#f7e5d7"/>
<rect x="333.16" y="112.20" width="3.42" height="5.35" fill="#ddedf6"/>
<rect x="336.08" y="112.20" width="3.42" height="5.35" fill="#f7e5d7"/>
<rect x="339.00" y="112.20" width="3.42" height="5.35" fill="#ddedf6"/>
<rect x="341.92" y="112.20" width="3.42" height="5.35" fill="#ddedf6"/>
<rect x="344.84" y="112.20" width="3.42" height="5.35" fill="#bbdbed"/>
<rect x="347.76" y="112.20" width="3.42" height="5.35" fill="#f7e5d7"/>
<rect x="350.68" y="112.20" width="3.42" height="5.35" fill="#bbdbed"/>
<rect x="353.60" y="112.20" width="3.42" height="5.35" fill="#ffffff"/>
<rect x="356.52" y="112.20" width="3.42" height="5.35" fill="#f7e5d7"/>
<rect x="359.44" y="112.20" width="3.42" height="5.35" fill="#efcab0"/>
<rect x="362.36" y="112.20" width="3.42" height="5.35" fill="#f7e5d7"/>
<rect x="365.28" y="112.20" width="3.42" height="5.35" fill="#ddedf6"/>
<rect x="368.20" y="112.20" width="3.42" height="5.35" fill="#bbdbed"/>
<rect x="371.12" y="112.20" width="3.42" height="5.35" fill="#f7e5d7"/>
<rect x="374.04" y="112.20" width="2.92" height="5.35" fill="#ddedf6"/>
<rect x="378.40" y="112.20" width="2.92" height="5.35" fill="#bbdbed"/>
<rect x="383.10" y="112.20" width="3.42" height="5.35" fill="#bbdbed"/>
<rect x="386.02" y="112.20" width="3.42" height="5.35" fill="#f7e5d7"/>
<rect x="388.94" y="112.20" width="3.42" height="5.35" fill="#6ab0d6"/>
<rect x="391.86" y="112.20" width="3.42" height="5.35" fill="#bbdbed"/>
<rect x="394.78" y="112.20" width="3.42" height="5.35" fill="#ffffff"/>
<rect x="397.70" y="112.20" width="3.42" height="5.35" fill="#ddedf6"/>
<rect x="400.62" y="112.20" width="3.42" height="5.35" fill="#f7e5d7"/>
<rect x="403.54" y="112.20" width="3.42" height="5.35" fill="#a7d0e7"/>
<rect x="406.46" y="112.20" width="3.42" height="5.35" fill="#f7e5d7"/>
<rect x="409.38" y="112.20" width="2.92" height="5.35" fill="#bbdbed"/>
<rect x="266.00" y="117.05" width="3.42" height="4.85" fill="#ddedf6"/>
<rect x="268.92" y="117.05" width="3.42" height="4.85" fill="#ffffff"/>
<rect x="271.84" y="117.05" width="3.42" height="4.85" fill="#efcab0"/>
<rect x="274.76" y="117.05" width="3.42" height="4.85" fill="#efcab0"/>
<rect x="277.68" y="117.05" width="3.42" height="4.85" fill="#eabb98"/>
<rect x="280.60" y="117.05" width="3.42" height="4.85" fill="#efcab0"/>
<rect x="283.52" y="117.05" width="3.42" height="4.85" fill="#f7e5d7"/>
<rect x="286.44" y="117.05" width="3.42" height="4.85" fill="#ffffff"/>
<rect x="289.36" y="117.05" width="3.42" height="4.85" fill="#e2a071"/>
<rect x="292.28" y="117.05" width="3.42" height="4.85" fill="#efcab0"/>
<rect x="295.20" y="117.05" width="3.42" height="4.85" fill="#f7e5d7"/>
<rect x="298.12" y="117.05" width="3.42" height="4.85" fill="#f7e5d7"/>
<rect x="301.04" y="117.05" width="3.42" height="4.85" fill="#ddedf6"/>
<rect x="303.96" y="117.05" width="3.42" height="4.85" fill="#bbdbed"/>
<rect x="306.88" y="117.05" width="3.42" height="4.85" fill="#bbdbed"/>
<rect x="309.80" y="117.05" width="3.42" height="4.85" fill="#bbdbed"/>
<rect x="312.72" y="117.05" width="3.42" height="4.85" fill="#ddedf6"/>
<rect x="315.64" y="117.05" width="3.42" height="4.85" fill="#bbdbed"/>
<rect x="318.56" y="117.05" width="3.42" height="4.85" fill="#ffffff"/>
<rect x="321.48" y="117.05" width="3.42" height="4.85" fill="#bbdbed"/>
<rect x="324.40" y="117.05" width="3.42" height="4.85" fill="#bbdbed"/>
<rect x="327.32" y="117.05" width="3.42" height="4.85" fill="#ffffff"/>
<rect x="330.24" y="117.05" width="3.42" height="4.85" fill="#bbdbed"/>
<rect x="333.16" y="117.05" width="3.42" height="4.85" fill="#ddedf6"/>
<rect x="336.08" y="117.05" width="3.42" height="4.85" fill="#ddedf6"/>
<rect x="339.00" y="117.05" width="3.42" height="4.85" fill="#a7d0e7"/>
<rect x="341.92" y="117.05" width="3.42" height="4.85" fill="#ddedf6"/>
<rect x="344.84" y="117.05" width="3.42" height="4.85" fill="#ddedf6"/>
<rect x="347.76" y="117.05" width="3.42" height="4.85" fill="#bbdbed"/>
<rect x="350.68" y="117.05" width="3.42" height="4.85" fill="#ddedf6"/>
<rect x="353.60" y="117.05" width="3.42" height="4.85" fill="#bbdbed"/>
<rect x="356.52" y="117.05" width="3.42" height="4.85" fill="#bbdbed"/>
<rect x="359.44" y="117.05" width="3.42" height="4.85" fill="#bbdbed"/>
<rect x="362.36" y="117.05" width="3.42" height="4.85" fill="#ffffff"/>
<rect x="365.28" y="117.05" width="3.42" height="4.85" fill="#f7e5d7"/>
<rect x="368.20" y="117.05" width="3.42" height="4.85" fill="#f7e5d7"/>
<rect x="371.12" y="117.05" width="3.42" height="4.85" fill="#efcab0"/>
<rect x="374.04" y="117.05" width="2.92" height="4.85" fill="#f7e5d7"/>
<rect x="378.40" y="117.05" width="2.92" height="4.85" fill="#efcab0"/>
<rect x="383.10" y="117.05" width="3.42" height="4.85" fill="#efcab0"/>
<rect x="386.02" y="117.05" width="3.42" height="4.85" fill="#e7b088"/>
<rect x="388.94" y="117.05" width="3.42" height="4.85" fill="#efcab0"/>
<rect x="391.86" y="117.05" width="3.42" height="4.85" fill="#f7e5d7"/>
<rect x="394.78" y="117.05" width="3.42" height="4.85" fill="#ddedf6"/>
<rect x="397.70" y="117.05" width="3.42" height="4.85" fill="#ddedf6"/>
<rect x="400.62" y="117.05" width="3.42" height="4.85" fill="#bbdbed"/>
<rect x="403.54" y="117.05" width="3.42" height="4.85" fill="#ddedf6"/>
<rect x="406.46" y="117.05" width="3.42" height="4.85" fill="#ddedf6"/>
<rect x="409.38" y="117.05" width="2.92" height="4.85" fill="#ddedf6"/>
<rect x="266.00" y="19.90" width="58.40" height="3.80" fill="#D4601C"/>
<rect x="324.40" y="19.90" width="52.56" height="3.80" fill="#3A7AB8"/>
<rect x="378.40" y="19.90" width="2.92" height="3.80" fill="#42A877"/>
<rect x="383.10" y="19.90" width="29.20" height="3.80" fill="#42A877"/>
<path d="M267.46 19.00V13.10H270.38V19.00" fill="none" stroke="#555" stroke-width="0.45"/>
<path d="M279.14 19.00V15.50H282.06V19.00" fill="none" stroke="#555" stroke-width="0.45"/>
<path d="M276.22 19.00V14.00H280.60V15.50" fill="none" stroke="#555" stroke-width="0.45"/>
<path d="M273.30 19.00V12.30H278.41V14.00" fill="none" stroke="#555" stroke-width="0.45"/>
<path d="M268.92 13.10V9.20H275.85V12.30" fill="none" stroke="#555" stroke-width="0.45"/>
<path d="M284.98 19.00V15.64H287.90V19.00" fill="none" stroke="#555" stroke-width="0.45"/>
<path d="M286.44 15.64V13.62H290.82V19.00" fill="none" stroke="#555" stroke-width="0.45"/>
<path d="M293.74 19.00V15.11H296.66V19.00" fill="none" stroke="#555" stroke-width="0.45"/>
<path d="M295.20 15.11V13.74H299.58V19.00" fill="none" stroke="#555" stroke-width="0.45"/>
<path d="M288.63 13.62V11.40H297.39V13.74" fill="none" stroke="#555" stroke-width="0.45"/>
<path d="M302.50 19.00V15.86H305.42V19.00" fill="none" stroke="#555" stroke-width="0.45"/>
<path d="M303.96 15.86V13.44H308.34V19.00" fill="none" stroke="#555" stroke-width="0.45"/>
<path d="M311.26 19.00V13.58H314.18V19.00" fill="none" stroke="#555" stroke-width="0.45"/>
<path d="M317.10 19.00V16.50H320.02V19.00" fill="none" stroke="#555" stroke-width="0.45"/>
<path d="M318.56 16.50V14.61H322.94V19.00" fill="none" stroke="#555" stroke-width="0.45"/>
<path d="M312.72 13.58V11.88H320.75V14.61" fill="none" stroke="#555" stroke-width="0.45"/>
<path d="M306.15 13.44V10.50H316.74V11.88" fill="none" stroke="#555" stroke-width="0.45"/>
<path d="M293.01 11.40V8.30H311.44V10.50" fill="none" stroke="#555" stroke-width="0.45"/>
<path d="M272.39 9.20V5.30H302.23V8.30" fill="none" stroke="#555" stroke-width="0.45"/>
<path d="M325.86 19.00V15.88H328.78V19.00" fill="none" stroke="#555" stroke-width="0.45"/>
<path d="M331.70 19.00V16.08H334.62V19.00" fill="none" stroke="#555" stroke-width="0.45"/>
<path d="M327.32 15.88V14.78H333.16V16.08" fill="none" stroke="#555" stroke-width="0.45"/>
<path d="M337.54 19.00V14.98H340.46V19.00" fill="none" stroke="#555" stroke-width="0.45"/>
<path d="M330.24 14.78V12.75H339.00V14.98" fill="none" stroke="#555" stroke-width="0.45"/>
<path d="M343.38 19.00V14.36H346.30V19.00" fill="none" stroke="#555" stroke-width="0.45"/>
<path d="M344.84 14.36V11.80H349.22V19.00" fill="none" stroke="#555" stroke-width="0.45"/>
<path d="M334.62 12.75V9.60H347.03V11.80" fill="none" stroke="#555" stroke-width="0.45"/>
<path d="M352.14 19.00V14.69H355.06V19.00" fill="none" stroke="#555" stroke-width="0.45"/>
<path d="M353.60 14.69V10.92H357.98V19.00" fill="none" stroke="#555" stroke-width="0.45"/>
<path d="M360.90 19.00V13.92H363.82V19.00" fill="none" stroke="#555" stroke-width="0.45"/>
<path d="M366.74 19.00V14.57H369.66V19.00" fill="none" stroke="#555" stroke-width="0.45"/>
<path d="M372.58 19.00V15.88H375.50V19.00" fill="none" stroke="#555" stroke-width="0.45"/>
<path d="M368.20 14.57V13.24H374.04V15.88" fill="none" stroke="#555" stroke-width="0.45"/>
<path d="M362.36 13.92V11.83H371.12V13.24" fill="none" stroke="#555" stroke-width="0.45"/>
<path d="M355.79 10.92V8.80H366.74V11.83" fill="none" stroke="#555" stroke-width="0.45"/>
<path d="M340.82 9.60V2.90H361.26V8.80" fill="none" stroke="#555" stroke-width="0.45"/>
<path d="M287.31 5.30V1.40H351.04V2.90" fill="none" stroke="#555" stroke-width="0.45"/>
<path d="M390.40 19.00V12.60H393.32V19.00" fill="none" stroke="#555" stroke-width="0.45"/>
<path d="M387.48 19.00V11.10H391.86V12.60" fill="none" stroke="#555" stroke-width="0.45"/>
<path d="M384.56 19.00V10.40H389.67V11.10" fill="none" stroke="#555" stroke-width="0.45"/>
<path d="M396.24 19.00V13.50H399.16V19.00" fill="none" stroke="#555" stroke-width="0.45"/>
<path d="M402.08 19.00V13.70H405.00V19.00" fill="none" stroke="#555" stroke-width="0.45"/>
<path d="M407.92 19.00V12.30H410.84V19.00" fill="none" stroke="#555" stroke-width="0.45"/>
<path d="M403.54 13.70V11.40H409.38V12.30" fill="none" stroke="#555" stroke-width="0.45"/>
<path d="M397.70 13.50V8.50H406.46V11.40" fill="none" stroke="#555" stroke-width="0.45"/>
<path d="M387.12 10.40V5.80H402.08V8.50" fill="none" stroke="#555" stroke-width="0.45"/>
<path d="M266.00 41.88H261.00V46.72H266.00" fill="none" stroke="#555" stroke-width="0.45"/>
<path d="M266.00 37.02H259.50V44.30H261.00" fill="none" stroke="#555" stroke-width="0.45"/>
<path d="M266.00 51.57H259.40V56.42H266.00" fill="none" stroke="#555" stroke-width="0.45"/>
<path d="M259.50 40.66H258.20V54.00H259.40" fill="none" stroke="#555" stroke-width="0.45"/>
<path d="M266.00 32.17H257.50V47.33H258.20" fill="none" stroke="#555" stroke-width="0.45"/>
<path d="M266.00 27.32H253.30V39.75H257.50" fill="none" stroke="#555" stroke-width="0.45"/>
<path d="M266.00 61.27H260.60V66.12H266.00" fill="none" stroke="#555" stroke-width="0.45"/>
<path d="M266.00 80.67H261.40V85.52H266.00" fill="none" stroke="#555" stroke-width="0.45"/>
<path d="M266.00 75.82H260.40V83.10H261.40" fill="none" stroke="#555" stroke-width="0.45"/>
<path d="M266.00 70.97H256.40V79.46H260.40" fill="none" stroke="#555" stroke-width="0.45"/>
<path d="M260.60 63.70H251.20V75.22H256.40" fill="none" stroke="#555" stroke-width="0.45"/>
<path d="M253.30 33.54H247.50V69.46H251.20" fill="none" stroke="#555" stroke-width="0.45"/>
<path d="M266.00 90.38H256.40V95.22H266.00" fill="none" stroke="#555" stroke-width="0.45"/>
<path d="M266.00 104.92H259.50V109.78H266.00" fill="none" stroke="#555" stroke-width="0.45"/>
<path d="M266.00 100.07H256.80V107.35H259.50" fill="none" stroke="#555" stroke-width="0.45"/>
<path d="M256.40 92.80H253.50V103.71H256.80" fill="none" stroke="#555" stroke-width="0.45"/>
<path d="M266.00 114.62H251.80V119.47H266.00" fill="none" stroke="#555" stroke-width="0.45"/>
<path d="M253.50 98.26H246.20V117.05H251.80" fill="none" stroke="#555" stroke-width="0.45"/>
<path d="M247.50 51.50H243.50V107.65H246.20" fill="none" stroke="#555" stroke-width="0.45"/>
<text x="414.00" y="28.26" font-size="2.6" text-anchor="start" fill="#222" stroke="#222" stroke-width="0.06" textLength="18.33" lengthAdjust="spacingAndGlyphs">OID00528_LAMP3</text>
<text x="414.00" y="33.11" font-size="2.6" text-anchor="start" fill="#222" stroke="#222" stroke-width="0.06" textLength="15.54" lengthAdjust="spacingAndGlyphs">OID00790_CD4</text>
<text x="414.00" y="37.96" font-size="2.6" text-anchor="start" fill="#222" stroke="#222" stroke-width="0.06" textLength="15.66" lengthAdjust="spacingAndGlyphs">OID00775_ADA</text>
<text x="414.00" y="42.81" font-size="2.6" text-anchor="start" fill="#222" stroke="#222" stroke-width="0.06" textLength="21.00" lengthAdjust="spacingAndGlyphs">OID00819_TNFRSF4</text>
<text x="414.00" y="47.66" font-size="2.6" text-anchor="start" fill="#222" stroke="#222" stroke-width="0.06" textLength="18.57" lengthAdjust="spacingAndGlyphs">OID00791_PDCD1</text>
<text x="414.00" y="52.51" font-size="2.6" text-anchor="start" fill="#222" stroke="#222" stroke-width="0.06" textLength="18.73" lengthAdjust="spacingAndGlyphs">OID00766_CRTAM</text>
<text x="414.00" y="57.36" font-size="2.6" text-anchor="start" fill="#222" stroke="#222" stroke-width="0.06" textLength="15.54" lengthAdjust="spacingAndGlyphs">OID00812_CD5</text>
<text x="414.00" y="62.21" font-size="2.6" text-anchor="start" fill="#222" stroke="#222" stroke-width="0.06" textLength="17.97" lengthAdjust="spacingAndGlyphs">OID00763_CD244</text>
<text x="414.00" y="67.06" font-size="2.6" text-anchor="start" fill="#222" stroke="#222" stroke-width="0.06" textLength="16.75" lengthAdjust="spacingAndGlyphs">OID00764_CD48</text>
<text x="414.00" y="71.91" font-size="2.6" text-anchor="start" fill="#222" stroke="#222" stroke-width="0.06" textLength="15.42" lengthAdjust="spacingAndGlyphs">OID00839_IL10</text>
<text x="414.00" y="76.76" font-size="2.6" text-anchor="start" fill="#222" stroke="#222" stroke-width="0.06" textLength="19.26" lengthAdjust="spacingAndGlyphs">OID00767_CXCL11</text>
<text x="414.00" y="81.61" font-size="2.6" text-anchor="start" fill="#222" stroke="#222" stroke-width="0.06" textLength="18.21" lengthAdjust="spacingAndGlyphs">OID00771_CXCL9</text>
<text x="414.00" y="86.46" font-size="2.6" text-anchor="start" fill="#222" stroke="#222" stroke-width="0.06" textLength="19.43" lengthAdjust="spacingAndGlyphs">OID00801_CXCL10</text>
<text x="414.00" y="91.31" font-size="2.6" text-anchor="start" fill="#222" stroke="#222" stroke-width="0.06" textLength="15.54" lengthAdjust="spacingAndGlyphs">OID00823_PTN</text>
<text x="414.00" y="96.16" font-size="2.6" text-anchor="start" fill="#222" stroke="#222" stroke-width="0.06" textLength="17.97" lengthAdjust="spacingAndGlyphs">OID00798_MCP-4</text>
<text x="414.00" y="101.01" font-size="2.6" text-anchor="start" fill="#222" stroke="#222" stroke-width="0.06" textLength="16.51" lengthAdjust="spacingAndGlyphs">OID00788_Gal-1</text>
<text x="414.00" y="105.86" font-size="2.6" text-anchor="start" fill="#222" stroke="#222" stroke-width="0.06" textLength="20.64" lengthAdjust="spacingAndGlyphs">OID00786_TNFSF14</text>
<text x="414.00" y="110.71" font-size="2.6" text-anchor="start" fill="#222" stroke="#222" stroke-width="0.06" textLength="15.90" lengthAdjust="spacingAndGlyphs">OID00817_DCN</text>
<text x="414.00" y="115.56" font-size="2.6" text-anchor="start" fill="#222" stroke="#222" stroke-width="0.06" textLength="23.67" lengthAdjust="spacingAndGlyphs">OID00789_TNFRSF12A</text>
<text x="414.00" y="120.41" font-size="2.6" text-anchor="start" fill="#222" stroke="#222" stroke-width="0.06" textLength="17.97" lengthAdjust="spacingAndGlyphs">OID00809_MCP-3</text>
<text x="414.00" y="23.28" font-size="4.1" text-anchor="start" fill="#000" stroke="#000" stroke-width="0.18" font-weight="bold">Group</text>
<text x="268.36" y="123.20" font-size="2.6" text-anchor="end" fill="#3a3a3a" stroke="#3a3a3a" stroke-width="0.08" transform="rotate(-90 268.36 123.20)" textLength="20.0" lengthAdjust="spacingAndGlyphs">OID00700_PRT1_00</text>
<text x="271.28" y="123.20" font-size="2.6" text-anchor="end" fill="#3a3a3a" stroke="#3a3a3a" stroke-width="0.08" transform="rotate(-90 271.28 123.20)" textLength="20.0" lengthAdjust="spacingAndGlyphs">OID00701_PRT1_01</text>
<text x="274.20" y="123.20" font-size="2.6" text-anchor="end" fill="#3a3a3a" stroke="#3a3a3a" stroke-width="0.08" transform="rotate(-90 274.20 123.20)" textLength="20.0" lengthAdjust="spacingAndGlyphs">OID00702_PRT1_02</text>
<text x="277.12" y="123.20" font-size="2.6" text-anchor="end" fill="#3a3a3a" stroke="#3a3a3a" stroke-width="0.08" transform="rotate(-90 277.12 123.20)" textLength="20.0" lengthAdjust="spacingAndGlyphs">OID00703_PRT1_03</text>
<text x="280.04" y="123.20" font-size="2.6" text-anchor="end" fill="#3a3a3a" stroke="#3a3a3a" stroke-width="0.08" transform="rotate(-90 280.04 123.20)" textLength="20.0" lengthAdjust="spacingAndGlyphs">OID00704_PRT1_04</text>
<text x="282.96" y="123.20" font-size="2.6" text-anchor="end" fill="#3a3a3a" stroke="#3a3a3a" stroke-width="0.08" transform="rotate(-90 282.96 123.20)" textLength="20.0" lengthAdjust="spacingAndGlyphs">OID00705_PRT1_05</text>
<text x="285.88" y="123.20" font-size="2.6" text-anchor="end" fill="#3a3a3a" stroke="#3a3a3a" stroke-width="0.08" transform="rotate(-90 285.88 123.20)" textLength="20.0" lengthAdjust="spacingAndGlyphs">OID00706_PRT1_06</text>
<text x="288.80" y="123.20" font-size="2.6" text-anchor="end" fill="#3a3a3a" stroke="#3a3a3a" stroke-width="0.08" transform="rotate(-90 288.80 123.20)" textLength="20.0" lengthAdjust="spacingAndGlyphs">OID00707_PRT1_07</text>
<text x="291.72" y="123.20" font-size="2.6" text-anchor="end" fill="#3a3a3a" stroke="#3a3a3a" stroke-width="0.08" transform="rotate(-90 291.72 123.20)" textLength="20.0" lengthAdjust="spacingAndGlyphs">OID00708_PRT1_08</text>
<text x="294.64" y="123.20" font-size="2.6" text-anchor="end" fill="#3a3a3a" stroke="#3a3a3a" stroke-width="0.08" transform="rotate(-90 294.64 123.20)" textLength="20.0" lengthAdjust="spacingAndGlyphs">OID00709_PRT1_09</text>
<text x="297.56" y="123.20" font-size="2.6" text-anchor="end" fill="#3a3a3a" stroke="#3a3a3a" stroke-width="0.08" transform="rotate(-90 297.56 123.20)" textLength="20.0" lengthAdjust="spacingAndGlyphs">OID00710_PRT1_10</text>
<text x="300.48" y="123.20" font-size="2.6" text-anchor="end" fill="#3a3a3a" stroke="#3a3a3a" stroke-width="0.08" transform="rotate(-90 300.48 123.20)" textLength="20.0" lengthAdjust="spacingAndGlyphs">OID00711_PRT1_11</text>
<text x="303.40" y="123.20" font-size="2.6" text-anchor="end" fill="#3a3a3a" stroke="#3a3a3a" stroke-width="0.08" transform="rotate(-90 303.40 123.20)" textLength="20.0" lengthAdjust="spacingAndGlyphs">OID00712_PRT1_12</text>
<text x="306.32" y="123.20" font-size="2.6" text-anchor="end" fill="#3a3a3a" stroke="#3a3a3a" stroke-width="0.08" transform="rotate(-90 306.32 123.20)" textLength="20.0" lengthAdjust="spacingAndGlyphs">OID00713_PRT1_13</text>
<text x="309.24" y="123.20" font-size="2.6" text-anchor="end" fill="#3a3a3a" stroke="#3a3a3a" stroke-width="0.08" transform="rotate(-90 309.24 123.20)" textLength="20.0" lengthAdjust="spacingAndGlyphs">OID00714_PRT1_14</text>
<text x="312.16" y="123.20" font-size="2.6" text-anchor="end" fill="#3a3a3a" stroke="#3a3a3a" stroke-width="0.08" transform="rotate(-90 312.16 123.20)" textLength="20.0" lengthAdjust="spacingAndGlyphs">OID00715_PRT1_15</text>
<text x="315.08" y="123.20" font-size="2.6" text-anchor="end" fill="#3a3a3a" stroke="#3a3a3a" stroke-width="0.08" transform="rotate(-90 315.08 123.20)" textLength="20.0" lengthAdjust="spacingAndGlyphs">OID00716_PRT1_16</text>
<text x="318.00" y="123.20" font-size="2.6" text-anchor="end" fill="#3a3a3a" stroke="#3a3a3a" stroke-width="0.08" transform="rotate(-90 318.00 123.20)" textLength="20.0" lengthAdjust="spacingAndGlyphs">OID00717_PRT1_17</text>
<text x="320.92" y="123.20" font-size="2.6" text-anchor="end" fill="#3a3a3a" stroke="#3a3a3a" stroke-width="0.08" transform="rotate(-90 320.92 123.20)" textLength="20.0" lengthAdjust="spacingAndGlyphs">OID00718_PRT1_18</text>
<text x="323.84" y="123.20" font-size="2.6" text-anchor="end" fill="#3a3a3a" stroke="#3a3a3a" stroke-width="0.08" transform="rotate(-90 323.84 123.20)" textLength="20.0" lengthAdjust="spacingAndGlyphs">OID00719_PRT1_19</text>
<text x="326.76" y="123.20" font-size="2.6" text-anchor="end" fill="#3a3a3a" stroke="#3a3a3a" stroke-width="0.08" transform="rotate(-90 326.76 123.20)" textLength="20.0" lengthAdjust="spacingAndGlyphs">OID00720_PRT1_20</text>
<text x="329.68" y="123.20" font-size="2.6" text-anchor="end" fill="#3a3a3a" stroke="#3a3a3a" stroke-width="0.08" transform="rotate(-90 329.68 123.20)" textLength="20.0" lengthAdjust="spacingAndGlyphs">OID00721_PRT1_21</text>
<text x="332.60" y="123.20" font-size="2.6" text-anchor="end" fill="#3a3a3a" stroke="#3a3a3a" stroke-width="0.08" transform="rotate(-90 332.60 123.20)" textLength="20.0" lengthAdjust="spacingAndGlyphs">OID00722_PRT1_22</text>
<text x="335.52" y="123.20" font-size="2.6" text-anchor="end" fill="#3a3a3a" stroke="#3a3a3a" stroke-width="0.08" transform="rotate(-90 335.52 123.20)" textLength="20.0" lengthAdjust="spacingAndGlyphs">OID00723_PRT1_23</text>
<text x="338.44" y="123.20" font-size="2.6" text-anchor="end" fill="#3a3a3a" stroke="#3a3a3a" stroke-width="0.08" transform="rotate(-90 338.44 123.20)" textLength="20.0" lengthAdjust="spacingAndGlyphs">OID00724_PRT1_24</text>
<text x="341.36" y="123.20" font-size="2.6" text-anchor="end" fill="#3a3a3a" stroke="#3a3a3a" stroke-width="0.08" transform="rotate(-90 341.36 123.20)" textLength="20.0" lengthAdjust="spacingAndGlyphs">OID00725_PRT1_25</text>
<text x="344.28" y="123.20" font-size="2.6" text-anchor="end" fill="#3a3a3a" stroke="#3a3a3a" stroke-width="0.08" transform="rotate(-90 344.28 123.20)" textLength="20.0" lengthAdjust="spacingAndGlyphs">OID00726_PRT1_26</text>
<text x="347.20" y="123.20" font-size="2.6" text-anchor="end" fill="#3a3a3a" stroke="#3a3a3a" stroke-width="0.08" transform="rotate(-90 347.20 123.20)" textLength="20.0" lengthAdjust="spacingAndGlyphs">OID00727_PRT1_27</text>
<text x="350.12" y="123.20" font-size="2.6" text-anchor="end" fill="#3a3a3a" stroke="#3a3a3a" stroke-width="0.08" transform="rotate(-90 350.12 123.20)" textLength="20.0" lengthAdjust="spacingAndGlyphs">OID00728_PRT1_28</text>
<text x="353.04" y="123.20" font-size="2.6" text-anchor="end" fill="#3a3a3a" stroke="#3a3a3a" stroke-width="0.08" transform="rotate(-90 353.04 123.20)" textLength="20.0" lengthAdjust="spacingAndGlyphs">OID00729_PRT1_29</text>
<text x="355.96" y="123.20" font-size="2.6" text-anchor="end" fill="#3a3a3a" stroke="#3a3a3a" stroke-width="0.08" transform="rotate(-90 355.96 123.20)" textLength="20.0" lengthAdjust="spacingAndGlyphs">OID00730_PRT1_30</text>
<text x="358.88" y="123.20" font-size="2.6" text-anchor="end" fill="#3a3a3a" stroke="#3a3a3a" stroke-width="0.08" transform="rotate(-90 358.88 123.20)" textLength="20.0" lengthAdjust="spacingAndGlyphs">OID00731_PRT1_31</text>
<text x="361.80" y="123.20" font-size="2.6" text-anchor="end" fill="#3a3a3a" stroke="#3a3a3a" stroke-width="0.08" transform="rotate(-90 361.80 123.20)" textLength="20.0" lengthAdjust="spacingAndGlyphs">OID00732_PRT1_32</text>
<text x="364.72" y="123.20" font-size="2.6" text-anchor="end" fill="#3a3a3a" stroke="#3a3a3a" stroke-width="0.08" transform="rotate(-90 364.72 123.20)" textLength="20.0" lengthAdjust="spacingAndGlyphs">OID00733_PRT1_33</text>
<text x="367.64" y="123.20" font-size="2.6" text-anchor="end" fill="#3a3a3a" stroke="#3a3a3a" stroke-width="0.08" transform="rotate(-90 367.64 123.20)" textLength="20.0" lengthAdjust="spacingAndGlyphs">OID00734_PRT1_34</text>
<text x="370.56" y="123.20" font-size="2.6" text-anchor="end" fill="#3a3a3a" stroke="#3a3a3a" stroke-width="0.08" transform="rotate(-90 370.56 123.20)" textLength="20.0" lengthAdjust="spacingAndGlyphs">OID00735_PRT1_35</text>
<text x="373.48" y="123.20" font-size="2.6" text-anchor="end" fill="#3a3a3a" stroke="#3a3a3a" stroke-width="0.08" transform="rotate(-90 373.48 123.20)" textLength="20.0" lengthAdjust="spacingAndGlyphs">OID00736_PRT1_36</text>
<text x="376.40" y="123.20" font-size="2.6" text-anchor="end" fill="#3a3a3a" stroke="#3a3a3a" stroke-width="0.08" transform="rotate(-90 376.40 123.20)" textLength="20.0" lengthAdjust="spacingAndGlyphs">OID00737_PRT1_37</text>
<text x="380.76" y="123.20" font-size="2.6" text-anchor="end" fill="#3a3a3a" stroke="#3a3a3a" stroke-width="0.08" transform="rotate(-90 380.76 123.20)" textLength="20.0" lengthAdjust="spacingAndGlyphs">OID00738_PRT1_38</text>
<text x="385.46" y="123.20" font-size="2.6" text-anchor="end" fill="#3a3a3a" stroke="#3a3a3a" stroke-width="0.08" transform="rotate(-90 385.46 123.20)" textLength="20.0" lengthAdjust="spacingAndGlyphs">OID00739_PRT1_39</text>
<text x="388.38" y="123.20" font-size="2.6" text-anchor="end" fill="#3a3a3a" stroke="#3a3a3a" stroke-width="0.08" transform="rotate(-90 388.38 123.20)" textLength="20.0" lengthAdjust="spacingAndGlyphs">OID00740_PRT1_40</text>
<text x="391.30" y="123.20" font-size="2.6" text-anchor="end" fill="#3a3a3a" stroke="#3a3a3a" stroke-width="0.08" transform="rotate(-90 391.30 123.20)" textLength="20.0" lengthAdjust="spacingAndGlyphs">OID00741_PRT1_41</text>
<text x="394.22" y="123.20" font-size="2.6" text-anchor="end" fill="#3a3a3a" stroke="#3a3a3a" stroke-width="0.08" transform="rotate(-90 394.22 123.20)" textLength="20.0" lengthAdjust="spacingAndGlyphs">OID00742_PRT1_42</text>
<text x="397.14" y="123.20" font-size="2.6" text-anchor="end" fill="#3a3a3a" stroke="#3a3a3a" stroke-width="0.08" transform="rotate(-90 397.14 123.20)" textLength="20.0" lengthAdjust="spacingAndGlyphs">OID00743_PRT1_43</text>
<text x="400.06" y="123.20" font-size="2.6" text-anchor="end" fill="#3a3a3a" stroke="#3a3a3a" stroke-width="0.08" transform="rotate(-90 400.06 123.20)" textLength="20.0" lengthAdjust="spacingAndGlyphs">OID00744_PRT1_44</text>
<text x="402.98" y="123.20" font-size="2.6" text-anchor="end" fill="#3a3a3a" stroke="#3a3a3a" stroke-width="0.08" transform="rotate(-90 402.98 123.20)" textLength="20.0" lengthAdjust="spacingAndGlyphs">OID00745_PRT1_45</text>
<text x="405.90" y="123.20" font-size="2.6" text-anchor="end" fill="#3a3a3a" stroke="#3a3a3a" stroke-width="0.08" transform="rotate(-90 405.90 123.20)" textLength="20.0" lengthAdjust="spacingAndGlyphs">OID00746_PRT1_46</text>
<text x="408.82" y="123.20" font-size="2.6" text-anchor="end" fill="#3a3a3a" stroke="#3a3a3a" stroke-width="0.08" transform="rotate(-90 408.82 123.20)" textLength="20.0" lengthAdjust="spacingAndGlyphs">OID00747_PRT1_47</text>
<text x="411.74" y="123.20" font-size="2.6" text-anchor="end" fill="#3a3a3a" stroke="#3a3a3a" stroke-width="0.08" transform="rotate(-90 411.74 123.20)" textLength="20.0" lengthAdjust="spacingAndGlyphs">OID00748_PRT1_48</text>
<rect x="496.10" y="25.90" width="3.75" height="6.08" fill="#efcab0"/>
<rect x="499.35" y="25.90" width="3.75" height="6.08" fill="#efcab0"/>
<rect x="502.59" y="25.90" width="3.75" height="6.08" fill="#ffffff"/>
<rect x="505.84" y="25.90" width="3.75" height="6.08" fill="#efcab0"/>
<rect x="509.08" y="25.90" width="3.75" height="6.08" fill="#b1d6ea"/>
<rect x="512.33" y="25.90" width="3.75" height="6.08" fill="#9ac9e3"/>
<rect x="515.57" y="25.90" width="3.75" height="6.08" fill="#d8eaf4"/>
<rect x="518.82" y="25.90" width="3.75" height="6.08" fill="#d8eaf4"/>
<rect x="522.06" y="25.90" width="3.75" height="6.08" fill="#efcab0"/>
<rect x="525.31" y="25.90" width="3.75" height="6.08" fill="#b1d6ea"/>
<rect x="528.55" y="25.90" width="3.75" height="6.08" fill="#b1d6ea"/>
<rect x="531.80" y="25.90" width="3.75" height="6.08" fill="#9ac9e3"/>
<rect x="535.04" y="25.90" width="3.75" height="6.08" fill="#d8eaf4"/>
<rect x="538.29" y="25.90" width="3.75" height="6.08" fill="#d8eaf4"/>
<rect x="541.53" y="25.90" width="3.75" height="6.08" fill="#b1d6ea"/>
<rect x="544.77" y="25.90" width="3.75" height="6.08" fill="#b1d6ea"/>
<rect x="548.02" y="25.90" width="3.25" height="6.08" fill="#d8eaf4"/>
<rect x="553.10" y="25.90" width="3.75" height="6.08" fill="#e7b088"/>
<rect x="556.35" y="25.90" width="3.75" height="6.08" fill="#f7e5d7"/>
<rect x="559.59" y="25.90" width="3.75" height="6.08" fill="#f7e5d7"/>
<rect x="562.84" y="25.90" width="3.75" height="6.08" fill="#d8eaf4"/>
<rect x="566.08" y="25.90" width="3.75" height="6.08" fill="#9ac9e3"/>
<rect x="569.33" y="25.90" width="3.75" height="6.08" fill="#ffffff"/>
<rect x="572.57" y="25.90" width="3.75" height="6.08" fill="#ffffff"/>
<rect x="575.82" y="25.90" width="3.75" height="6.08" fill="#f7e5d7"/>
<rect x="579.06" y="25.90" width="3.75" height="6.08" fill="#eabb98"/>
<rect x="582.31" y="25.90" width="3.75" height="6.08" fill="#ffffff"/>
<rect x="585.55" y="25.90" width="3.75" height="6.08" fill="#ffffff"/>
<rect x="588.80" y="25.90" width="3.75" height="6.08" fill="#ecc0a0"/>
<rect x="592.04" y="25.90" width="3.75" height="6.08" fill="#ffffff"/>
<rect x="595.29" y="25.90" width="3.75" height="6.08" fill="#eabb98"/>
<rect x="598.53" y="25.90" width="3.25" height="6.08" fill="#f7e5d7"/>
<rect x="603.20" y="25.90" width="3.75" height="6.08" fill="#b1d6ea"/>
<rect x="606.45" y="25.90" width="3.75" height="6.08" fill="#ecc0a0"/>
<rect x="609.69" y="25.90" width="3.75" height="6.08" fill="#ffffff"/>
<rect x="612.94" y="25.90" width="3.75" height="6.08" fill="#b1d6ea"/>
<rect x="616.18" y="25.90" width="3.25" height="6.08" fill="#b1d6ea"/>
<rect x="496.10" y="31.48" width="3.75" height="6.08" fill="#9ac9e3"/>
<rect x="499.35" y="31.48" width="3.75" height="6.08" fill="#ffffff"/>
<rect x="502.59" y="31.48" width="3.75" height="6.08" fill="#73b5d9"/>
<rect x="505.84" y="31.48" width="3.75" height="6.08" fill="#ffffff"/>
<rect x="509.08" y="31.48" width="3.75" height="6.08" fill="#9ac9e3"/>
<rect x="512.33" y="31.48" width="3.75" height="6.08" fill="#9ac9e3"/>
<rect x="515.57" y="31.48" width="3.75" height="6.08" fill="#ffffff"/>
<rect x="518.82" y="31.48" width="3.75" height="6.08" fill="#efcab0"/>
<rect x="522.06" y="31.48" width="3.75" height="6.08" fill="#efcab0"/>
<rect x="525.31" y="31.48" width="3.75" height="6.08" fill="#ffffff"/>
<rect x="528.55" y="31.48" width="3.75" height="6.08" fill="#f7e5d7"/>
<rect x="531.80" y="31.48" width="3.75" height="6.08" fill="#f7e5d7"/>
<rect x="535.04" y="31.48" width="3.75" height="6.08" fill="#d8eaf4"/>
<rect x="538.29" y="31.48" width="3.75" height="6.08" fill="#f7e5d7"/>
<rect x="541.53" y="31.48" width="3.75" height="6.08" fill="#73b5d9"/>
<rect x="544.77" y="31.48" width="3.75" height="6.08" fill="#d8eaf4"/>
<rect x="548.02" y="31.48" width="3.25" height="6.08" fill="#ffffff"/>
<rect x="553.10" y="31.48" width="3.75" height="6.08" fill="#ffffff"/>
<rect x="556.35" y="31.48" width="3.75" height="6.08" fill="#ffffff"/>
<rect x="559.59" y="31.48" width="3.75" height="6.08" fill="#f7e5d7"/>
<rect x="562.84" y="31.48" width="3.75" height="6.08" fill="#ffffff"/>
<rect x="566.08" y="31.48" width="3.75" height="6.08" fill="#9ac9e3"/>
<rect x="569.33" y="31.48" width="3.75" height="6.08" fill="#f7e5d7"/>
<rect x="572.57" y="31.48" width="3.75" height="6.08" fill="#f7e5d7"/>
<rect x="575.82" y="31.48" width="3.75" height="6.08" fill="#efcab0"/>
<rect x="579.06" y="31.48" width="3.75" height="6.08" fill="#f7e5d7"/>
<rect x="582.31" y="31.48" width="3.75" height="6.08" fill="#f7e5d7"/>
<rect x="585.55" y="31.48" width="3.75" height="6.08" fill="#efcab0"/>
<rect x="588.80" y="31.48" width="3.75" height="6.08" fill="#d77b39"/>
<rect x="592.04" y="31.48" width="3.75" height="6.08" fill="#ffffff"/>
<rect x="595.29" y="31.48" width="3.75" height="6.08" fill="#d8eaf4"/>
<rect x="598.53" y="31.48" width="3.25" height="6.08" fill="#f7e5d7"/>
<rect x="603.20" y="31.48" width="3.75" height="6.08" fill="#9ac9e3"/>
<rect x="606.45" y="31.48" width="3.75" height="6.08" fill="#b1d6ea"/>
<rect x="609.69" y="31.48" width="3.75" height="6.08" fill="#efcab0"/>
<rect x="612.94" y="31.48" width="3.75" height="6.08" fill="#b1d6ea"/>
<rect x="616.18" y="31.48" width="3.25" height="6.08" fill="#d8eaf4"/>
<rect x="496.10" y="37.05" width="3.75" height="6.08" fill="#efcab0"/>
<rect x="499.35" y="37.05" width="3.75" height="6.08" fill="#d8eaf4"/>
<rect x="502.59" y="37.05" width="3.75" height="6.08" fill="#d8eaf4"/>
<rect x="505.84" y="37.05" width="3.75" height="6.08" fill="#b1d6ea"/>
<rect x="509.08" y="37.05" width="3.75" height="6.08" fill="#ffffff"/>
<rect x="512.33" y="37.05" width="3.75" height="6.08" fill="#ffffff"/>
<rect x="515.57" y="37.05" width="3.75" height="6.08" fill="#efcab0"/>
<rect x="518.82" y="37.05" width="3.75" height="6.08" fill="#efcab0"/>
<rect x="522.06" y="37.05" width="3.75" height="6.08" fill="#efcab0"/>
<rect x="525.31" y="37.05" width="3.75" height="6.08" fill="#b1d6ea"/>
<rect x="528.55" y="37.05" width="3.75" height="6.08" fill="#b1d6ea"/>
<rect x="531.80" y="37.05" width="3.75" height="6.08" fill="#b1d6ea"/>
<rect x="535.04" y="37.05" width="3.75" height="6.08" fill="#73b5d9"/>
<rect x="538.29" y="37.05" width="3.75" height="6.08" fill="#d8eaf4"/>
<rect x="541.53" y="37.05" width="3.75" height="6.08" fill="#b1d6ea"/>
<rect x="544.77" y="37.05" width="3.75" height="6.08" fill="#d8eaf4"/>
<rect x="548.02" y="37.05" width="3.25" height="6.08" fill="#ffffff"/>
<rect x="553.10" y="37.05" width="3.75" height="6.08" fill="#e2a071"/>
<rect x="556.35" y="37.05" width="3.75" height="6.08" fill="#efcab0"/>
<rect x="559.59" y="37.05" width="3.75" height="6.08" fill="#efcab0"/>
<rect x="562.84" y="37.05" width="3.75" height="6.08" fill="#efcab0"/>
<rect x="566.08" y="37.05" width="3.75" height="6.08" fill="#d8eaf4"/>
<rect x="569.33" y="37.05" width="3.75" height="6.08" fill="#f7e5d7"/>
<rect x="572.57" y="37.05" width="3.75" height="6.08" fill="#f7e5d7"/>
<rect x="575.82" y="37.05" width="3.75" height="6.08" fill="#d8eaf4"/>
<rect x="579.06" y="37.05" width="3.75" height="6.08" fill="#ffffff"/>
<rect x="582.31" y="37.05" width="3.75" height="6.08" fill="#efcab0"/>
<rect x="585.55" y="37.05" width="3.75" height="6.08" fill="#d8eaf4"/>
<rect x="588.80" y="37.05" width="3.75" height="6.08" fill="#f7e5d7"/>
<rect x="592.04" y="37.05" width="3.75" height="6.08" fill="#ffffff"/>
<rect x="595.29" y="37.05" width="3.75" height="6.08" fill="#b1d6ea"/>
<rect x="598.53" y="37.05" width="3.25" height="6.08" fill="#d8eaf4"/>
<rect x="603.20" y="37.05" width="3.75" height="6.08" fill="#63acd5"/>
<rect x="606.45" y="37.05" width="3.75" height="6.08" fill="#b1d6ea"/>
<rect x="609.69" y="37.05" width="3.75" height="6.08" fill="#d8eaf4"/>
<rect x="612.94" y="37.05" width="3.75" height="6.08" fill="#ffffff"/>
<rect x="616.18" y="37.05" width="3.25" height="6.08" fill="#f7e5d7"/>
<rect x="496.10" y="42.63" width="3.75" height="6.08" fill="#e2a071"/>
<rect x="499.35" y="42.63" width="3.75" height="6.08" fill="#b1d6ea"/>
<rect x="502.59" y="42.63" width="3.75" height="6.08" fill="#b1d6ea"/>
<rect x="505.84" y="42.63" width="3.75" height="6.08" fill="#b1d6ea"/>
<rect x="509.08" y="42.63" width="3.75" height="6.08" fill="#f7e5d7"/>
<rect x="512.33" y="42.63" width="3.75" height="6.08" fill="#f7e5d7"/>
<rect x="515.57" y="42.63" width="3.75" height="6.08" fill="#f7e5d7"/>
<rect x="518.82" y="42.63" width="3.75" height="6.08" fill="#e7b088"/>
<rect x="522.06" y="42.63" width="3.75" height="6.08" fill="#f7e5d7"/>
<rect x="525.31" y="42.63" width="3.75" height="6.08" fill="#9ac9e3"/>
<rect x="528.55" y="42.63" width="3.75" height="6.08" fill="#d8eaf4"/>
<rect x="531.80" y="42.63" width="3.75" height="6.08" fill="#b1d6ea"/>
<rect x="535.04" y="42.63" width="3.75" height="6.08" fill="#b1d6ea"/>
<rect x="538.29" y="42.63" width="3.75" height="6.08" fill="#b1d6ea"/>
<rect x="541.53" y="42.63" width="3.75" height="6.08" fill="#b1d6ea"/>
<rect x="544.77" y="42.63" width="3.75" height="6.08" fill="#b1d6ea"/>
<rect x="548.02" y="42.63" width="3.25" height="6.08" fill="#9ac9e3"/>
<rect x="553.10" y="42.63" width="3.75" height="6.08" fill="#efcab0"/>
<rect x="556.35" y="42.63" width="3.75" height="6.08" fill="#efcab0"/>
<rect x="559.59" y="42.63" width="3.75" height="6.08" fill="#efcab0"/>
<rect x="562.84" y="42.63" width="3.75" height="6.08" fill="#f7e5d7"/>
<rect x="566.08" y="42.63" width="3.75" height="6.08" fill="#ffffff"/>
<rect x="569.33" y="42.63" width="3.75" height="6.08" fill="#d8eaf4"/>
<rect x="572.57" y="42.63" width="3.75" height="6.08" fill="#ffffff"/>
<rect x="575.82" y="42.63" width="3.75" height="6.08" fill="#f7e5d7"/>
<rect x="579.06" y="42.63" width="3.75" height="6.08" fill="#d8eaf4"/>
<rect x="582.31" y="42.63" width="3.75" height="6.08" fill="#e7b088"/>
<rect x="585.55" y="42.63" width="3.75" height="6.08" fill="#f7e5d7"/>
<rect x="588.80" y="42.63" width="3.75" height="6.08" fill="#e7b088"/>
<rect x="592.04" y="42.63" width="3.75" height="6.08" fill="#ffffff"/>
<rect x="595.29" y="42.63" width="3.75" height="6.08" fill="#b1d6ea"/>
<rect x="598.53" y="42.63" width="3.25" height="6.08" fill="#f7e5d7"/>
<rect x="603.20" y="42.63" width="3.75" height="6.08" fill="#ffffff"/>
<rect x="606.45" y="42.63" width="3.75" height="6.08" fill="#b1d6ea"/>
<rect x="609.69" y="42.63" width="3.75" height="6.08" fill="#ffffff"/>
<rect x="612.94" y="42.63" width="3.75" height="6.08" fill="#d8eaf4"/>
<rect x="616.18" y="42.63" width="3.25" height="6.08" fill="#d8eaf4"/>
<rect x="496.10" y="48.20" width="3.75" height="6.08" fill="#ffffff"/>
<rect x="499.35" y="48.20" width="3.75" height="6.08" fill="#d8eaf4"/>
<rect x="502.59" y="48.20" width="3.75" height="6.08" fill="#ffffff"/>
<rect x="505.84" y="48.20" width="3.75" height="6.08" fill="#b1d6ea"/>
<rect x="509.08" y="48.20" width="3.75" height="6.08" fill="#b1d6ea"/>
<rect x="512.33" y="48.20" width="3.75" height="6.08" fill="#8ac1df"/>
<rect x="515.57" y="48.20" width="3.75" height="6.08" fill="#d8eaf4"/>
<rect x="518.82" y="48.20" width="3.75" height="6.08" fill="#ffffff"/>
<rect x="522.06" y="48.20" width="3.75" height="6.08" fill="#df9661"/>
<rect x="525.31" y="48.20" width="3.75" height="6.08" fill="#b1d6ea"/>
<rect x="528.55" y="48.20" width="3.75" height="6.08" fill="#b1d6ea"/>
<rect x="531.80" y="48.20" width="3.75" height="6.08" fill="#ffffff"/>
<rect x="535.04" y="48.20" width="3.75" height="6.08" fill="#73b5d9"/>
<rect x="538.29" y="48.20" width="3.75" height="6.08" fill="#b1d6ea"/>
<rect x="541.53" y="48.20" width="3.75" height="6.08" fill="#ffffff"/>
<rect x="544.77" y="48.20" width="3.75" height="6.08" fill="#b1d6ea"/>
<rect x="548.02" y="48.20" width="3.25" height="6.08" fill="#d8eaf4"/>
<rect x="553.10" y="48.20" width="3.75" height="6.08" fill="#efcab0"/>
<rect x="556.35" y="48.20" width="3.75" height="6.08" fill="#f7e5d7"/>
<rect x="559.59" y="48.20" width="3.75" height="6.08" fill="#efcab0"/>
<rect x="562.84" y="48.20" width="3.75" height="6.08" fill="#efcab0"/>
<rect x="566.08" y="48.20" width="3.75" height="6.08" fill="#d8eaf4"/>
<rect x="569.33" y="48.20" width="3.75" height="6.08" fill="#f7e5d7"/>
<rect x="572.57" y="48.20" width="3.75" height="6.08" fill="#f7e5d7"/>
<rect x="575.82" y="48.20" width="3.75" height="6.08" fill="#b1d6ea"/>
<rect x="579.06" y="48.20" width="3.75" height="6.08" fill="#b1d6ea"/>
<rect x="582.31" y="48.20" width="3.75" height="6.08" fill="#efcab0"/>
<rect x="585.55" y="48.20" width="3.75" height="6.08" fill="#e7b088"/>
<rect x="588.80" y="48.20" width="3.75" height="6.08" fill="#f7e5d7"/>
<rect x="592.04" y="48.20" width="3.75" height="6.08" fill="#ffffff"/>
<rect x="595.29" y="48.20" width="3.75" height="6.08" fill="#b1d6ea"/>
<rect x="598.53" y="48.20" width="3.25" height="6.08" fill="#b1d6ea"/>
<rect x="603.20" y="48.20" width="3.75" height="6.08" fill="#d8eaf4"/>
<rect x="606.45" y="48.20" width="3.75" height="6.08" fill="#b1d6ea"/>
<rect x="609.69" y="48.20" width="3.75" height="6.08" fill="#e2a071"/>
<rect x="612.94" y="48.20" width="3.75" height="6.08" fill="#efcab0"/>
<rect x="616.18" y="48.20" width="3.25" height="6.08" fill="#f7e5d7"/>
<rect x="496.10" y="53.78" width="3.75" height="6.08" fill="#efcab0"/>
<rect x="499.35" y="53.78" width="3.75" height="6.08" fill="#b1d6ea"/>
<rect x="502.59" y="53.78" width="3.75" height="6.08" fill="#f7e5d7"/>
<rect x="505.84" y="53.78" width="3.75" height="6.08" fill="#ffffff"/>
<rect x="509.08" y="53.78" width="3.75" height="6.08" fill="#f7e5d7"/>
<rect x="512.33" y="53.78" width="3.75" height="6.08" fill="#d8eaf4"/>
<rect x="515.57" y="53.78" width="3.75" height="6.08" fill="#d8eaf4"/>
<rect x="518.82" y="53.78" width="3.75" height="6.08" fill="#f7e5d7"/>
<rect x="522.06" y="53.78" width="3.75" height="6.08" fill="#f7e5d7"/>
<rect x="525.31" y="53.78" width="3.75" height="6.08" fill="#b1d6ea"/>
<rect x="528.55" y="53.78" width="3.75" height="6.08" fill="#b1d6ea"/>
<rect x="531.80" y="53.78" width="3.75" height="6.08" fill="#d8eaf4"/>
<rect x="535.04" y="53.78" width="3.75" height="6.08" fill="#b1d6ea"/>
<rect x="538.29" y="53.78" width="3.75" height="6.08" fill="#b1d6ea"/>
<rect x="541.53" y="53.78" width="3.75" height="6.08" fill="#b1d6ea"/>
<rect x="544.77" y="53.78" width="3.75" height="6.08" fill="#9ac9e3"/>
<rect x="548.02" y="53.78" width="3.25" height="6.08" fill="#d8eaf4"/>
<rect x="553.10" y="53.78" width="3.75" height="6.08" fill="#eabb98"/>
<rect x="556.35" y="53.78" width="3.75" height="6.08" fill="#eabb98"/>
<rect x="559.59" y="53.78" width="3.75" height="6.08" fill="#f7e5d7"/>
<rect x="562.84" y="53.78" width="3.75" height="6.08" fill="#efcab0"/>
<rect x="566.08" y="53.78" width="3.75" height="6.08" fill="#b1d6ea"/>
<rect x="569.33" y="53.78" width="3.75" height="6.08" fill="#d8eaf4"/>
<rect x="572.57" y="53.78" width="3.75" height="6.08" fill="#f7e5d7"/>
<rect x="575.82" y="53.78" width="3.75" height="6.08" fill="#b1d6ea"/>
<rect x="579.06" y="53.78" width="3.75" height="6.08" fill="#d8eaf4"/>
<rect x="582.31" y="53.78" width="3.75" height="6.08" fill="#efcab0"/>
<rect x="585.55" y="53.78" width="3.75" height="6.08" fill="#efcab0"/>
<rect x="588.80" y="53.78" width="3.75" height="6.08" fill="#f7e5d7"/>
<rect x="592.04" y="53.78" width="3.75" height="6.08" fill="#d8eaf4"/>
<rect x="595.29" y="53.78" width="3.75" height="6.08" fill="#ffffff"/>
<rect x="598.53" y="53.78" width="3.25" height="6.08" fill="#ffffff"/>
<rect x="603.20" y="53.78" width="3.75" height="6.08" fill="#63acd5"/>
<rect x="606.45" y="53.78" width="3.75" height="6.08" fill="#efcab0"/>
<rect x="609.69" y="53.78" width="3.75" height="6.08" fill="#efcab0"/>
<rect x="612.94" y="53.78" width="3.75" height="6.08" fill="#f7e5d7"/>
<rect x="616.18" y="53.78" width="3.25" height="6.08" fill="#f7e5d7"/>
<rect x="496.10" y="59.36" width="3.75" height="6.08" fill="#efcab0"/>
<rect x="499.35" y="59.36" width="3.75" height="6.08" fill="#d8eaf4"/>
<rect x="502.59" y="59.36" width="3.75" height="6.08" fill="#d8eaf4"/>
<rect x="505.84" y="59.36" width="3.75" height="6.08" fill="#d8eaf4"/>
<rect x="509.08" y="59.36" width="3.75" height="6.08" fill="#d8eaf4"/>
<rect x="512.33" y="59.36" width="3.75" height="6.08" fill="#ffffff"/>
<rect x="515.57" y="59.36" width="3.75" height="6.08" fill="#d8eaf4"/>
<rect x="518.82" y="59.36" width="3.75" height="6.08" fill="#eabb98"/>
<rect x="522.06" y="59.36" width="3.75" height="6.08" fill="#eabb98"/>
<rect x="525.31" y="59.36" width="3.75" height="6.08" fill="#b1d6ea"/>
<rect x="528.55" y="59.36" width="3.75" height="6.08" fill="#b1d6ea"/>
<rect x="531.80" y="59.36" width="3.75" height="6.08" fill="#ffffff"/>
<rect x="535.04" y="59.36" width="3.75" height="6.08" fill="#8ac1df"/>
<rect x="538.29" y="59.36" width="3.75" height="6.08" fill="#b1d6ea"/>
<rect x="541.53" y="59.36" width="3.75" height="6.08" fill="#b1d6ea"/>
<rect x="544.77" y="59.36" width="3.75" height="6.08" fill="#8ac1df"/>
<rect x="548.02" y="59.36" width="3.25" height="6.08" fill="#d8eaf4"/>
<rect x="553.10" y="59.36" width="3.75" height="6.08" fill="#efcab0"/>
<rect x="556.35" y="59.36" width="3.75" height="6.08" fill="#f7e5d7"/>
<rect x="559.59" y="59.36" width="3.75" height="6.08" fill="#f7e5d7"/>
<rect x="562.84" y="59.36" width="3.75" height="6.08" fill="#eabb98"/>
<rect x="566.08" y="59.36" width="3.75" height="6.08" fill="#d8eaf4"/>
<rect x="569.33" y="59.36" width="3.75" height="6.08" fill="#f7e5d7"/>
<rect x="572.57" y="59.36" width="3.75" height="6.08" fill="#f7e5d7"/>
<rect x="575.82" y="59.36" width="3.75" height="6.08" fill="#d8eaf4"/>
<rect x="579.06" y="59.36" width="3.75" height="6.08" fill="#d8eaf4"/>
<rect x="582.31" y="59.36" width="3.75" height="6.08" fill="#f7e5d7"/>
<rect x="585.55" y="59.36" width="3.75" height="6.08" fill="#eabb98"/>
<rect x="588.80" y="59.36" width="3.75" height="6.08" fill="#efcab0"/>
<rect x="592.04" y="59.36" width="3.75" height="6.08" fill="#ffffff"/>
<rect x="595.29" y="59.36" width="3.75" height="6.08" fill="#b1d6ea"/>
<rect x="598.53" y="59.36" width="3.25" height="6.08" fill="#d8eaf4"/>
<rect x="603.20" y="59.36" width="3.75" height="6.08" fill="#63acd5"/>
<rect x="606.45" y="59.36" width="3.75" height="6.08" fill="#ffffff"/>
<rect x="609.69" y="59.36" width="3.75" height="6.08" fill="#eabb98"/>
<rect x="612.94" y="59.36" width="3.75" height="6.08" fill="#f7e5d7"/>
<rect x="616.18" y="59.36" width="3.25" height="6.08" fill="#f7e5d7"/>
<rect x="496.10" y="64.93" width="3.75" height="6.08" fill="#b1d6ea"/>
<rect x="499.35" y="64.93" width="3.75" height="6.08" fill="#d8eaf4"/>
<rect x="502.59" y="64.93" width="3.75" height="6.08" fill="#d8eaf4"/>
<rect x="505.84" y="64.93" width="3.75" height="6.08" fill="#d8eaf4"/>
<rect x="509.08" y="64.93" width="3.75" height="6.08" fill="#b1d6ea"/>
<rect x="512.33" y="64.93" width="3.75" height="6.08" fill="#b1d6ea"/>
<rect x="515.57" y="64.93" width="3.75" height="6.08" fill="#efcab0"/>
<rect x="518.82" y="64.93" width="3.75" height="6.08" fill="#d8eaf4"/>
<rect x="522.06" y="64.93" width="3.75" height="6.08" fill="#d8eaf4"/>
<rect x="525.31" y="64.93" width="3.75" height="6.08" fill="#3c98ca"/>
<rect x="528.55" y="64.93" width="3.75" height="6.08" fill="#d8eaf4"/>
<rect x="531.80" y="64.93" width="3.75" height="6.08" fill="#d8eaf4"/>
<rect x="535.04" y="64.93" width="3.75" height="6.08" fill="#b1d6ea"/>
<rect x="538.29" y="64.93" width="3.75" height="6.08" fill="#b1d6ea"/>
<rect x="541.53" y="64.93" width="3.75" height="6.08" fill="#b1d6ea"/>
<rect x="544.77" y="64.93" width="3.75" height="6.08" fill="#b1d6ea"/>
<rect x="548.02" y="64.93" width="3.25" height="6.08" fill="#b1d6ea"/>
<rect x="553.10" y="64.93" width="3.75" height="6.08" fill="#efcab0"/>
<rect x="556.35" y="64.93" width="3.75" height="6.08" fill="#efcab0"/>
<rect x="559.59" y="64.93" width="3.75" height="6.08" fill="#efcab0"/>
<rect x="562.84" y="64.93" width="3.75" height="6.08" fill="#f7e5d7"/>
<rect x="566.08" y="64.93" width="3.75" height="6.08" fill="#f7e5d7"/>
<rect x="569.33" y="64.93" width="3.75" height="6.08" fill="#f7e5d7"/>
<rect x="572.57" y="64.93" width="3.75" height="6.08" fill="#f7e5d7"/>
<rect x="575.82" y="64.93" width="3.75" height="6.08" fill="#ffffff"/>
<rect x="579.06" y="64.93" width="3.75" height="6.08" fill="#f7e5d7"/>
<rect x="582.31" y="64.93" width="3.75" height="6.08" fill="#f7e5d7"/>
<rect x="585.55" y="64.93" width="3.75" height="6.08" fill="#efcab0"/>
<rect x="588.80" y="64.93" width="3.75" height="6.08" fill="#efcab0"/>
<rect x="592.04" y="64.93" width="3.75" height="6.08" fill="#f7e5d7"/>
<rect x="595.29" y="64.93" width="3.75" height="6.08" fill="#efcab0"/>
<rect x="598.53" y="64.93" width="3.25" height="6.08" fill="#f7e5d7"/>
<rect x="603.20" y="64.93" width="3.75" height="6.08" fill="#ffffff"/>
<rect x="606.45" y="64.93" width="3.75" height="6.08" fill="#f7e5d7"/>
<rect x="609.69" y="64.93" width="3.75" height="6.08" fill="#efcab0"/>
<rect x="612.94" y="64.93" width="3.75" height="6.08" fill="#efcab0"/>
<rect x="616.18" y="64.93" width="3.25" height="6.08" fill="#efcab0"/>
<rect x="496.10" y="70.51" width="3.75" height="6.08" fill="#b1d6ea"/>
<rect x="499.35" y="70.51" width="3.75" height="6.08" fill="#f7e5d7"/>
<rect x="502.59" y="70.51" width="3.75" height="6.08" fill="#f7e5d7"/>
<rect x="505.84" y="70.51" width="3.75" height="6.08" fill="#b1d6ea"/>
<rect x="509.08" y="70.51" width="3.75" height="6.08" fill="#f7e5d7"/>
<rect x="512.33" y="70.51" width="3.75" height="6.08" fill="#d8eaf4"/>
<rect x="515.57" y="70.51" width="3.75" height="6.08" fill="#b1d6ea"/>
<rect x="518.82" y="70.51" width="3.75" height="6.08" fill="#ffffff"/>
<rect x="522.06" y="70.51" width="3.75" height="6.08" fill="#f7e5d7"/>
<rect x="525.31" y="70.51" width="3.75" height="6.08" fill="#b1d6ea"/>
<rect x="528.55" y="70.51" width="3.75" height="6.08" fill="#d8eaf4"/>
<rect x="531.80" y="70.51" width="3.75" height="6.08" fill="#ffffff"/>
<rect x="535.04" y="70.51" width="3.75" height="6.08" fill="#b1d6ea"/>
<rect x="538.29" y="70.51" width="3.75" height="6.08" fill="#b1d6ea"/>
<rect x="541.53" y="70.51" width="3.75" height="6.08" fill="#b1d6ea"/>
<rect x="544.77" y="70.51" width="3.75" height="6.08" fill="#d8eaf4"/>
<rect x="548.02" y="70.51" width="3.25" height="6.08" fill="#b1d6ea"/>
<rect x="553.10" y="70.51" width="3.75" height="6.08" fill="#f7e5d7"/>
<rect x="556.35" y="70.51" width="3.75" height="6.08" fill="#d26c21"/>
<rect x="559.59" y="70.51" width="3.75" height="6.08" fill="#ffffff"/>
<rect x="562.84" y="70.51" width="3.75" height="6.08" fill="#df9661"/>
<rect x="566.08" y="70.51" width="3.75" height="6.08" fill="#d8eaf4"/>
<rect x="569.33" y="70.51" width="3.75" height="6.08" fill="#ffffff"/>
<rect x="572.57" y="70.51" width="3.75" height="6.08" fill="#b1d6ea"/>
<rect x="575.82" y="70.51" width="3.75" height="6.08" fill="#f7e5d7"/>
<rect x="579.06" y="70.51" width="3.75" height="6.08" fill="#d8eaf4"/>
<rect x="582.31" y="70.51" width="3.75" height="6.08" fill="#d8eaf4"/>
<rect x="585.55" y="70.51" width="3.75" height="6.08" fill="#f7e5d7"/>
<rect x="588.80" y="70.51" width="3.75" height="6.08" fill="#e7b088"/>
<rect x="592.04" y="70.51" width="3.75" height="6.08" fill="#efcab0"/>
<rect x="595.29" y="70.51" width="3.75" height="6.08" fill="#d8eaf4"/>
<rect x="598.53" y="70.51" width="3.25" height="6.08" fill="#f7e5d7"/>
<rect x="603.20" y="70.51" width="3.75" height="6.08" fill="#b1d6ea"/>
<rect x="606.45" y="70.51" width="3.75" height="6.08" fill="#f7e5d7"/>
<rect x="609.69" y="70.51" width="3.75" height="6.08" fill="#f7e5d7"/>
<rect x="612.94" y="70.51" width="3.75" height="6.08" fill="#ffffff"/>
<rect x="616.18" y="70.51" width="3.25" height="6.08" fill="#d8eaf4"/>
<rect x="496.10" y="76.08" width="3.75" height="6.08" fill="#ffffff"/>
<rect x="499.35" y="76.08" width="3.75" height="6.08" fill="#b1d6ea"/>
<rect x="502.59" y="76.08" width="3.75" height="6.08" fill="#ffffff"/>
<rect x="505.84" y="76.08" width="3.75" height="6.08" fill="#d8eaf4"/>
<rect x="509.08" y="76.08" width="3.75" height="6.08" fill="#d8eaf4"/>
<rect x="512.33" y="76.08" width="3.75" height="6.08" fill="#b1d6ea"/>
<rect x="515.57" y="76.08" width="3.75" height="6.08" fill="#d8eaf4"/>
<rect x="518.82" y="76.08" width="3.75" height="6.08" fill="#f7e5d7"/>
<rect x="522.06" y="76.08" width="3.75" height="6.08" fill="#df9661"/>
<rect x="525.31" y="76.08" width="3.75" height="6.08" fill="#73b5d9"/>
<rect x="528.55" y="76.08" width="3.75" height="6.08" fill="#b1d6ea"/>
<rect x="531.80" y="76.08" width="3.75" height="6.08" fill="#b1d6ea"/>
<rect x="535.04" y="76.08" width="3.75" height="6.08" fill="#b1d6ea"/>
<rect x="538.29" y="76.08" width="3.75" height="6.08" fill="#b1d6ea"/>
<rect x="541.53" y="76.08" width="3.75" height="6.08" fill="#ffffff"/>
<rect x="544.77" y="76.08" width="3.75" height="6.08" fill="#b1d6ea"/>
<rect x="548.02" y="76.08" width="3.25" height="6.08" fill="#b1d6ea"/>
<rect x="553.10" y="76.08" width="3.75" height="6.08" fill="#e7b088"/>
<rect x="556.35" y="76.08" width="3.75" height="6.08" fill="#efcab0"/>
<rect x="559.59" y="76.08" width="3.75" height="6.08" fill="#b1d6ea"/>
<rect x="562.84" y="76.08" width="3.75" height="6.08" fill="#e7b088"/>
<rect x="566.08" y="76.08" width="3.75" height="6.08" fill="#d8eaf4"/>
<rect x="569.33" y="76.08" width="3.75" height="6.08" fill="#b1d6ea"/>
<rect x="572.57" y="76.08" width="3.75" height="6.08" fill="#b1d6ea"/>
<rect x="575.82" y="76.08" width="3.75" height="6.08" fill="#f7e5d7"/>
<rect x="579.06" y="76.08" width="3.75" height="6.08" fill="#f7e5d7"/>
<rect x="582.31" y="76.08" width="3.75" height="6.08" fill="#efcab0"/>
<rect x="585.55" y="76.08" width="3.75" height="6.08" fill="#f7e5d7"/>
<rect x="588.80" y="76.08" width="3.75" height="6.08" fill="#f7e5d7"/>
<rect x="592.04" y="76.08" width="3.75" height="6.08" fill="#ffffff"/>
<rect x="595.29" y="76.08" width="3.75" height="6.08" fill="#ffffff"/>
<rect x="598.53" y="76.08" width="3.25" height="6.08" fill="#f7e5d7"/>
<rect x="603.20" y="76.08" width="3.75" height="6.08" fill="#f7e5d7"/>
<rect x="606.45" y="76.08" width="3.75" height="6.08" fill="#d8eaf4"/>
<rect x="609.69" y="76.08" width="3.75" height="6.08" fill="#efcab0"/>
<rect x="612.94" y="76.08" width="3.75" height="6.08" fill="#ffffff"/>
<rect x="616.18" y="76.08" width="3.25" height="6.08" fill="#f7e5d7"/>
<rect x="496.10" y="81.66" width="3.75" height="6.08" fill="#efcab0"/>
<rect x="499.35" y="81.66" width="3.75" height="6.08" fill="#b1d6ea"/>
<rect x="502.59" y="81.66" width="3.75" height="6.08" fill="#efcab0"/>
<rect x="505.84" y="81.66" width="3.75" height="6.08" fill="#efcab0"/>
<rect x="509.08" y="81.66" width="3.75" height="6.08" fill="#ffffff"/>
<rect x="512.33" y="81.66" width="3.75" height="6.08" fill="#ffffff"/>
<rect x="515.57" y="81.66" width="3.75" height="6.08" fill="#ffffff"/>
<rect x="518.82" y="81.66" width="3.75" height="6.08" fill="#ffffff"/>
<rect x="522.06" y="81.66" width="3.75" height="6.08" fill="#d8eaf4"/>
<rect x="525.31" y="81.66" width="3.75" height="6.08" fill="#b1d6ea"/>
<rect x="528.55" y="81.66" width="3.75" height="6.08" fill="#8ac1df"/>
<rect x="531.80" y="81.66" width="3.75" height="6.08" fill="#b1d6ea"/>
<rect x="535.04" y="81.66" width="3.75" height="6.08" fill="#b1d6ea"/>
<rect x="538.29" y="81.66" width="3.75" height="6.08" fill="#b1d6ea"/>
<rect x="541.53" y="81.66" width="3.75" height="6.08" fill="#ffffff"/>
<rect x="544.77" y="81.66" width="3.75" height="6.08" fill="#d8eaf4"/>
<rect x="548.02" y="81.66" width="3.25" height="6.08" fill="#b1d6ea"/>
<rect x="553.10" y="81.66" width="3.75" height="6.08" fill="#e7b088"/>
<rect x="556.35" y="81.66" width="3.75" height="6.08" fill="#efcab0"/>
<rect x="559.59" y="81.66" width="3.75" height="6.08" fill="#efcab0"/>
<rect x="562.84" y="81.66" width="3.75" height="6.08" fill="#f7e5d7"/>
<rect x="566.08" y="81.66" width="3.75" height="6.08" fill="#ffffff"/>
<rect x="569.33" y="81.66" width="3.75" height="6.08" fill="#d8eaf4"/>
<rect x="572.57" y="81.66" width="3.75" height="6.08" fill="#b1d6ea"/>
<rect x="575.82" y="81.66" width="3.75" height="6.08" fill="#d8eaf4"/>
<rect x="579.06" y="81.66" width="3.75" height="6.08" fill="#f7e5d7"/>
<rect x="582.31" y="81.66" width="3.75" height="6.08" fill="#d8eaf4"/>
<rect x="585.55" y="81.66" width="3.75" height="6.08" fill="#d8eaf4"/>
<rect x="588.80" y="81.66" width="3.75" height="6.08" fill="#ffffff"/>
<rect x="592.04" y="81.66" width="3.75" height="6.08" fill="#ffffff"/>
<rect x="595.29" y="81.66" width="3.75" height="6.08" fill="#f7e5d7"/>
<rect x="598.53" y="81.66" width="3.25" height="6.08" fill="#8ac1df"/>
<rect x="603.20" y="81.66" width="3.75" height="6.08" fill="#b1d6ea"/>
<rect x="606.45" y="81.66" width="3.75" height="6.08" fill="#d77b39"/>
<rect x="609.69" y="81.66" width="3.75" height="6.08" fill="#f7e5d7"/>
<rect x="612.94" y="81.66" width="3.75" height="6.08" fill="#e7b088"/>
<rect x="616.18" y="81.66" width="3.25" height="6.08" fill="#ffffff"/>
<rect x="496.10" y="87.24" width="3.75" height="6.08" fill="#e2a071"/>
<rect x="499.35" y="87.24" width="3.75" height="6.08" fill="#9ac9e3"/>
<rect x="502.59" y="87.24" width="3.75" height="6.08" fill="#d8eaf4"/>
<rect x="505.84" y="87.24" width="3.75" height="6.08" fill="#d8eaf4"/>
<rect x="509.08" y="87.24" width="3.75" height="6.08" fill="#d8eaf4"/>
<rect x="512.33" y="87.24" width="3.75" height="6.08" fill="#d8eaf4"/>
<rect x="515.57" y="87.24" width="3.75" height="6.08" fill="#b1d6ea"/>
<rect x="518.82" y="87.24" width="3.75" height="6.08" fill="#ffffff"/>
<rect x="522.06" y="87.24" width="3.75" height="6.08" fill="#ffffff"/>
<rect x="525.31" y="87.24" width="3.75" height="6.08" fill="#d8eaf4"/>
<rect x="528.55" y="87.24" width="3.75" height="6.08" fill="#b1d6ea"/>
<rect x="531.80" y="87.24" width="3.75" height="6.08" fill="#ffffff"/>
<rect x="535.04" y="87.24" width="3.75" height="6.08" fill="#b1d6ea"/>
<rect x="538.29" y="87.24" width="3.75" height="6.08" fill="#b1d6ea"/>
<rect x="541.53" y="87.24" width="3.75" height="6.08" fill="#b1d6ea"/>
<rect x="544.77" y="87.24" width="3.75" height="6.08" fill="#b1d6ea"/>
<rect x="548.02" y="87.24" width="3.25" height="6.08" fill="#b1d6ea"/>
<rect x="553.10" y="87.24" width="3.75" height="6.08" fill="#efcab0"/>
<rect x="556.35" y="87.24" width="3.75" height="6.08" fill="#ffffff"/>
<rect x="559.59" y="87.24" width="3.75" height="6.08" fill="#d77b39"/>
<rect x="562.84" y="87.24" width="3.75" height="6.08" fill="#e7b088"/>
<rect x="566.08" y="87.24" width="3.75" height="6.08" fill="#d8eaf4"/>
<rect x="569.33" y="87.24" width="3.75" height="6.08" fill="#ffffff"/>
<rect x="572.57" y="87.24" width="3.75" height="6.08" fill="#f7e5d7"/>
<rect x="575.82" y="87.24" width="3.75" height="6.08" fill="#f7e5d7"/>
<rect x="579.06" y="87.24" width="3.75" height="6.08" fill="#ffffff"/>
<rect x="582.31" y="87.24" width="3.75" height="6.08" fill="#f7e5d7"/>
<rect x="585.55" y="87.24" width="3.75" height="6.08" fill="#d8eaf4"/>
<rect x="588.80" y="87.24" width="3.75" height="6.08" fill="#efcab0"/>
<rect x="592.04" y="87.24" width="3.75" height="6.08" fill="#f7e5d7"/>
<rect x="595.29" y="87.24" width="3.75" height="6.08" fill="#ffffff"/>
<rect x="598.53" y="87.24" width="3.25" height="6.08" fill="#d8eaf4"/>
<rect x="603.20" y="87.24" width="3.75" height="6.08" fill="#f7e5d7"/>
<rect x="606.45" y="87.24" width="3.75" height="6.08" fill="#efcab0"/>
<rect x="609.69" y="87.24" width="3.75" height="6.08" fill="#b1d6ea"/>
<rect x="612.94" y="87.24" width="3.75" height="6.08" fill="#b1d6ea"/>
<rect x="616.18" y="87.24" width="3.25" height="6.08" fill="#f7e5d7"/>
<rect x="496.10" y="92.81" width="3.75" height="6.08" fill="#efcab0"/>
<rect x="499.35" y="92.81" width="3.75" height="6.08" fill="#efcab0"/>
<rect x="502.59" y="92.81" width="3.75" height="6.08" fill="#f7e5d7"/>
<rect x="505.84" y="92.81" width="3.75" height="6.08" fill="#d8eaf4"/>
<rect x="509.08" y="92.81" width="3.75" height="6.08" fill="#efcab0"/>
<rect x="512.33" y="92.81" width="3.75" height="6.08" fill="#d8eaf4"/>
<rect x="515.57" y="92.81" width="3.75" height="6.08" fill="#d8eaf4"/>
<rect x="518.82" y="92.81" width="3.75" height="6.08" fill="#b1d6ea"/>
<rect x="522.06" y="92.81" width="3.75" height="6.08" fill="#ffffff"/>
<rect x="525.31" y="92.81" width="3.75" height="6.08" fill="#f7e5d7"/>
<rect x="528.55" y="92.81" width="3.75" height="6.08" fill="#b1d6ea"/>
<rect x="531.80" y="92.81" width="3.75" height="6.08" fill="#d8eaf4"/>
<rect x="535.04" y="92.81" width="3.75" height="6.08" fill="#8ac1df"/>
<rect x="538.29" y="92.81" width="3.75" height="6.08" fill="#b1d6ea"/>
<rect x="541.53" y="92.81" width="3.75" height="6.08" fill="#b1d6ea"/>
<rect x="544.77" y="92.81" width="3.75" height="6.08" fill="#d8eaf4"/>
<rect x="548.02" y="92.81" width="3.25" height="6.08" fill="#b1d6ea"/>
<rect x="553.10" y="92.81" width="3.75" height="6.08" fill="#efcab0"/>
<rect x="556.35" y="92.81" width="3.75" height="6.08" fill="#eabb98"/>
<rect x="559.59" y="92.81" width="3.75" height="6.08" fill="#efcab0"/>
<rect x="562.84" y="92.81" width="3.75" height="6.08" fill="#d77b39"/>
<rect x="566.08" y="92.81" width="3.75" height="6.08" fill="#b1d6ea"/>
<rect x="569.33" y="92.81" width="3.75" height="6.08" fill="#f7e5d7"/>
<rect x="572.57" y="92.81" width="3.75" height="6.08" fill="#d8eaf4"/>
<rect x="575.82" y="92.81" width="3.75" height="6.08" fill="#b1d6ea"/>
<rect x="579.06" y="92.81" width="3.75" height="6.08" fill="#d8eaf4"/>
<rect x="582.31" y="92.81" width="3.75" height="6.08" fill="#b1d6ea"/>
<rect x="585.55" y="92.81" width="3.75" height="6.08" fill="#d8eaf4"/>
<rect x="588.80" y="92.81" width="3.75" height="6.08" fill="#f7e5d7"/>
<rect x="592.04" y="92.81" width="3.75" height="6.08" fill="#e7b088"/>
<rect x="595.29" y="92.81" width="3.75" height="6.08" fill="#efcab0"/>
<rect x="598.53" y="92.81" width="3.25" height="6.08" fill="#f7e5d7"/>
<rect x="603.20" y="92.81" width="3.75" height="6.08" fill="#d8eaf4"/>
<rect x="606.45" y="92.81" width="3.75" height="6.08" fill="#d8eaf4"/>
<rect x="609.69" y="92.81" width="3.75" height="6.08" fill="#ffffff"/>
<rect x="612.94" y="92.81" width="3.75" height="6.08" fill="#f7e5d7"/>
<rect x="616.18" y="92.81" width="3.25" height="6.08" fill="#f7e5d7"/>
<rect x="496.10" y="98.39" width="3.75" height="6.08" fill="#d8eaf4"/>
<rect x="499.35" y="98.39" width="3.75" height="6.08" fill="#efcab0"/>
<rect x="502.59" y="98.39" width="3.75" height="6.08" fill="#ffffff"/>
<rect x="505.84" y="98.39" width="3.75" height="6.08" fill="#d8eaf4"/>
<rect x="509.08" y="98.39" width="3.75" height="6.08" fill="#f7e5d7"/>
<rect x="512.33" y="98.39" width="3.75" height="6.08" fill="#ffffff"/>
<rect x="515.57" y="98.39" width="3.75" height="6.08" fill="#d8eaf4"/>
<rect x="518.82" y="98.39" width="3.75" height="6.08" fill="#eabb98"/>
<rect x="522.06" y="98.39" width="3.75" height="6.08" fill="#d8eaf4"/>
<rect x="525.31" y="98.39" width="3.75" height="6.08" fill="#b1d6ea"/>
<rect x="528.55" y="98.39" width="3.75" height="6.08" fill="#ffffff"/>
<rect x="531.80" y="98.39" width="3.75" height="6.08" fill="#b1d6ea"/>
<rect x="535.04" y="98.39" width="3.75" height="6.08" fill="#b1d6ea"/>
<rect x="538.29" y="98.39" width="3.75" height="6.08" fill="#8ac1df"/>
<rect x="541.53" y="98.39" width="3.75" height="6.08" fill="#b1d6ea"/>
<rect x="544.77" y="98.39" width="3.75" height="6.08" fill="#b1d6ea"/>
<rect x="548.02" y="98.39" width="3.25" height="6.08" fill="#d8eaf4"/>
<rect x="553.10" y="98.39" width="3.75" height="6.08" fill="#f7e5d7"/>
<rect x="556.35" y="98.39" width="3.75" height="6.08" fill="#e7b088"/>
<rect x="559.59" y="98.39" width="3.75" height="6.08" fill="#efcab0"/>
<rect x="562.84" y="98.39" width="3.75" height="6.08" fill="#e7b088"/>
<rect x="566.08" y="98.39" width="3.75" height="6.08" fill="#b1d6ea"/>
<rect x="569.33" y="98.39" width="3.75" height="6.08" fill="#b1d6ea"/>
<rect x="572.57" y="98.39" width="3.75" height="6.08" fill="#d8eaf4"/>
<rect x="575.82" y="98.39" width="3.75" height="6.08" fill="#ffffff"/>
<rect x="579.06" y="98.39" width="3.75" height="6.08" fill="#8ac1df"/>
<rect x="582.31" y="98.39" width="3.75" height="6.08" fill="#efcab0"/>
<rect x="585.55" y="98.39" width="3.75" height="6.08" fill="#d8eaf4"/>
<rect x="588.80" y="98.39" width="3.75" height="6.08" fill="#f7e5d7"/>
<rect x="592.04" y="98.39" width="3.75" height="6.08" fill="#e7b088"/>
<rect x="595.29" y="98.39" width="3.75" height="6.08" fill="#f7e5d7"/>
<rect x="598.53" y="98.39" width="3.25" height="6.08" fill="#f7e5d7"/>
<rect x="603.20" y="98.39" width="3.75" height="6.08" fill="#ffffff"/>
<rect x="606.45" y="98.39" width="3.75" height="6.08" fill="#f7e5d7"/>
<rect x="609.69" y="98.39" width="3.75" height="6.08" fill="#b1d6ea"/>
<rect x="612.94" y="98.39" width="3.75" height="6.08" fill="#f7e5d7"/>
<rect x="616.18" y="98.39" width="3.25" height="6.08" fill="#efcab0"/>
<rect x="496.10" y="103.96" width="3.75" height="6.08" fill="#f7e5d7"/>
<rect x="499.35" y="103.96" width="3.75" height="6.08" fill="#ffffff"/>
<rect x="502.59" y="103.96" width="3.75" height="6.08" fill="#ffffff"/>
<rect x="505.84" y="103.96" width="3.75" height="6.08" fill="#d8eaf4"/>
<rect x="509.08" y="103.96" width="3.75" height="6.08" fill="#d8eaf4"/>
<rect x="512.33" y="103.96" width="3.75" height="6.08" fill="#eabb98"/>
<rect x="515.57" y="103.96" width="3.75" height="6.08" fill="#b1d6ea"/>
<rect x="518.82" y="103.96" width="3.75" height="6.08" fill="#f7e5d7"/>
<rect x="522.06" y="103.96" width="3.75" height="6.08" fill="#f7e5d7"/>
<rect x="525.31" y="103.96" width="3.75" height="6.08" fill="#8ac1df"/>
<rect x="528.55" y="103.96" width="3.75" height="6.08" fill="#b1d6ea"/>
<rect x="531.80" y="103.96" width="3.75" height="6.08" fill="#d8eaf4"/>
<rect x="535.04" y="103.96" width="3.75" height="6.08" fill="#9ac9e3"/>
<rect x="538.29" y="103.96" width="3.75" height="6.08" fill="#b1d6ea"/>
<rect x="541.53" y="103.96" width="3.75" height="6.08" fill="#b1d6ea"/>
<rect x="544.77" y="103.96" width="3.75" height="6.08" fill="#9ac9e3"/>
<rect x="548.02" y="103.96" width="3.25" height="6.08" fill="#b1d6ea"/>
<rect x="553.10" y="103.96" width="3.75" height="6.08" fill="#f7e5d7"/>
<rect x="556.35" y="103.96" width="3.75" height="6.08" fill="#eabb98"/>
<rect x="559.59" y="103.96" width="3.75" height="6.08" fill="#efcab0"/>
<rect x="562.84" y="103.96" width="3.75" height="6.08" fill="#d77b39"/>
<rect x="566.08" y="103.96" width="3.75" height="6.08" fill="#d8eaf4"/>
<rect x="569.33" y="103.96" width="3.75" height="6.08" fill="#b1d6ea"/>
<rect x="572.57" y="103.96" width="3.75" height="6.08" fill="#d8eaf4"/>
<rect x="575.82" y="103.96" width="3.75" height="6.08" fill="#d8eaf4"/>
<rect x="579.06" y="103.96" width="3.75" height="6.08" fill="#ffffff"/>
<rect x="582.31" y="103.96" width="3.75" height="6.08" fill="#ffffff"/>
<rect x="585.55" y="103.96" width="3.75" height="6.08" fill="#f7e5d7"/>
<rect x="588.80" y="103.96" width="3.75" height="6.08" fill="#f7e5d7"/>
<rect x="592.04" y="103.96" width="3.75" height="6.08" fill="#e7b088"/>
<rect x="595.29" y="103.96" width="3.75" height="6.08" fill="#f7e5d7"/>
<rect x="598.53" y="103.96" width="3.25" height="6.08" fill="#f7e5d7"/>
<rect x="603.20" y="103.96" width="3.75" height="6.08" fill="#b1d6ea"/>
<rect x="606.45" y="103.96" width="3.75" height="6.08" fill="#ffffff"/>
<rect x="609.69" y="103.96" width="3.75" height="6.08" fill="#f7e5d7"/>
<rect x="612.94" y="103.96" width="3.75" height="6.08" fill="#f7e5d7"/>
<rect x="616.18" y="103.96" width="3.25" height="6.08" fill="#efcab0"/>
<rect x="496.10" y="109.54" width="3.75" height="6.08" fill="#efcab0"/>
<rect x="499.35" y="109.54" width="3.75" height="6.08" fill="#efcab0"/>
<rect x="502.59" y="109.54" width="3.75" height="6.08" fill="#f7e5d7"/>
<rect x="505.84" y="109.54" width="3.75" height="6.08" fill="#ffffff"/>
<rect x="509.08" y="109.54" width="3.75" height="6.08" fill="#8ac1df"/>
<rect x="512.33" y="109.54" width="3.75" height="6.08" fill="#f7e5d7"/>
<rect x="515.57" y="109.54" width="3.75" height="6.08" fill="#d8eaf4"/>
<rect x="518.82" y="109.54" width="3.75" height="6.08" fill="#eabb98"/>
<rect x="522.06" y="109.54" width="3.75" height="6.08" fill="#ffffff"/>
<rect x="525.31" y="109.54" width="3.75" height="6.08" fill="#63acd5"/>
<rect x="528.55" y="109.54" width="3.75" height="6.08" fill="#b1d6ea"/>
<rect x="531.80" y="109.54" width="3.75" height="6.08" fill="#b1d6ea"/>
<rect x="535.04" y="109.54" width="3.75" height="6.08" fill="#9ac9e3"/>
<rect x="538.29" y="109.54" width="3.75" height="6.08" fill="#b1d6ea"/>
<rect x="541.53" y="109.54" width="3.75" height="6.08" fill="#b1d6ea"/>
<rect x="544.77" y="109.54" width="3.75" height="6.08" fill="#d8eaf4"/>
<rect x="548.02" y="109.54" width="3.25" height="6.08" fill="#ffffff"/>
<rect x="553.10" y="109.54" width="3.75" height="6.08" fill="#efcab0"/>
<rect x="556.35" y="109.54" width="3.75" height="6.08" fill="#f7e5d7"/>
<rect x="559.59" y="109.54" width="3.75" height="6.08" fill="#efcab0"/>
<rect x="562.84" y="109.54" width="3.75" height="6.08" fill="#e7b088"/>
<rect x="566.08" y="109.54" width="3.75" height="6.08" fill="#d8eaf4"/>
<rect x="569.33" y="109.54" width="3.75" height="6.08" fill="#b1d6ea"/>
<rect x="572.57" y="109.54" width="3.75" height="6.08" fill="#f7e5d7"/>
<rect x="575.82" y="109.54" width="3.75" height="6.08" fill="#d8eaf4"/>
<rect x="579.06" y="109.54" width="3.75" height="6.08" fill="#d8eaf4"/>
<rect x="582.31" y="109.54" width="3.75" height="6.08" fill="#efcab0"/>
<rect x="585.55" y="109.54" width="3.75" height="6.08" fill="#f7e5d7"/>
<rect x="588.80" y="109.54" width="3.75" height="6.08" fill="#ffffff"/>
<rect x="592.04" y="109.54" width="3.75" height="6.08" fill="#f7e5d7"/>
<rect x="595.29" y="109.54" width="3.75" height="6.08" fill="#d8eaf4"/>
<rect x="598.53" y="109.54" width="3.25" height="6.08" fill="#ffffff"/>
<rect x="603.20" y="109.54" width="3.75" height="6.08" fill="#ffffff"/>
<rect x="606.45" y="109.54" width="3.75" height="6.08" fill="#efcab0"/>
<rect x="609.69" y="109.54" width="3.75" height="6.08" fill="#f7e5d7"/>
<rect x="612.94" y="109.54" width="3.75" height="6.08" fill="#efcab0"/>
<rect x="616.18" y="109.54" width="3.25" height="6.08" fill="#efcab0"/>
<rect x="496.10" y="115.12" width="3.75" height="5.58" fill="#d8eaf4"/>
<rect x="499.35" y="115.12" width="3.75" height="5.58" fill="#b1d6ea"/>
<rect x="502.59" y="115.12" width="3.75" height="5.58" fill="#9ac9e3"/>
<rect x="505.84" y="115.12" width="3.75" height="5.58" fill="#d8eaf4"/>
<rect x="509.08" y="115.12" width="3.75" height="5.58" fill="#b1d6ea"/>
<rect x="512.33" y="115.12" width="3.75" height="5.58" fill="#f7e5d7"/>
<rect x="515.57" y="115.12" width="3.75" height="5.58" fill="#b1d6ea"/>
<rect x="518.82" y="115.12" width="3.75" height="5.58" fill="#f7e5d7"/>
<rect x="522.06" y="115.12" width="3.75" height="5.58" fill="#e7b088"/>
<rect x="525.31" y="115.12" width="3.75" height="5.58" fill="#b1d6ea"/>
<rect x="528.55" y="115.12" width="3.75" height="5.58" fill="#ffffff"/>
<rect x="531.80" y="115.12" width="3.75" height="5.58" fill="#d8eaf4"/>
<rect x="535.04" y="115.12" width="3.75" height="5.58" fill="#8ac1df"/>
<rect x="538.29" y="115.12" width="3.75" height="5.58" fill="#b1d6ea"/>
<rect x="541.53" y="115.12" width="3.75" height="5.58" fill="#b1d6ea"/>
<rect x="544.77" y="115.12" width="3.75" height="5.58" fill="#8ac1df"/>
<rect x="548.02" y="115.12" width="3.25" height="5.58" fill="#d8eaf4"/>
<rect x="553.10" y="115.12" width="3.75" height="5.58" fill="#f7e5d7"/>
<rect x="556.35" y="115.12" width="3.75" height="5.58" fill="#efcab0"/>
<rect x="559.59" y="115.12" width="3.75" height="5.58" fill="#d77b39"/>
<rect x="562.84" y="115.12" width="3.75" height="5.58" fill="#d77b39"/>
<rect x="566.08" y="115.12" width="3.75" height="5.58" fill="#f7e5d7"/>
<rect x="569.33" y="115.12" width="3.75" height="5.58" fill="#ffffff"/>
<rect x="572.57" y="115.12" width="3.75" height="5.58" fill="#d8eaf4"/>
<rect x="575.82" y="115.12" width="3.75" height="5.58" fill="#d8eaf4"/>
<rect x="579.06" y="115.12" width="3.75" height="5.58" fill="#d8eaf4"/>
<rect x="582.31" y="115.12" width="3.75" height="5.58" fill="#efcab0"/>
<rect x="585.55" y="115.12" width="3.75" height="5.58" fill="#f7e5d7"/>
<rect x="588.80" y="115.12" width="3.75" height="5.58" fill="#efcab0"/>
<rect x="592.04" y="115.12" width="3.75" height="5.58" fill="#d8eaf4"/>
<rect x="595.29" y="115.12" width="3.75" height="5.58" fill="#b1d6ea"/>
<rect x="598.53" y="115.12" width="3.25" height="5.58" fill="#f7e5d7"/>
<rect x="603.20" y="115.12" width="3.75" height="5.58" fill="#efcab0"/>
<rect x="606.45" y="115.12" width="3.75" height="5.58" fill="#b1d6ea"/>
<rect x="609.69" y="115.12" width="3.75" height="5.58" fill="#efcab0"/>
<rect x="612.94" y="115.12" width="3.75" height="5.58" fill="#ffffff"/>
<rect x="616.18" y="115.12" width="3.25" height="5.58" fill="#f7e5d7"/>
<rect x="496.10" y="20.00" width="55.16" height="4.60" fill="#D4601C"/>
<rect x="553.10" y="20.00" width="48.68" height="4.60" fill="#3A7AB8"/>
<rect x="603.20" y="20.00" width="16.23" height="4.60" fill="#42A877"/>
<path d="M504.21 19.10V15.00H507.46V19.10" fill="none" stroke="#555" stroke-width="0.45"/>
<path d="M500.97 19.10V13.00H505.84V15.00" fill="none" stroke="#555" stroke-width="0.45"/>
<path d="M510.70 19.10V14.00H513.95V19.10" fill="none" stroke="#555" stroke-width="0.45"/>
<path d="M503.40 13.00V11.00H512.33V14.00" fill="none" stroke="#555" stroke-width="0.45"/>
<path d="M520.44 19.10V15.00H523.68V19.10" fill="none" stroke="#555" stroke-width="0.45"/>
<path d="M517.19 19.10V12.50H522.06V15.00" fill="none" stroke="#555" stroke-width="0.45"/>
<path d="M507.86 11.00V10.50H519.63V12.50" fill="none" stroke="#555" stroke-width="0.45"/>
<path d="M497.72 19.10V7.40H513.74V10.50" fill="none" stroke="#555" stroke-width="0.45"/>
<path d="M533.42 19.10V15.50H536.66V19.10" fill="none" stroke="#555" stroke-width="0.45"/>
<path d="M530.17 19.10V14.00H535.04V15.50" fill="none" stroke="#555" stroke-width="0.45"/>
<path d="M539.91 19.10V16.00H543.15V19.10" fill="none" stroke="#555" stroke-width="0.45"/>
<path d="M546.40 19.10V16.00H549.64V19.10" fill="none" stroke="#555" stroke-width="0.45"/>
<path d="M541.53 16.00V14.50H548.02V16.00" fill="none" stroke="#555" stroke-width="0.45"/>
<path d="M532.61 14.00V12.30H544.77V14.50" fill="none" stroke="#555" stroke-width="0.45"/>
<path d="M526.93 19.10V6.30H538.69V12.30" fill="none" stroke="#555" stroke-width="0.45"/>
<path d="M505.73 7.40V1.30H532.81V6.30" fill="none" stroke="#555" stroke-width="0.45"/>
<path d="M554.72 19.10V11.00H557.97V19.10" fill="none" stroke="#555" stroke-width="0.45"/>
<path d="M561.21 19.10V12.00H564.46V19.10" fill="none" stroke="#555" stroke-width="0.45"/>
<path d="M556.35 11.00V8.20H562.84V12.00" fill="none" stroke="#555" stroke-width="0.45"/>
<path d="M570.95 19.10V13.00H574.19V19.10" fill="none" stroke="#555" stroke-width="0.45"/>
<path d="M567.70 19.10V11.00H572.57V13.00" fill="none" stroke="#555" stroke-width="0.45"/>
<path d="M577.44 19.10V14.00H580.68V19.10" fill="none" stroke="#555" stroke-width="0.45"/>
<path d="M583.93 19.10V15.00H587.17V19.10" fill="none" stroke="#555" stroke-width="0.45"/>
<path d="M579.06 14.00V12.00H585.55V15.00" fill="none" stroke="#555" stroke-width="0.45"/>
<path d="M590.42 19.10V13.00H593.66V19.10" fill="none" stroke="#555" stroke-width="0.45"/>
<path d="M596.91 19.10V14.00H600.15V19.10" fill="none" stroke="#555" stroke-width="0.45"/>
<path d="M592.04 13.00V11.00H598.53V14.00" fill="none" stroke="#555" stroke-width="0.45"/>
<path d="M582.30 12.00V9.00H595.28V11.00" fill="none" stroke="#555" stroke-width="0.45"/>
<path d="M570.14 11.00V7.00H588.79V9.00" fill="none" stroke="#555" stroke-width="0.45"/>
<path d="M559.59 8.20V1.20H579.47V7.00" fill="none" stroke="#555" stroke-width="0.45"/>
<path d="M614.56 19.10V12.70H617.80V19.10" fill="none" stroke="#555" stroke-width="0.45"/>
<path d="M611.31 19.10V12.40H616.18V12.70" fill="none" stroke="#555" stroke-width="0.45"/>
<path d="M608.07 19.10V8.30H613.75V12.40" fill="none" stroke="#555" stroke-width="0.45"/>
<path d="M604.82 19.10V6.50H610.91V8.30" fill="none" stroke="#555" stroke-width="0.45"/>
<path d="M496.10 28.69H482.50V34.26H496.10" fill="none" stroke="#555" stroke-width="0.45"/>
<path d="M496.10 39.84H486.80V45.42H496.10" fill="none" stroke="#555" stroke-width="0.45"/>
<path d="M496.10 56.57H489.20V62.14H496.10" fill="none" stroke="#555" stroke-width="0.45"/>
<path d="M496.10 50.99H486.10V59.36H489.20" fill="none" stroke="#555" stroke-width="0.45"/>
<path d="M486.80 42.63H483.70V55.17H486.10" fill="none" stroke="#555" stroke-width="0.45"/>
<path d="M496.10 73.30H486.00V78.87H496.10" fill="none" stroke="#555" stroke-width="0.45"/>
<path d="M496.10 67.72H484.60V76.08H486.00" fill="none" stroke="#555" stroke-width="0.45"/>
<path d="M496.10 84.45H484.60V90.02H496.10" fill="none" stroke="#555" stroke-width="0.45"/>
<path d="M496.10 101.18H489.00V106.75H496.10" fill="none" stroke="#555" stroke-width="0.45"/>
<path d="M496.10 95.60H487.10V103.96H489.00" fill="none" stroke="#555" stroke-width="0.45"/>
<path d="M496.10 112.33H484.90V117.90H496.10" fill="none" stroke="#555" stroke-width="0.45"/>
<path d="M487.10 99.78H483.20V115.12H484.90" fill="none" stroke="#555" stroke-width="0.45"/>
<path d="M484.60 87.24H480.30V107.45H483.20" fill="none" stroke="#555" stroke-width="0.45"/>
<path d="M484.60 71.90H478.80V97.34H480.30" fill="none" stroke="#555" stroke-width="0.45"/>
<path d="M483.70 48.90H475.50V84.62H478.80" fill="none" stroke="#555" stroke-width="0.45"/>
<path d="M482.50 31.48H473.30V66.76H475.50" fill="none" stroke="#555" stroke-width="0.45"/>
<text x="621.00" y="29.62" font-size="2.6" text-anchor="start" fill="#222" stroke="#222" stroke-width="0.06" textLength="17.97" lengthAdjust="spacingAndGlyphs">OID00788_MCP-3</text>
<text x="621.00" y="35.20" font-size="2.6" text-anchor="start" fill="#222" stroke="#222" stroke-width="0.06" textLength="18.94" lengthAdjust="spacingAndGlyphs">OID00764_TWEAK</text>
<text x="621.00" y="40.78" font-size="2.6" text-anchor="start" fill="#222" stroke="#222" stroke-width="0.06" textLength="17.60" lengthAdjust="spacingAndGlyphs">OID00865_GZMH</text>
<text x="621.00" y="46.35" font-size="2.6" text-anchor="start" fill="#222" stroke="#222" stroke-width="0.06" textLength="15.90" lengthAdjust="spacingAndGlyphs">OID00817_DCN</text>
<text x="621.00" y="51.93" font-size="2.6" text-anchor="start" fill="#222" stroke="#222" stroke-width="0.06" textLength="16.75" lengthAdjust="spacingAndGlyphs">OID00856_CD27</text>
<text x="621.00" y="57.50" font-size="2.6" text-anchor="start" fill="#222" stroke="#222" stroke-width="0.06" textLength="21.00" lengthAdjust="spacingAndGlyphs">OID00819_TNFRSF4</text>
<text x="621.00" y="63.08" font-size="2.6" text-anchor="start" fill="#222" stroke="#222" stroke-width="0.06" textLength="21.00" lengthAdjust="spacingAndGlyphs">OID00814_TNFRSF9</text>
<text x="621.00" y="68.66" font-size="2.6" text-anchor="start" fill="#222" stroke="#222" stroke-width="0.06" textLength="18.57" lengthAdjust="spacingAndGlyphs">OID00791_PDCD1</text>
<text x="621.00" y="74.23" font-size="2.6" text-anchor="start" fill="#222" stroke="#222" stroke-width="0.06" textLength="16.75" lengthAdjust="spacingAndGlyphs">OID00793_CD28</text>
<text x="621.00" y="79.81" font-size="2.6" text-anchor="start" fill="#222" stroke="#222" stroke-width="0.06" textLength="15.54" lengthAdjust="spacingAndGlyphs">OID00823_PTN</text>
<text x="621.00" y="85.38" font-size="2.6" text-anchor="start" fill="#222" stroke="#222" stroke-width="0.06" textLength="18.21" lengthAdjust="spacingAndGlyphs">OID00771_CXCL9</text>
<text x="621.00" y="90.96" font-size="2.6" text-anchor="start" fill="#222" stroke="#222" stroke-width="0.06" textLength="15.42" lengthAdjust="spacingAndGlyphs">OID00839_IL10</text>
<text x="621.00" y="96.54" font-size="2.6" text-anchor="start" fill="#222" stroke="#222" stroke-width="0.06" textLength="17.48" lengthAdjust="spacingAndGlyphs">OID00812_GZMB</text>
<text x="621.00" y="102.11" font-size="2.6" text-anchor="start" fill="#222" stroke="#222" stroke-width="0.06" textLength="17.97" lengthAdjust="spacingAndGlyphs">OID00763_CD244</text>
<text x="621.00" y="107.69" font-size="2.6" text-anchor="start" fill="#222" stroke="#222" stroke-width="0.06" textLength="17.48" lengthAdjust="spacingAndGlyphs">OID00844_GZMA</text>
<text x="621.00" y="113.26" font-size="2.6" text-anchor="start" fill="#222" stroke="#222" stroke-width="0.06" textLength="16.75" lengthAdjust="spacingAndGlyphs">OID00782_CD70</text>
<text x="621.00" y="118.84" font-size="2.6" text-anchor="start" fill="#222" stroke="#222" stroke-width="0.06" textLength="15.66" lengthAdjust="spacingAndGlyphs">OID00775_ADA</text>
<text x="621.00" y="23.41" font-size="4.2" text-anchor="start" fill="#000" stroke="#000" stroke-width="0.18" font-weight="bold">Group</text>
<text x="498.62" y="121.99" font-size="2.6" text-anchor="end" fill="#3a3a3a" stroke="#3a3a3a" stroke-width="0.08" transform="rotate(-90 498.62 121.99)" textLength="16.0" lengthAdjust="spacingAndGlyphs">OID00800_SD_00</text>
<text x="501.87" y="121.99" font-size="2.6" text-anchor="end" fill="#3a3a3a" stroke="#3a3a3a" stroke-width="0.08" transform="rotate(-90 501.87 121.99)" textLength="16.0" lengthAdjust="spacingAndGlyphs">OID00801_SD_01</text>
<text x="505.11" y="121.99" font-size="2.6" text-anchor="end" fill="#3a3a3a" stroke="#3a3a3a" stroke-width="0.08" transform="rotate(-90 505.11 121.99)" textLength="16.0" lengthAdjust="spacingAndGlyphs">OID00802_SD_02</text>
<text x="508.36" y="121.99" font-size="2.6" text-anchor="end" fill="#3a3a3a" stroke="#3a3a3a" stroke-width="0.08" transform="rotate(-90 508.36 121.99)" textLength="16.0" lengthAdjust="spacingAndGlyphs">OID00803_SD_03</text>
<text x="511.60" y="121.99" font-size="2.6" text-anchor="end" fill="#3a3a3a" stroke="#3a3a3a" stroke-width="0.08" transform="rotate(-90 511.60 121.99)" textLength="16.0" lengthAdjust="spacingAndGlyphs">OID00804_SD_04</text>
<text x="514.85" y="121.99" font-size="2.6" text-anchor="end" fill="#3a3a3a" stroke="#3a3a3a" stroke-width="0.08" transform="rotate(-90 514.85 121.99)" textLength="16.0" lengthAdjust="spacingAndGlyphs">OID00805_SD_05</text>
<text x="518.09" y="121.99" font-size="2.6" text-anchor="end" fill="#3a3a3a" stroke="#3a3a3a" stroke-width="0.08" transform="rotate(-90 518.09 121.99)" textLength="16.0" lengthAdjust="spacingAndGlyphs">OID00806_SD_06</text>
<text x="521.34" y="121.99" font-size="2.6" text-anchor="end" fill="#3a3a3a" stroke="#3a3a3a" stroke-width="0.08" transform="rotate(-90 521.34 121.99)" textLength="16.0" lengthAdjust="spacingAndGlyphs">OID00807_SD_07</text>
<text x="524.58" y="121.99" font-size="2.6" text-anchor="end" fill="#3a3a3a" stroke="#3a3a3a" stroke-width="0.08" transform="rotate(-90 524.58 121.99)" textLength="16.0" lengthAdjust="spacingAndGlyphs">OID00808_SD_08</text>
<text x="527.83" y="121.99" font-size="2.6" text-anchor="end" fill="#3a3a3a" stroke="#3a3a3a" stroke-width="0.08" transform="rotate(-90 527.83 121.99)" textLength="16.0" lengthAdjust="spacingAndGlyphs">OID00809_SD_09</text>
<text x="531.07" y="121.99" font-size="2.6" text-anchor="end" fill="#3a3a3a" stroke="#3a3a3a" stroke-width="0.08" transform="rotate(-90 531.07 121.99)" textLength="16.0" lengthAdjust="spacingAndGlyphs">OID00810_SD_10</text>
<text x="534.32" y="121.99" font-size="2.6" text-anchor="end" fill="#3a3a3a" stroke="#3a3a3a" stroke-width="0.08" transform="rotate(-90 534.32 121.99)" textLength="16.0" lengthAdjust="spacingAndGlyphs">OID00811_SD_11</text>
<text x="537.56" y="121.99" font-size="2.6" text-anchor="end" fill="#3a3a3a" stroke="#3a3a3a" stroke-width="0.08" transform="rotate(-90 537.56 121.99)" textLength="16.0" lengthAdjust="spacingAndGlyphs">OID00812_SD_12</text>
<text x="540.81" y="121.99" font-size="2.6" text-anchor="end" fill="#3a3a3a" stroke="#3a3a3a" stroke-width="0.08" transform="rotate(-90 540.81 121.99)" textLength="16.0" lengthAdjust="spacingAndGlyphs">OID00813_SD_13</text>
<text x="544.05" y="121.99" font-size="2.6" text-anchor="end" fill="#3a3a3a" stroke="#3a3a3a" stroke-width="0.08" transform="rotate(-90 544.05 121.99)" textLength="16.0" lengthAdjust="spacingAndGlyphs">OID00814_SD_14</text>
<text x="547.30" y="121.99" font-size="2.6" text-anchor="end" fill="#3a3a3a" stroke="#3a3a3a" stroke-width="0.08" transform="rotate(-90 547.30 121.99)" textLength="16.0" lengthAdjust="spacingAndGlyphs">OID00815_SD_15</text>
<text x="550.54" y="121.99" font-size="2.6" text-anchor="end" fill="#3a3a3a" stroke="#3a3a3a" stroke-width="0.08" transform="rotate(-90 550.54 121.99)" textLength="16.0" lengthAdjust="spacingAndGlyphs">OID00816_SD_16</text>
<text x="555.62" y="121.99" font-size="2.6" text-anchor="end" fill="#3a3a3a" stroke="#3a3a3a" stroke-width="0.08" transform="rotate(-90 555.62 121.99)" textLength="16.0" lengthAdjust="spacingAndGlyphs">OID00817_SD_17</text>
<text x="558.87" y="121.99" font-size="2.6" text-anchor="end" fill="#3a3a3a" stroke="#3a3a3a" stroke-width="0.08" transform="rotate(-90 558.87 121.99)" textLength="16.0" lengthAdjust="spacingAndGlyphs">OID00818_SD_18</text>
<text x="562.11" y="121.99" font-size="2.6" text-anchor="end" fill="#3a3a3a" stroke="#3a3a3a" stroke-width="0.08" transform="rotate(-90 562.11 121.99)" textLength="16.0" lengthAdjust="spacingAndGlyphs">OID00819_SD_19</text>
<text x="565.36" y="121.99" font-size="2.6" text-anchor="end" fill="#3a3a3a" stroke="#3a3a3a" stroke-width="0.08" transform="rotate(-90 565.36 121.99)" textLength="16.0" lengthAdjust="spacingAndGlyphs">OID00820_SD_20</text>
<text x="568.60" y="121.99" font-size="2.6" text-anchor="end" fill="#3a3a3a" stroke="#3a3a3a" stroke-width="0.08" transform="rotate(-90 568.60 121.99)" textLength="16.0" lengthAdjust="spacingAndGlyphs">OID00821_SD_21</text>
<text x="571.85" y="121.99" font-size="2.6" text-anchor="end" fill="#3a3a3a" stroke="#3a3a3a" stroke-width="0.08" transform="rotate(-90 571.85 121.99)" textLength="16.0" lengthAdjust="spacingAndGlyphs">OID00822_SD_22</text>
<text x="575.09" y="121.99" font-size="2.6" text-anchor="end" fill="#3a3a3a" stroke="#3a3a3a" stroke-width="0.08" transform="rotate(-90 575.09 121.99)" textLength="16.0" lengthAdjust="spacingAndGlyphs">OID00823_SD_23</text>
<text x="578.34" y="121.99" font-size="2.6" text-anchor="end" fill="#3a3a3a" stroke="#3a3a3a" stroke-width="0.08" transform="rotate(-90 578.34 121.99)" textLength="16.0" lengthAdjust="spacingAndGlyphs">OID00824_SD_24</text>
<text x="581.58" y="121.99" font-size="2.6" text-anchor="end" fill="#3a3a3a" stroke="#3a3a3a" stroke-width="0.08" transform="rotate(-90 581.58 121.99)" textLength="16.0" lengthAdjust="spacingAndGlyphs">OID00825_SD_25</text>
<text x="584.83" y="121.99" font-size="2.6" text-anchor="end" fill="#3a3a3a" stroke="#3a3a3a" stroke-width="0.08" transform="rotate(-90 584.83 121.99)" textLength="16.0" lengthAdjust="spacingAndGlyphs">OID00826_SD_26</text>
<text x="588.07" y="121.99" font-size="2.6" text-anchor="end" fill="#3a3a3a" stroke="#3a3a3a" stroke-width="0.08" transform="rotate(-90 588.07 121.99)" textLength="16.0" lengthAdjust="spacingAndGlyphs">OID00827_SD_27</text>
<text x="591.32" y="121.99" font-size="2.6" text-anchor="end" fill="#3a3a3a" stroke="#3a3a3a" stroke-width="0.08" transform="rotate(-90 591.32 121.99)" textLength="16.0" lengthAdjust="spacingAndGlyphs">OID00828_SD_28</text>
<text x="594.56" y="121.99" font-size="2.6" text-anchor="end" fill="#3a3a3a" stroke="#3a3a3a" stroke-width="0.08" transform="rotate(-90 594.56 121.99)" textLength="16.0" lengthAdjust="spacingAndGlyphs">OID00829_SD_29</text>
<text x="597.81" y="121.99" font-size="2.6" text-anchor="end" fill="#3a3a3a" stroke="#3a3a3a" stroke-width="0.08" transform="rotate(-90 597.81 121.99)" textLength="16.0" lengthAdjust="spacingAndGlyphs">OID00830_SD_30</text>
<text x="601.05" y="121.99" font-size="2.6" text-anchor="end" fill="#3a3a3a" stroke="#3a3a3a" stroke-width="0.08" transform="rotate(-90 601.05 121.99)" textLength="16.0" lengthAdjust="spacingAndGlyphs">OID00831_SD_31</text>
<text x="605.72" y="121.99" font-size="2.6" text-anchor="end" fill="#3a3a3a" stroke="#3a3a3a" stroke-width="0.08" transform="rotate(-90 605.72 121.99)" textLength="16.0" lengthAdjust="spacingAndGlyphs">OID00832_SD_32</text>
<text x="608.97" y="121.99" font-size="2.6" text-anchor="end" fill="#3a3a3a" stroke="#3a3a3a" stroke-width="0.08" transform="rotate(-90 608.97 121.99)" textLength="16.0" lengthAdjust="spacingAndGlyphs">OID00833_SD_33</text>
<text x="612.21" y="121.99" font-size="2.6" text-anchor="end" fill="#3a3a3a" stroke="#3a3a3a" stroke-width="0.08" transform="rotate(-90 612.21 121.99)" textLength="16.0" lengthAdjust="spacingAndGlyphs">OID00834_SD_34</text>
<text x="615.46" y="121.99" font-size="2.6" text-anchor="end" fill="#3a3a3a" stroke="#3a3a3a" stroke-width="0.08" transform="rotate(-90 615.46 121.99)" textLength="16.0" lengthAdjust="spacingAndGlyphs">OID00835_SD_35</text>
<text x="618.70" y="121.99" font-size="2.6" text-anchor="end" fill="#3a3a3a" stroke="#3a3a3a" stroke-width="0.08" transform="rotate(-90 618.70 121.99)" textLength="16.0" lengthAdjust="spacingAndGlyphs">OID00836_SD_36</text>
<defs><linearGradient id="g1" x1="0" y1="0" x2="0" y2="1"><stop offset="0" stop-color="#D4621E"/><stop offset="0.5" stop-color="#ffffff"/><stop offset="1" stop-color="#3278B9"/></linearGradient><linearGradient id="g2" x1="0" y1="0" x2="0" y2="1"><stop offset="0" stop-color="#D4621E"/><stop offset="0.53" stop-color="#ffffff"/><stop offset="1" stop-color="#3278B9"/></linearGradient></defs>
<rect x="437.20" y="19.00" width="3.80" height="62.90" fill="url(#g1)"/>
<line x1="437.20" y1="19.90" x2="437.80" y2="19.90" stroke="#fff" stroke-width="0.3"/>
<line x1="440.40" y1="19.90" x2="441.00" y2="19.90" stroke="#fff" stroke-width="0.3"/>
<text x="443.00" y="21.45" font-size="4.3" text-anchor="start" fill="#222" stroke="#222" stroke-width="0.1">4</text>
<line x1="437.20" y1="35.30" x2="437.80" y2="35.30" stroke="#fff" stroke-width="0.3"/>
<line x1="440.40" y1="35.30" x2="441.00" y2="35.30" stroke="#fff" stroke-width="0.3"/>
<text x="443.00" y="36.85" font-size="4.3" text-anchor="start" fill="#222" stroke="#222" stroke-width="0.1">2</text>
<line x1="437.20" y1="50.60" x2="437.80" y2="50.60" stroke="#fff" stroke-width="0.3"/>
<line x1="440.40" y1="50.60" x2="441.00" y2="50.60" stroke="#fff" stroke-width="0.3"/>
<text x="443.00" y="52.15" font-size="4.3" text-anchor="start" fill="#222" stroke="#222" stroke-width="0.1">0</text>
<line x1="437.20" y1="65.90" x2="437.80" y2="65.90" stroke="#fff" stroke-width="0.3"/>
<line x1="440.40" y1="65.90" x2="441.00" y2="65.90" stroke="#fff" stroke-width="0.3"/>
<text x="443.00" y="67.45" font-size="4.3" text-anchor="start" fill="#222" stroke="#222" stroke-width="0.1">−2</text>
<line x1="437.20" y1="81.30" x2="437.80" y2="81.30" stroke="#fff" stroke-width="0.3"/>
<line x1="440.40" y1="81.30" x2="441.00" y2="81.30" stroke="#fff" stroke-width="0.3"/>
<text x="443.00" y="82.85" font-size="4.3" text-anchor="start" fill="#222" stroke="#222" stroke-width="0.1">−4</text>
<text x="449.40" y="22.18" font-size="4.1" text-anchor="start" fill="#000" stroke="#000" stroke-width="0.1" font-weight="bold">Group</text>
<rect x="449.40" y="24.00" width="5.60" height="5.60" fill="#D4601C"/>
<text x="456.30" y="28.28" font-size="4.1" text-anchor="start" fill="#222" stroke="#222" stroke-width="0.03">PRT1</text>
<rect x="449.40" y="30.10" width="5.60" height="5.60" fill="#3A7AB8"/>
<text x="456.30" y="34.38" font-size="4.1" text-anchor="start" fill="#222" stroke="#222" stroke-width="0.03">PRT2</text>
<rect x="449.40" y="36.20" width="5.60" height="5.60" fill="#42A877"/>
<text x="456.30" y="40.48" font-size="4.1" text-anchor="start" fill="#222" stroke="#222" stroke-width="0.03">PRT3</text>
<rect x="645.30" y="19.90" width="3.70" height="64.80" fill="url(#g2)"/>
<text x="651.00" y="25.09" font-size="4.7" text-anchor="start" fill="#222" stroke="#222" stroke-width="0.1">3</text>
<text x="651.00" y="34.79" font-size="4.7" text-anchor="start" fill="#222" stroke="#222" stroke-width="0.1">2</text>
<text x="651.00" y="44.49" font-size="4.7" text-anchor="start" fill="#222" stroke="#222" stroke-width="0.1">1</text>
<text x="651.00" y="54.19" font-size="4.7" text-anchor="start" fill="#222" stroke="#222" stroke-width="0.1">0</text>
<text x="651.00" y="63.89" font-size="4.7" text-anchor="start" fill="#222" stroke="#222" stroke-width="0.1">−1</text>
<text x="651.00" y="73.69" font-size="4.7" text-anchor="start" fill="#222" stroke="#222" stroke-width="0.1">−2</text>
<text x="651.00" y="83.49" font-size="4.7" text-anchor="start" fill="#222" stroke="#222" stroke-width="0.1">−3</text>
<text x="657.40" y="22.85" font-size="4.3" text-anchor="start" fill="#000" stroke="#000" stroke-width="0.1" font-weight="bold">Group</text>
<rect x="657.40" y="24.60" width="6.20" height="5.70" fill="#D4601C"/>
<text x="665.00" y="29.15" font-size="4.3" text-anchor="start" fill="#222" stroke="#222" stroke-width="0.03">SD_PDT1</text>
<rect x="657.40" y="30.85" width="6.20" height="5.70" fill="#3A7AB8"/>
<text x="665.00" y="35.40" font-size="4.3" text-anchor="start" fill="#222" stroke="#222" stroke-width="0.03">SD_PDT2</text>
<rect x="657.40" y="37.10" width="6.20" height="5.70" fill="#42A877"/>
<text x="665.00" y="41.65" font-size="4.3" text-anchor="start" fill="#222" stroke="#222" stroke-width="0.03">SD_PDT3</text>
<line x1="38.60" y1="169.50" x2="38.60" y2="270.30" stroke="#7a7a7a" stroke-width="1.0"/>
<line x1="38.10" y1="270.30" x2="118.80" y2="270.30" stroke="#7a7a7a" stroke-width="1.0"/>
<line x1="37.60" y1="188.60" x2="38.60" y2="188.60" stroke="#555" stroke-width="0.5"/>
<text x="37.10" y="190.00" font-size="3.9" text-anchor="end" fill="#111" stroke="#111" stroke-width="0.22">15</text>
<line x1="37.60" y1="218.60" x2="38.60" y2="218.60" stroke="#555" stroke-width="0.5"/>
<text x="37.10" y="220.00" font-size="3.9" text-anchor="end" fill="#111" stroke="#111" stroke-width="0.22">10</text>
<line x1="37.60" y1="248.60" x2="38.60" y2="248.60" stroke="#555" stroke-width="0.5"/>
<text x="37.10" y="250.00" font-size="3.9" text-anchor="end" fill="#111" stroke="#111" stroke-width="0.22">5</text>
<line x1="54.10" y1="270.30" x2="54.10" y2="271.30" stroke="#555" stroke-width="0.5"/>
<text x="54.10" y="275.04" font-size="4.0" text-anchor="middle" fill="#111" stroke="#111" stroke-width="0.2">PRT1</text>
<line x1="79.40" y1="270.30" x2="79.40" y2="271.30" stroke="#555" stroke-width="0.5"/>
<text x="79.40" y="275.04" font-size="4.0" text-anchor="middle" fill="#111" stroke="#111" stroke-width="0.2">PRT2</text>
<line x1="104.80" y1="270.30" x2="104.80" y2="271.30" stroke="#555" stroke-width="0.5"/>
<text x="104.80" y="275.04" font-size="4.0" text-anchor="middle" fill="#111" stroke="#111" stroke-width="0.2">PRT3</text>
<text x="79.20" y="280.77" font-size="5.2" text-anchor="middle" fill="#111" stroke="#111" stroke-width="0.18">Group</text>
<text x="30.30" y="220.00" font-size="4.4" text-anchor="middle" fill="#000" stroke="#000" stroke-width="0.15" font-weight="bold" transform="rotate(-90 30.30 220.00)">NPX</text>
<text x="79.20" y="167.53" font-size="4.8" text-anchor="middle" fill="#000" stroke="#000" stroke-width="0.18" font-weight="bold">PDCD1 OID00791</text>
<text x="40.20" y="172.69" font-size="3.85" text-anchor="start" fill="#111" stroke="#111" stroke-width="0.18">ANOVA, p = 1.966e-11</text>
<path d="M53.80 180.50V178.70H104.90V180.50" fill="none" stroke="#222" stroke-width="0.45"/>
<text x="79.35" y="178.17" font-size="3.8" text-anchor="middle" fill="#111" stroke="#111" stroke-width="0.18">p.adj = 0.000000</text>
<path d="M53.80 189.20V187.40H79.50V189.20" fill="none" stroke="#222" stroke-width="0.45"/>
<text x="66.65" y="186.87" font-size="3.8" text-anchor="middle" fill="#111" stroke="#111" stroke-width="0.18">p.adj = 0.000000</text>
<line x1="54.10" y1="252.40" x2="54.10" y2="255.00" stroke="#222" stroke-width="0.5"/>
<line x1="54.10" y1="263.50" x2="54.10" y2="269.90" stroke="#222" stroke-width="0.5"/>
<rect x="46.60" y="255.00" width="15.00" height="8.50" fill="#D4601C" stroke="#333" stroke-width="0.4"/>
<line x1="46.60" y1="260.20" x2="61.60" y2="260.20" stroke="#222" stroke-width="0.9"/>
<line x1="79.40" y1="198.20" x2="79.40" y2="219.10" stroke="#222" stroke-width="0.5"/>
<line x1="79.40" y1="233.20" x2="79.40" y2="236.00" stroke="#222" stroke-width="0.5"/>
<rect x="71.90" y="219.10" width="15.00" height="14.10" fill="#3A7AB8" stroke="#333" stroke-width="0.4"/>
<line x1="71.90" y1="226.20" x2="86.90" y2="226.20" stroke="#222" stroke-width="0.9"/>
<line x1="104.80" y1="200.80" x2="104.80" y2="216.10" stroke="#222" stroke-width="0.5"/>
<line x1="104.80" y1="231.10" x2="104.80" y2="248.00" stroke="#222" stroke-width="0.5"/>
<rect x="97.30" y="216.10" width="15.00" height="15.00" fill="#42A877" stroke="#333" stroke-width="0.4"/>
<line x1="97.30" y1="222.50" x2="112.30" y2="222.50" stroke="#222" stroke-width="0.9"/>
<circle cx="53.90" cy="252.40" r="0.75" fill="#000"/>
<circle cx="54.09" cy="269.90" r="0.75" fill="#000"/>
<circle cx="53.25" cy="262.20" r="0.75" fill="#000"/>
<circle cx="53.24" cy="265.13" r="0.75" fill="#000"/>
<circle cx="53.20" cy="258.82" r="0.75" fill="#000"/>
<circle cx="53.97" cy="254.45" r="0.75" fill="#000"/>
<circle cx="53.43" cy="255.24" r="0.75" fill="#000"/>
<circle cx="52.57" cy="266.27" r="0.75" fill="#000"/>
<circle cx="55.18" cy="263.51" r="0.75" fill="#000"/>
<circle cx="54.28" cy="261.13" r="0.75" fill="#000"/>
<circle cx="54.56" cy="263.03" r="0.75" fill="#000"/>
<circle cx="53.09" cy="263.70" r="0.75" fill="#000"/>
<circle cx="55.68" cy="259.60" r="0.75" fill="#000"/>
<circle cx="55.25" cy="265.94" r="0.75" fill="#000"/>
<circle cx="52.89" cy="258.59" r="0.75" fill="#000"/>
<circle cx="53.56" cy="256.88" r="0.75" fill="#000"/>
<circle cx="54.45" cy="229.00" r="0.75" fill="#000"/>
<circle cx="78.35" cy="198.20" r="0.75" fill="#000"/>
<circle cx="79.41" cy="236.00" r="0.75" fill="#000"/>
<circle cx="80.94" cy="217.77" r="0.75" fill="#000"/>
<circle cx="80.27" cy="230.80" r="0.75" fill="#000"/>
<circle cx="79.53" cy="204.54" r="0.75" fill="#000"/>
<circle cx="80.55" cy="216.64" r="0.75" fill="#000"/>
<circle cx="78.54" cy="234.61" r="0.75" fill="#000"/>
<circle cx="79.44" cy="198.92" r="0.75" fill="#000"/>
<circle cx="80.85" cy="230.34" r="0.75" fill="#000"/>
<circle cx="79.65" cy="221.54" r="0.75" fill="#000"/>
<circle cx="79.27" cy="212.89" r="0.75" fill="#000"/>
<circle cx="78.66" cy="206.03" r="0.75" fill="#000"/>
<circle cx="79.55" cy="226.27" r="0.75" fill="#000"/>
<circle cx="80.86" cy="234.66" r="0.75" fill="#000"/>
<circle cx="77.82" cy="226.00" r="0.75" fill="#000"/>
<circle cx="80.31" cy="219.71" r="0.75" fill="#000"/>
<circle cx="80.43" cy="218.75" r="0.75" fill="#000"/>
<circle cx="80.64" cy="206.43" r="0.75" fill="#000"/>
<circle cx="79.78" cy="265.80" r="0.75" fill="#000"/>
<circle cx="103.29" cy="200.80" r="0.75" fill="#000"/>
<circle cx="103.93" cy="248.00" r="0.75" fill="#000"/>
<circle cx="103.77" cy="239.87" r="0.75" fill="#000"/>
<circle cx="105.07" cy="207.32" r="0.75" fill="#000"/>
<circle cx="105.96" cy="229.15" r="0.75" fill="#000"/>
<circle cx="105.76" cy="203.86" r="0.75" fill="#000"/>
<circle cx="105.75" cy="208.22" r="0.75" fill="#000"/>
<circle cx="105.81" cy="221.29" r="0.75" fill="#000"/>
<circle cx="104.02" cy="210.34" r="0.75" fill="#000"/>
<circle cx="105.89" cy="207.81" r="0.75" fill="#000"/>
<text x="125.80" y="212.30" font-size="5.0" text-anchor="start" fill="#000" stroke="#000" stroke-width="0.18">Group</text>
<line x1="128.25" y1="215.50" x2="128.25" y2="219.90" stroke="#666" stroke-width="0.3"/>
<rect x="125.90" y="216.10" width="4.80" height="3.20" fill="#D4601C" stroke="#444" stroke-width="0.25"/>
<text x="134.00" y="219.07" font-size="3.8" text-anchor="start" fill="#111" stroke="#111" stroke-width="0.18">PRT1</text>
<line x1="128.25" y1="221.40" x2="128.25" y2="225.80" stroke="#666" stroke-width="0.3"/>
<rect x="125.90" y="222.00" width="4.80" height="3.20" fill="#3A7AB8" stroke="#444" stroke-width="0.25"/>
<text x="134.00" y="224.97" font-size="3.8" text-anchor="start" fill="#111" stroke="#111" stroke-width="0.18">PRT2</text>
<line x1="128.25" y1="227.30" x2="128.25" y2="231.70" stroke="#666" stroke-width="0.3"/>
<rect x="125.90" y="227.90" width="4.80" height="3.20" fill="#42A877" stroke="#444" stroke-width="0.25"/>
<text x="134.00" y="230.87" font-size="3.8" text-anchor="start" fill="#111" stroke="#111" stroke-width="0.18">PRT3</text>
<line x1="160.20" y1="169.10" x2="160.20" y2="268.00" stroke="#7a7a7a" stroke-width="1.0"/>
<line x1="159.70" y1="268.00" x2="238.30" y2="268.00" stroke="#7a7a7a" stroke-width="1.0"/>
<line x1="159.20" y1="178.20" x2="160.20" y2="178.20" stroke="#555" stroke-width="0.5"/>
<text x="158.70" y="179.60" font-size="3.9" text-anchor="end" fill="#111" stroke="#111" stroke-width="0.22">8</text>
<line x1="159.20" y1="202.50" x2="160.20" y2="202.50" stroke="#555" stroke-width="0.5"/>
<text x="158.70" y="203.90" font-size="3.9" text-anchor="end" fill="#111" stroke="#111" stroke-width="0.22">7</text>
<line x1="159.20" y1="226.60" x2="160.20" y2="226.60" stroke="#555" stroke-width="0.5"/>
<text x="158.70" y="228.00" font-size="3.9" text-anchor="end" fill="#111" stroke="#111" stroke-width="0.22">6</text>
<line x1="159.20" y1="250.60" x2="160.20" y2="250.60" stroke="#555" stroke-width="0.5"/>
<text x="158.70" y="252.00" font-size="3.9" text-anchor="end" fill="#111" stroke="#111" stroke-width="0.22">5</text>
<line x1="175.40" y1="268.00" x2="175.40" y2="269.00" stroke="#555" stroke-width="0.5"/>
<text x="175.40" y="272.74" font-size="4.0" text-anchor="middle" fill="#111" stroke="#111" stroke-width="0.2">PRT1</text>
<line x1="201.10" y1="268.00" x2="201.10" y2="269.00" stroke="#555" stroke-width="0.5"/>
<text x="201.10" y="272.74" font-size="4.0" text-anchor="middle" fill="#111" stroke="#111" stroke-width="0.2">PRT2</text>
<line x1="226.60" y1="268.00" x2="226.60" y2="269.00" stroke="#555" stroke-width="0.5"/>
<text x="226.60" y="272.74" font-size="4.0" text-anchor="middle" fill="#111" stroke="#111" stroke-width="0.2">PRT3</text>
<text x="201.00" y="278.07" font-size="5.2" text-anchor="middle" fill="#111" stroke="#111" stroke-width="0.18">Group</text>
<text x="154.30" y="219.00" font-size="4.4" text-anchor="middle" fill="#000" stroke="#000" stroke-width="0.15" font-weight="bold" transform="rotate(-90 154.30 219.00)">NPX</text>
<text x="201.30" y="167.33" font-size="4.8" text-anchor="middle" fill="#000" stroke="#000" stroke-width="0.18" font-weight="bold">TNFRSF4 OID00819</text>
<text x="161.50" y="172.39" font-size="3.85" text-anchor="start" fill="#111" stroke="#111" stroke-width="0.18">ANOVA, p = 0.001785</text>
<path d="M175.40 180.50V178.70H201.40V180.50" fill="none" stroke="#222" stroke-width="0.45"/>
<text x="188.40" y="178.17" font-size="3.8" text-anchor="middle" fill="#111" stroke="#111" stroke-width="0.18">p.adj = 0.057372</text>
<path d="M175.40 188.90V187.10H226.80V188.90" fill="none" stroke="#222" stroke-width="0.45"/>
<text x="201.10" y="186.57" font-size="3.8" text-anchor="middle" fill="#111" stroke="#111" stroke-width="0.18">p.adj = 0.006002</text>
<line x1="175.40" y1="226.60" x2="175.40" y2="235.00" stroke="#222" stroke-width="0.5"/>
<line x1="175.40" y1="250.50" x2="175.40" y2="267.00" stroke="#222" stroke-width="0.5"/>
<rect x="167.90" y="235.00" width="15.00" height="15.50" fill="#D4601C" stroke="#333" stroke-width="0.4"/>
<line x1="167.90" y1="242.20" x2="182.90" y2="242.20" stroke="#222" stroke-width="0.9"/>
<line x1="201.10" y1="209.10" x2="201.10" y2="221.50" stroke="#222" stroke-width="0.5"/>
<line x1="201.10" y1="241.70" x2="201.10" y2="251.60" stroke="#222" stroke-width="0.5"/>
<rect x="193.60" y="221.50" width="15.00" height="20.20" fill="#3A7AB8" stroke="#333" stroke-width="0.4"/>
<line x1="193.60" y1="227.20" x2="208.60" y2="227.20" stroke="#222" stroke-width="0.9"/>
<line x1="226.60" y1="197.00" x2="226.60" y2="216.30" stroke="#222" stroke-width="0.5"/>
<line x1="226.60" y1="236.60" x2="226.60" y2="250.10" stroke="#222" stroke-width="0.5"/>
<rect x="219.10" y="216.30" width="15.00" height="20.30" fill="#42A877" stroke="#333" stroke-width="0.4"/>
<line x1="219.10" y1="233.20" x2="234.10" y2="233.20" stroke="#222" stroke-width="0.9"/>
<circle cx="175.43" cy="226.60" r="0.75" fill="#000"/>
<circle cx="177.00" cy="267.00" r="0.75" fill="#000"/>
<circle cx="175.96" cy="266.14" r="0.75" fill="#000"/>
<circle cx="174.38" cy="236.32" r="0.75" fill="#000"/>
<circle cx="176.66" cy="262.64" r="0.75" fill="#000"/>
<circle cx="176.35" cy="229.19" r="0.75" fill="#000"/>
<circle cx="176.15" cy="231.70" r="0.75" fill="#000"/>
<circle cx="176.70" cy="227.93" r="0.75" fill="#000"/>
<circle cx="176.24" cy="241.10" r="0.75" fill="#000"/>
<circle cx="176.33" cy="234.96" r="0.75" fill="#000"/>
<circle cx="174.93" cy="259.48" r="0.75" fill="#000"/>
<circle cx="176.94" cy="239.16" r="0.75" fill="#000"/>
<circle cx="176.88" cy="235.43" r="0.75" fill="#000"/>
<circle cx="174.32" cy="239.94" r="0.75" fill="#000"/>
<circle cx="176.21" cy="248.82" r="0.75" fill="#000"/>
<circle cx="176.09" cy="231.31" r="0.75" fill="#000"/>
<circle cx="175.28" cy="235.37" r="0.75" fill="#000"/>
<circle cx="175.50" cy="237.12" r="0.75" fill="#000"/>
<circle cx="202.13" cy="209.10" r="0.75" fill="#000"/>
<circle cx="201.82" cy="251.60" r="0.75" fill="#000"/>
<circle cx="202.40" cy="240.18" r="0.75" fill="#000"/>
<circle cx="200.11" cy="219.41" r="0.75" fill="#000"/>
<circle cx="201.88" cy="239.33" r="0.75" fill="#000"/>
<circle cx="199.69" cy="246.26" r="0.75" fill="#000"/>
<circle cx="201.59" cy="220.51" r="0.75" fill="#000"/>
<circle cx="200.37" cy="215.13" r="0.75" fill="#000"/>
<circle cx="200.23" cy="228.06" r="0.75" fill="#000"/>
<circle cx="202.30" cy="211.16" r="0.75" fill="#000"/>
<circle cx="199.84" cy="244.35" r="0.75" fill="#000"/>
<circle cx="201.17" cy="244.76" r="0.75" fill="#000"/>
<circle cx="202.23" cy="248.69" r="0.75" fill="#000"/>
<circle cx="200.28" cy="215.52" r="0.75" fill="#000"/>
<circle cx="200.17" cy="216.39" r="0.75" fill="#000"/>
<circle cx="202.32" cy="225.70" r="0.75" fill="#000"/>
<circle cx="200.85" cy="220.68" r="0.75" fill="#000"/>
<circle cx="201.79" cy="210.03" r="0.75" fill="#000"/>
<circle cx="228.17" cy="197.00" r="0.75" fill="#000"/>
<circle cx="225.48" cy="250.10" r="0.75" fill="#000"/>
<circle cx="225.12" cy="223.66" r="0.75" fill="#000"/>
<circle cx="226.10" cy="229.96" r="0.75" fill="#000"/>
<circle cx="226.97" cy="235.68" r="0.75" fill="#000"/>
<circle cx="227.38" cy="231.11" r="0.75" fill="#000"/>
<circle cx="225.36" cy="221.49" r="0.75" fill="#000"/>
<circle cx="226.08" cy="238.72" r="0.75" fill="#000"/>
<circle cx="225.10" cy="230.34" r="0.75" fill="#000"/>
<circle cx="226.44" cy="217.18" r="0.75" fill="#000"/>
<text x="247.50" y="210.90" font-size="5.0" text-anchor="start" fill="#000" stroke="#000" stroke-width="0.18">Group</text>
<line x1="249.95" y1="214.10" x2="249.95" y2="218.50" stroke="#666" stroke-width="0.3"/>
<rect x="247.60" y="214.70" width="4.80" height="3.20" fill="#D4601C" stroke="#444" stroke-width="0.25"/>
<text x="255.70" y="217.67" font-size="3.8" text-anchor="start" fill="#111" stroke="#111" stroke-width="0.18">PRT1</text>
<line x1="249.95" y1="220.00" x2="249.95" y2="224.40" stroke="#666" stroke-width="0.3"/>
<rect x="247.60" y="220.60" width="4.80" height="3.20" fill="#3A7AB8" stroke="#444" stroke-width="0.25"/>
<text x="255.70" y="223.57" font-size="3.8" text-anchor="start" fill="#111" stroke="#111" stroke-width="0.18">PRT2</text>
<line x1="249.95" y1="225.90" x2="249.95" y2="230.30" stroke="#666" stroke-width="0.3"/>
<rect x="247.60" y="226.50" width="4.80" height="3.20" fill="#42A877" stroke="#444" stroke-width="0.25"/>
<text x="255.70" y="229.47" font-size="3.8" text-anchor="start" fill="#111" stroke="#111" stroke-width="0.18">PRT3</text>
<line x1="286.50" y1="169.10" x2="286.50" y2="268.00" stroke="#7a7a7a" stroke-width="1.0"/>
<line x1="286.00" y1="268.00" x2="364.00" y2="268.00" stroke="#7a7a7a" stroke-width="1.0"/>
<line x1="285.50" y1="188.40" x2="286.50" y2="188.40" stroke="#555" stroke-width="0.5"/>
<text x="285.00" y="189.80" font-size="3.9" text-anchor="end" fill="#111" stroke="#111" stroke-width="0.22">2.5</text>
<line x1="285.50" y1="213.30" x2="286.50" y2="213.30" stroke="#555" stroke-width="0.5"/>
<text x="285.00" y="214.70" font-size="3.9" text-anchor="end" fill="#111" stroke="#111" stroke-width="0.22">2.0</text>
<line x1="285.50" y1="238.60" x2="286.50" y2="238.60" stroke="#555" stroke-width="0.5"/>
<text x="285.00" y="240.00" font-size="3.9" text-anchor="end" fill="#111" stroke="#111" stroke-width="0.22">1.5</text>
<line x1="285.50" y1="263.30" x2="286.50" y2="263.30" stroke="#555" stroke-width="0.5"/>
<text x="285.00" y="264.70" font-size="3.9" text-anchor="end" fill="#111" stroke="#111" stroke-width="0.22">1.0</text>
<line x1="300.70" y1="268.00" x2="300.70" y2="269.00" stroke="#555" stroke-width="0.5"/>
<text x="300.70" y="272.74" font-size="4.0" text-anchor="middle" fill="#111" stroke="#111" stroke-width="0.2">PRT1</text>
<line x1="325.10" y1="268.00" x2="325.10" y2="269.00" stroke="#555" stroke-width="0.5"/>
<text x="325.10" y="272.74" font-size="4.0" text-anchor="middle" fill="#111" stroke="#111" stroke-width="0.2">PRT2</text>
<line x1="349.90" y1="268.00" x2="349.90" y2="269.00" stroke="#555" stroke-width="0.5"/>
<text x="349.90" y="272.74" font-size="4.0" text-anchor="middle" fill="#111" stroke="#111" stroke-width="0.2">PRT3</text>
<text x="325.00" y="278.07" font-size="5.2" text-anchor="middle" fill="#111" stroke="#111" stroke-width="0.18">Group</text>
<text x="277.00" y="218.80" font-size="4.4" text-anchor="middle" fill="#000" stroke="#000" stroke-width="0.15" font-weight="bold" transform="rotate(-90 277.00 218.80)">NPX</text>
<text x="325.40" y="167.73" font-size="4.8" text-anchor="middle" fill="#000" stroke="#000" stroke-width="0.18" font-weight="bold">DCN OID00817</text>
<text x="287.80" y="172.39" font-size="3.85" text-anchor="start" fill="#111" stroke="#111" stroke-width="0.18">ANOVA, p = 0.004556</text>
<path d="M300.70 180.20V178.40H349.90V180.20" fill="none" stroke="#222" stroke-width="0.45"/>
<text x="325.30" y="177.87" font-size="3.8" text-anchor="middle" fill="#111" stroke="#111" stroke-width="0.18">p.adj = 0.049091</text>
<path d="M300.70 189.10V187.30H325.10V189.10" fill="none" stroke="#222" stroke-width="0.45"/>
<text x="312.90" y="186.77" font-size="3.8" text-anchor="middle" fill="#111" stroke="#111" stroke-width="0.18">p.adj = 0.006080</text>
<line x1="300.70" y1="216.00" x2="300.70" y2="229.00" stroke="#222" stroke-width="0.5"/>
<line x1="300.70" y1="257.10" x2="300.70" y2="267.30" stroke="#222" stroke-width="0.5"/>
<rect x="293.20" y="229.00" width="15.00" height="28.10" fill="#D4601C" stroke="#333" stroke-width="0.4"/>
<line x1="293.20" y1="238.70" x2="308.20" y2="238.70" stroke="#222" stroke-width="0.9"/>
<line x1="325.10" y1="205.50" x2="325.10" y2="221.70" stroke="#222" stroke-width="0.5"/>
<line x1="325.10" y1="234.60" x2="325.10" y2="241.20" stroke="#222" stroke-width="0.5"/>
<rect x="317.60" y="221.70" width="15.00" height="12.90" fill="#3A7AB8" stroke="#333" stroke-width="0.4"/>
<line x1="317.60" y1="228.10" x2="332.60" y2="228.10" stroke="#222" stroke-width="0.9"/>
<line x1="349.90" y1="217.30" x2="349.90" y2="226.30" stroke="#222" stroke-width="0.5"/>
<line x1="349.90" y1="236.60" x2="349.90" y2="243.00" stroke="#222" stroke-width="0.5"/>
<rect x="342.40" y="226.30" width="15.00" height="10.30" fill="#42A877" stroke="#333" stroke-width="0.4"/>
<line x1="342.40" y1="231.20" x2="357.40" y2="231.20" stroke="#222" stroke-width="0.9"/>
<circle cx="300.36" cy="216.00" r="0.75" fill="#000"/>
<circle cx="301.66" cy="267.30" r="0.75" fill="#000"/>
<circle cx="300.52" cy="244.29" r="0.75" fill="#000"/>
<circle cx="302.09" cy="245.97" r="0.75" fill="#000"/>
<circle cx="301.91" cy="216.85" r="0.75" fill="#000"/>
<circle cx="299.41" cy="252.53" r="0.75" fill="#000"/>
<circle cx="299.54" cy="235.58" r="0.75" fill="#000"/>
<circle cx="299.79" cy="261.90" r="0.75" fill="#000"/>
<circle cx="302.19" cy="261.96" r="0.75" fill="#000"/>
<circle cx="300.50" cy="217.96" r="0.75" fill="#000"/>
<circle cx="301.11" cy="227.28" r="0.75" fill="#000"/>
<circle cx="300.06" cy="225.64" r="0.75" fill="#000"/>
<circle cx="300.72" cy="216.83" r="0.75" fill="#000"/>
<circle cx="300.33" cy="263.13" r="0.75" fill="#000"/>
<circle cx="300.22" cy="229.87" r="0.75" fill="#000"/>
<circle cx="300.97" cy="261.92" r="0.75" fill="#000"/>
<circle cx="300.97" cy="227.42" r="0.75" fill="#000"/>
<circle cx="301.99" cy="227.97" r="0.75" fill="#000"/>
<circle cx="325.12" cy="205.50" r="0.75" fill="#000"/>
<circle cx="326.70" cy="241.20" r="0.75" fill="#000"/>
<circle cx="324.49" cy="220.55" r="0.75" fill="#000"/>
<circle cx="323.75" cy="241.14" r="0.75" fill="#000"/>
<circle cx="325.42" cy="208.14" r="0.75" fill="#000"/>
<circle cx="323.60" cy="240.97" r="0.75" fill="#000"/>
<circle cx="324.13" cy="238.36" r="0.75" fill="#000"/>
<circle cx="324.81" cy="208.92" r="0.75" fill="#000"/>
<circle cx="325.45" cy="238.39" r="0.75" fill="#000"/>
<circle cx="324.00" cy="222.52" r="0.75" fill="#000"/>
<circle cx="323.64" cy="241.13" r="0.75" fill="#000"/>
<circle cx="326.28" cy="232.03" r="0.75" fill="#000"/>
<circle cx="324.50" cy="223.64" r="0.75" fill="#000"/>
<circle cx="326.57" cy="231.62" r="0.75" fill="#000"/>
<circle cx="326.37" cy="234.89" r="0.75" fill="#000"/>
<circle cx="324.71" cy="206.23" r="0.75" fill="#000"/>
<circle cx="324.97" cy="210.86" r="0.75" fill="#000"/>
<circle cx="325.16" cy="241.07" r="0.75" fill="#000"/>
<circle cx="348.36" cy="217.30" r="0.75" fill="#000"/>
<circle cx="350.27" cy="243.00" r="0.75" fill="#000"/>
<circle cx="350.32" cy="222.66" r="0.75" fill="#000"/>
<circle cx="348.49" cy="222.88" r="0.75" fill="#000"/>
<circle cx="350.31" cy="239.84" r="0.75" fill="#000"/>
<circle cx="349.79" cy="233.72" r="0.75" fill="#000"/>
<circle cx="350.47" cy="229.40" r="0.75" fill="#000"/>
<circle cx="349.43" cy="239.94" r="0.75" fill="#000"/>
<circle cx="350.56" cy="217.40" r="0.75" fill="#000"/>
<circle cx="350.66" cy="232.27" r="0.75" fill="#000"/>
<circle cx="349.14" cy="197.20" r="0.75" fill="#000"/>
<text x="369.60" y="211.00" font-size="5.0" text-anchor="start" fill="#000" stroke="#000" stroke-width="0.18">Group</text>
<line x1="372.05" y1="214.20" x2="372.05" y2="218.60" stroke="#666" stroke-width="0.3"/>
<rect x="369.70" y="214.80" width="4.80" height="3.20" fill="#D4601C" stroke="#444" stroke-width="0.25"/>
<text x="377.80" y="217.77" font-size="3.8" text-anchor="start" fill="#111" stroke="#111" stroke-width="0.18">PRT1</text>
<line x1="372.05" y1="220.10" x2="372.05" y2="224.50" stroke="#666" stroke-width="0.3"/>
<rect x="369.70" y="220.70" width="4.80" height="3.20" fill="#3A7AB8" stroke="#444" stroke-width="0.25"/>
<text x="377.80" y="223.67" font-size="3.8" text-anchor="start" fill="#111" stroke="#111" stroke-width="0.18">PRT2</text>
<line x1="372.05" y1="226.00" x2="372.05" y2="230.40" stroke="#666" stroke-width="0.3"/>
<rect x="369.70" y="226.60" width="4.80" height="3.20" fill="#42A877" stroke="#444" stroke-width="0.25"/>
<text x="377.80" y="229.57" font-size="3.8" text-anchor="start" fill="#111" stroke="#111" stroke-width="0.18">PRT3</text>
<line x1="409.00" y1="167.40" x2="409.00" y2="266.50" stroke="#7a7a7a" stroke-width="1.0"/>
<line x1="408.50" y1="266.50" x2="491.20" y2="266.50" stroke="#7a7a7a" stroke-width="1.0"/>
<line x1="408.00" y1="172.00" x2="409.00" y2="172.00" stroke="#555" stroke-width="0.5"/>
<text x="407.50" y="173.40" font-size="3.9" text-anchor="end" fill="#111" stroke="#111" stroke-width="0.22">8</text>
<line x1="408.00" y1="196.90" x2="409.00" y2="196.90" stroke="#555" stroke-width="0.5"/>
<text x="407.50" y="198.30" font-size="3.9" text-anchor="end" fill="#111" stroke="#111" stroke-width="0.22">7</text>
<line x1="408.00" y1="222.30" x2="409.00" y2="222.30" stroke="#555" stroke-width="0.5"/>
<text x="407.50" y="223.70" font-size="3.9" text-anchor="end" fill="#111" stroke="#111" stroke-width="0.22">6</text>
<line x1="408.00" y1="247.30" x2="409.00" y2="247.30" stroke="#555" stroke-width="0.5"/>
<text x="407.50" y="248.70" font-size="3.9" text-anchor="end" fill="#111" stroke="#111" stroke-width="0.22">5</text>
<line x1="424.30" y1="266.50" x2="424.30" y2="267.50" stroke="#555" stroke-width="0.5"/>
<text x="424.30" y="271.04" font-size="4.0" text-anchor="middle" fill="#111" stroke="#111" stroke-width="0.2">PRT1</text>
<line x1="450.20" y1="266.50" x2="450.20" y2="267.50" stroke="#555" stroke-width="0.5"/>
<text x="450.20" y="271.04" font-size="4.0" text-anchor="middle" fill="#111" stroke="#111" stroke-width="0.2">PRT2</text>
<line x1="475.90" y1="266.50" x2="475.90" y2="267.50" stroke="#555" stroke-width="0.5"/>
<text x="475.90" y="271.04" font-size="4.0" text-anchor="middle" fill="#111" stroke="#111" stroke-width="0.2">PRT3</text>
<text x="450.50" y="276.97" font-size="5.2" text-anchor="middle" fill="#111" stroke="#111" stroke-width="0.18">Group</text>
<text x="403.10" y="219.00" font-size="4.4" text-anchor="middle" fill="#000" stroke="#000" stroke-width="0.15" font-weight="bold" transform="rotate(-90 403.10 219.00)">NPX</text>
<text x="450.30" y="165.73" font-size="4.8" text-anchor="middle" fill="#000" stroke="#000" stroke-width="0.18" font-weight="bold">CRTAM OID00766</text>
<text x="410.60" y="170.69" font-size="3.85" text-anchor="start" fill="#111" stroke="#111" stroke-width="0.18">ANOVA, p = 0.006417</text>
<path d="M424.40 178.40V176.60H476.00V178.40" fill="none" stroke="#222" stroke-width="0.45"/>
<text x="450.20" y="176.07" font-size="3.8" text-anchor="middle" fill="#111" stroke="#111" stroke-width="0.18">p.adj = 0.006791</text>
<line x1="424.30" y1="226.20" x2="424.30" y2="240.20" stroke="#222" stroke-width="0.5"/>
<line x1="424.30" y1="250.90" x2="424.30" y2="261.40" stroke="#222" stroke-width="0.5"/>
<rect x="416.80" y="240.20" width="15.00" height="10.70" fill="#D4601C" stroke="#333" stroke-width="0.4"/>
<line x1="416.80" y1="243.50" x2="431.80" y2="243.50" stroke="#222" stroke-width="0.9"/>
<line x1="450.20" y1="213.80" x2="450.20" y2="229.10" stroke="#222" stroke-width="0.5"/>
<line x1="450.20" y1="240.70" x2="450.20" y2="256.70" stroke="#222" stroke-width="0.5"/>
<rect x="442.70" y="229.10" width="15.00" height="11.60" fill="#3A7AB8" stroke="#333" stroke-width="0.4"/>
<line x1="442.70" y1="236.00" x2="457.70" y2="236.00" stroke="#222" stroke-width="0.9"/>
<line x1="475.90" y1="226.30" x2="475.90" y2="227.00" stroke="#222" stroke-width="0.5"/>
<line x1="475.90" y1="235.60" x2="475.90" y2="241.30" stroke="#222" stroke-width="0.5"/>
<rect x="468.40" y="227.00" width="15.00" height="8.60" fill="#42A877" stroke="#333" stroke-width="0.4"/>
<line x1="468.40" y1="230.90" x2="483.40" y2="230.90" stroke="#222" stroke-width="0.9"/>
<circle cx="425.69" cy="226.20" r="0.75" fill="#000"/>
<circle cx="425.47" cy="261.40" r="0.75" fill="#000"/>
<circle cx="424.45" cy="241.30" r="0.75" fill="#000"/>
<circle cx="423.66" cy="241.86" r="0.75" fill="#000"/>
<circle cx="425.61" cy="244.50" r="0.75" fill="#000"/>
<circle cx="424.53" cy="259.30" r="0.75" fill="#000"/>
<circle cx="425.52" cy="253.23" r="0.75" fill="#000"/>
<circle cx="425.41" cy="230.07" r="0.75" fill="#000"/>
<circle cx="424.33" cy="241.34" r="0.75" fill="#000"/>
<circle cx="424.02" cy="250.12" r="0.75" fill="#000"/>
<circle cx="424.62" cy="259.37" r="0.75" fill="#000"/>
<circle cx="424.08" cy="252.93" r="0.75" fill="#000"/>
<circle cx="423.22" cy="246.91" r="0.75" fill="#000"/>
<circle cx="423.68" cy="238.17" r="0.75" fill="#000"/>
<circle cx="425.30" cy="251.81" r="0.75" fill="#000"/>
<circle cx="422.84" cy="235.60" r="0.75" fill="#000"/>
<circle cx="422.85" cy="228.69" r="0.75" fill="#000"/>
<circle cx="424.70" cy="241.16" r="0.75" fill="#000"/>
<circle cx="451.69" cy="213.80" r="0.75" fill="#000"/>
<circle cx="451.08" cy="256.70" r="0.75" fill="#000"/>
<circle cx="449.91" cy="235.30" r="0.75" fill="#000"/>
<circle cx="451.62" cy="233.08" r="0.75" fill="#000"/>
<circle cx="450.59" cy="243.83" r="0.75" fill="#000"/>
<circle cx="451.22" cy="231.45" r="0.75" fill="#000"/>
<circle cx="449.54" cy="218.03" r="0.75" fill="#000"/>
<circle cx="449.21" cy="237.76" r="0.75" fill="#000"/>
<circle cx="450.02" cy="235.58" r="0.75" fill="#000"/>
<circle cx="449.04" cy="242.32" r="0.75" fill="#000"/>
<circle cx="449.82" cy="231.75" r="0.75" fill="#000"/>
<circle cx="451.68" cy="250.55" r="0.75" fill="#000"/>
<circle cx="449.66" cy="232.94" r="0.75" fill="#000"/>
<circle cx="448.63" cy="234.42" r="0.75" fill="#000"/>
<circle cx="448.74" cy="237.19" r="0.75" fill="#000"/>
<circle cx="449.14" cy="255.98" r="0.75" fill="#000"/>
<circle cx="451.11" cy="228.49" r="0.75" fill="#000"/>
<circle cx="449.76" cy="232.45" r="0.75" fill="#000"/>
<circle cx="449.86" cy="263.30" r="0.75" fill="#000"/>
<circle cx="449.56" cy="195.00" r="0.75" fill="#000"/>
<circle cx="477.46" cy="226.30" r="0.75" fill="#000"/>
<circle cx="475.83" cy="241.30" r="0.75" fill="#000"/>
<circle cx="475.07" cy="238.02" r="0.75" fill="#000"/>
<circle cx="475.61" cy="227.51" r="0.75" fill="#000"/>
<circle cx="474.42" cy="228.45" r="0.75" fill="#000"/>
<circle cx="475.65" cy="226.40" r="0.75" fill="#000"/>
<circle cx="475.10" cy="231.22" r="0.75" fill="#000"/>
<circle cx="477.15" cy="235.58" r="0.75" fill="#000"/>
<circle cx="476.96" cy="231.55" r="0.75" fill="#000"/>
<circle cx="475.90" cy="237.93" r="0.75" fill="#000"/>
<circle cx="475.15" cy="188.20" r="0.75" fill="#000"/>
<text x="497.00" y="209.00" font-size="5.0" text-anchor="start" fill="#000" stroke="#000" stroke-width="0.18">Group</text>
<line x1="499.45" y1="212.20" x2="499.45" y2="216.60" stroke="#666" stroke-width="0.3"/>
<rect x="497.10" y="212.80" width="4.80" height="3.20" fill="#D4601C" stroke="#444" stroke-width="0.25"/>
<text x="505.20" y="215.77" font-size="3.8" text-anchor="start" fill="#111" stroke="#111" stroke-width="0.18">PRT1</text>
<line x1="499.45" y1="218.10" x2="499.45" y2="222.50" stroke="#666" stroke-width="0.3"/>
<rect x="497.10" y="218.70" width="4.80" height="3.20" fill="#3A7AB8" stroke="#444" stroke-width="0.25"/>
<text x="505.20" y="221.67" font-size="3.8" text-anchor="start" fill="#111" stroke="#111" stroke-width="0.18">PRT2</text>
<line x1="499.45" y1="224.00" x2="499.45" y2="228.40" stroke="#666" stroke-width="0.3"/>
<rect x="497.10" y="224.60" width="4.80" height="3.20" fill="#42A877" stroke="#444" stroke-width="0.25"/>
<text x="505.20" y="227.57" font-size="3.8" text-anchor="start" fill="#111" stroke="#111" stroke-width="0.18">PRT3</text>
<line x1="530.80" y1="166.30" x2="530.80" y2="264.20" stroke="#7a7a7a" stroke-width="1.0"/>
<line x1="530.30" y1="264.20" x2="611.70" y2="264.20" stroke="#7a7a7a" stroke-width="1.0"/>
<line x1="529.80" y1="188.40" x2="530.80" y2="188.40" stroke="#555" stroke-width="0.5"/>
<text x="529.30" y="189.80" font-size="3.9" text-anchor="end" fill="#111" stroke="#111" stroke-width="0.22">6</text>
<line x1="529.80" y1="213.70" x2="530.80" y2="213.70" stroke="#555" stroke-width="0.5"/>
<text x="529.30" y="215.10" font-size="3.9" text-anchor="end" fill="#111" stroke="#111" stroke-width="0.22">5</text>
<line x1="529.80" y1="239.40" x2="530.80" y2="239.40" stroke="#555" stroke-width="0.5"/>
<text x="529.30" y="240.80" font-size="3.9" text-anchor="end" fill="#111" stroke="#111" stroke-width="0.22">4</text>
<line x1="546.20" y1="264.20" x2="546.20" y2="265.20" stroke="#555" stroke-width="0.5"/>
<text x="546.20" y="268.54" font-size="4.0" text-anchor="middle" fill="#111" stroke="#111" stroke-width="0.2">PRT1</text>
<line x1="571.60" y1="264.20" x2="571.60" y2="265.20" stroke="#555" stroke-width="0.5"/>
<text x="571.60" y="268.54" font-size="4.0" text-anchor="middle" fill="#111" stroke="#111" stroke-width="0.2">PRT2</text>
<line x1="597.10" y1="264.20" x2="597.10" y2="265.20" stroke="#555" stroke-width="0.5"/>
<text x="597.10" y="268.54" font-size="4.0" text-anchor="middle" fill="#111" stroke="#111" stroke-width="0.2">PRT3</text>
<text x="571.70" y="273.67" font-size="5.2" text-anchor="middle" fill="#111" stroke="#111" stroke-width="0.18">Group</text>
<text x="524.30" y="216.30" font-size="4.4" text-anchor="middle" fill="#000" stroke="#000" stroke-width="0.15" font-weight="bold" transform="rotate(-90 524.30 216.30)">NPX</text>
<text x="571.50" y="164.73" font-size="4.8" text-anchor="middle" fill="#000" stroke="#000" stroke-width="0.18" font-weight="bold">ADA OID00775</text>
<text x="531.80" y="169.49" font-size="3.85" text-anchor="start" fill="#111" stroke="#111" stroke-width="0.18">ANOVA, p = 0.007663</text>
<path d="M546.10 177.20V175.40H597.10V177.20" fill="none" stroke="#222" stroke-width="0.45"/>
<text x="571.60" y="174.87" font-size="3.8" text-anchor="middle" fill="#111" stroke="#111" stroke-width="0.18">p.adj = 0.045916</text>
<path d="M546.10 186.00V184.20H571.50V186.00" fill="none" stroke="#222" stroke-width="0.45"/>
<text x="558.80" y="183.67" font-size="3.8" text-anchor="middle" fill="#111" stroke="#111" stroke-width="0.18">p.adj = 0.011040</text>
<line x1="546.20" y1="216.70" x2="546.20" y2="232.80" stroke="#222" stroke-width="0.5"/>
<line x1="546.20" y1="244.10" x2="546.20" y2="250.10" stroke="#222" stroke-width="0.5"/>
<rect x="538.70" y="232.80" width="15.00" height="11.30" fill="#D4601C" stroke="#333" stroke-width="0.4"/>
<line x1="538.70" y1="239.40" x2="553.70" y2="239.40" stroke="#222" stroke-width="0.9"/>
<line x1="571.60" y1="210.60" x2="571.60" y2="225.30" stroke="#222" stroke-width="0.5"/>
<line x1="571.60" y1="233.60" x2="571.60" y2="243.00" stroke="#222" stroke-width="0.5"/>
<rect x="564.10" y="225.30" width="15.00" height="8.30" fill="#3A7AB8" stroke="#333" stroke-width="0.4"/>
<line x1="564.10" y1="228.50" x2="579.10" y2="228.50" stroke="#222" stroke-width="0.9"/>
<line x1="597.10" y1="226.60" x2="597.10" y2="228.50" stroke="#222" stroke-width="0.5"/>
<line x1="597.10" y1="233.80" x2="597.10" y2="241.30" stroke="#222" stroke-width="0.5"/>
<rect x="589.60" y="228.50" width="15.00" height="5.30" fill="#42A877" stroke="#333" stroke-width="0.4"/>
<line x1="589.60" y1="231.70" x2="604.60" y2="231.70" stroke="#222" stroke-width="0.9"/>
<circle cx="545.53" cy="216.70" r="0.75" fill="#000"/>
<circle cx="547.68" cy="250.10" r="0.75" fill="#000"/>
<circle cx="546.33" cy="228.64" r="0.75" fill="#000"/>
<circle cx="546.77" cy="249.75" r="0.75" fill="#000"/>
<circle cx="545.26" cy="231.55" r="0.75" fill="#000"/>
<circle cx="547.61" cy="238.06" r="0.75" fill="#000"/>
<circle cx="546.81" cy="247.99" r="0.75" fill="#000"/>
<circle cx="547.69" cy="244.78" r="0.75" fill="#000"/>
<circle cx="547.46" cy="235.59" r="0.75" fill="#000"/>
<circle cx="545.56" cy="225.94" r="0.75" fill="#000"/>
<circle cx="545.76" cy="235.25" r="0.75" fill="#000"/>
<circle cx="545.13" cy="243.15" r="0.75" fill="#000"/>
<circle cx="545.07" cy="245.06" r="0.75" fill="#000"/>
<circle cx="544.81" cy="244.93" r="0.75" fill="#000"/>
<circle cx="545.56" cy="218.74" r="0.75" fill="#000"/>
<circle cx="546.53" cy="242.65" r="0.75" fill="#000"/>
<circle cx="544.61" cy="235.23" r="0.75" fill="#000"/>
<circle cx="546.77" cy="249.33" r="0.75" fill="#000"/>
<circle cx="570.12" cy="210.60" r="0.75" fill="#000"/>
<circle cx="573.03" cy="243.00" r="0.75" fill="#000"/>
<circle cx="570.29" cy="227.87" r="0.75" fill="#000"/>
<circle cx="571.09" cy="238.12" r="0.75" fill="#000"/>
<circle cx="571.95" cy="229.29" r="0.75" fill="#000"/>
<circle cx="572.94" cy="211.44" r="0.75" fill="#000"/>
<circle cx="571.09" cy="233.81" r="0.75" fill="#000"/>
<circle cx="572.96" cy="223.02" r="0.75" fill="#000"/>
<circle cx="571.74" cy="231.84" r="0.75" fill="#000"/>
<circle cx="571.00" cy="230.10" r="0.75" fill="#000"/>
<circle cx="571.01" cy="225.69" r="0.75" fill="#000"/>
<circle cx="570.57" cy="233.23" r="0.75" fill="#000"/>
<circle cx="570.25" cy="231.57" r="0.75" fill="#000"/>
<circle cx="570.48" cy="242.46" r="0.75" fill="#000"/>
<circle cx="572.21" cy="228.24" r="0.75" fill="#000"/>
<circle cx="573.19" cy="222.00" r="0.75" fill="#000"/>
<circle cx="570.52" cy="231.51" r="0.75" fill="#000"/>
<circle cx="570.16" cy="241.68" r="0.75" fill="#000"/>
<circle cx="597.52" cy="226.60" r="0.75" fill="#000"/>
<circle cx="598.02" cy="241.30" r="0.75" fill="#000"/>
<circle cx="595.84" cy="237.80" r="0.75" fill="#000"/>
<circle cx="596.89" cy="229.76" r="0.75" fill="#000"/>
<circle cx="595.98" cy="228.17" r="0.75" fill="#000"/>
<circle cx="598.20" cy="230.74" r="0.75" fill="#000"/>
<circle cx="596.44" cy="233.36" r="0.75" fill="#000"/>
<circle cx="596.95" cy="231.12" r="0.75" fill="#000"/>
<circle cx="598.70" cy="234.78" r="0.75" fill="#000"/>
<circle cx="598.23" cy="228.40" r="0.75" fill="#000"/>
<circle cx="597.86" cy="194.20" r="0.75" fill="#000"/>
<text x="618.00" y="207.60" font-size="5.0" text-anchor="start" fill="#000" stroke="#000" stroke-width="0.18">Group</text>
<line x1="620.45" y1="210.80" x2="620.45" y2="215.20" stroke="#666" stroke-width="0.3"/>
<rect x="618.10" y="211.40" width="4.80" height="3.20" fill="#D4601C" stroke="#444" stroke-width="0.25"/>
<text x="626.20" y="214.37" font-size="3.8" text-anchor="start" fill="#111" stroke="#111" stroke-width="0.18">PRT1</text>
<line x1="620.45" y1="216.70" x2="620.45" y2="221.10" stroke="#666" stroke-width="0.3"/>
<rect x="618.10" y="217.30" width="4.80" height="3.20" fill="#3A7AB8" stroke="#444" stroke-width="0.25"/>
<text x="626.20" y="220.27" font-size="3.8" text-anchor="start" fill="#111" stroke="#111" stroke-width="0.18">PRT2</text>
<line x1="620.45" y1="222.60" x2="620.45" y2="227.00" stroke="#666" stroke-width="0.3"/>
<rect x="618.10" y="223.20" width="4.80" height="3.20" fill="#42A877" stroke="#444" stroke-width="0.25"/>
<text x="626.20" y="226.17" font-size="3.8" text-anchor="start" fill="#111" stroke="#111" stroke-width="0.18">PRT3</text>
<line x1="38.80" y1="311.50" x2="38.80" y2="413.50" stroke="#7a7a7a" stroke-width="1.0"/>
<line x1="38.30" y1="413.50" x2="113.80" y2="413.50" stroke="#7a7a7a" stroke-width="1.0"/>
<line x1="37.80" y1="330.00" x2="38.80" y2="330.00" stroke="#555" stroke-width="0.5"/>
<text x="37.30" y="331.40" font-size="3.9" text-anchor="end" fill="#111" stroke="#111" stroke-width="0.22">12</text>
<line x1="37.80" y1="357.30" x2="38.80" y2="357.30" stroke="#555" stroke-width="0.5"/>
<text x="37.30" y="358.70" font-size="3.9" text-anchor="end" fill="#111" stroke="#111" stroke-width="0.22">9</text>
<line x1="37.80" y1="384.80" x2="38.80" y2="384.80" stroke="#555" stroke-width="0.5"/>
<text x="37.30" y="386.20" font-size="3.9" text-anchor="end" fill="#111" stroke="#111" stroke-width="0.22">6</text>
<line x1="37.80" y1="412.40" x2="38.80" y2="412.40" stroke="#555" stroke-width="0.5"/>
<text x="37.30" y="413.80" font-size="3.9" text-anchor="end" fill="#111" stroke="#111" stroke-width="0.22">3</text>
<line x1="53.20" y1="413.50" x2="53.20" y2="414.50" stroke="#555" stroke-width="0.5"/>
<text x="53.20" y="418.98" font-size="4.1" text-anchor="middle" fill="#111" stroke="#111" stroke-width="0.2">SD_PDT1</text>
<line x1="76.50" y1="413.50" x2="76.50" y2="414.50" stroke="#555" stroke-width="0.5"/>
<text x="76.50" y="418.98" font-size="4.1" text-anchor="middle" fill="#111" stroke="#111" stroke-width="0.2">SD_PDT2</text>
<line x1="99.80" y1="413.50" x2="99.80" y2="414.50" stroke="#555" stroke-width="0.5"/>
<text x="99.80" y="418.98" font-size="4.1" text-anchor="middle" fill="#111" stroke="#111" stroke-width="0.2">SD_PDT3</text>
<text x="76.60" y="424.47" font-size="5.2" text-anchor="middle" fill="#111" stroke="#111" stroke-width="0.18">Group</text>
<text x="30.00" y="362.00" font-size="4.4" text-anchor="middle" fill="#000" stroke="#000" stroke-width="0.15" font-weight="bold" transform="rotate(-90 30.00 362.00)">NPX</text>
<text x="76.20" y="309.03" font-size="4.8" text-anchor="middle" fill="#000" stroke="#000" stroke-width="0.18" font-weight="bold">PDCD1 OID00791</text>
<text x="40.80" y="313.99" font-size="3.85" text-anchor="start" fill="#111" stroke="#111" stroke-width="0.18">ANOVA, p = 1.73e-08</text>
<path d="M53.20 321.70V319.90H99.80V321.70" fill="none" stroke="#222" stroke-width="0.45"/>
<text x="76.50" y="319.37" font-size="3.8" text-anchor="middle" fill="#111" stroke="#111" stroke-width="0.18">p.adj = 0.000012</text>
<path d="M53.20 331.20V329.40H76.30V331.20" fill="none" stroke="#222" stroke-width="0.45"/>
<text x="64.75" y="328.87" font-size="3.8" text-anchor="middle" fill="#111" stroke="#111" stroke-width="0.18">p.adj = 0.000000</text>
<line x1="53.20" y1="368.50" x2="53.20" y2="371.60" stroke="#222" stroke-width="0.5"/>
<line x1="53.20" y1="377.40" x2="53.20" y2="380.20" stroke="#222" stroke-width="0.5"/>
<rect x="46.20" y="371.60" width="14.00" height="5.80" fill="#D4601C" stroke="#333" stroke-width="0.4"/>
<line x1="46.20" y1="376.30" x2="60.20" y2="376.30" stroke="#222" stroke-width="0.9"/>
<line x1="76.50" y1="342.90" x2="76.50" y2="346.00" stroke="#222" stroke-width="0.5"/>
<line x1="76.50" y1="356.40" x2="76.50" y2="362.00" stroke="#222" stroke-width="0.5"/>
<rect x="69.50" y="346.00" width="14.00" height="10.40" fill="#3A7AB8" stroke="#333" stroke-width="0.4"/>
<line x1="69.50" y1="352.30" x2="83.50" y2="352.30" stroke="#222" stroke-width="0.9"/>
<line x1="99.80" y1="340.00" x2="99.80" y2="344.50" stroke="#222" stroke-width="0.5"/>
<line x1="99.80" y1="353.00" x2="99.80" y2="362.00" stroke="#222" stroke-width="0.5"/>
<rect x="92.80" y="344.50" width="14.00" height="8.50" fill="#42A877" stroke="#333" stroke-width="0.4"/>
<line x1="92.80" y1="349.20" x2="106.80" y2="349.20" stroke="#222" stroke-width="0.9"/>
<circle cx="53.63" cy="368.50" r="0.75" fill="#000"/>
<circle cx="52.53" cy="380.20" r="0.75" fill="#000"/>
<circle cx="54.64" cy="379.70" r="0.75" fill="#000"/>
<circle cx="53.48" cy="373.12" r="0.75" fill="#000"/>
<circle cx="52.24" cy="375.44" r="0.75" fill="#000"/>
<circle cx="53.70" cy="376.01" r="0.75" fill="#000"/>
<circle cx="52.75" cy="376.07" r="0.75" fill="#000"/>
<circle cx="54.58" cy="376.25" r="0.75" fill="#000"/>
<circle cx="54.51" cy="369.78" r="0.75" fill="#000"/>
<circle cx="53.25" cy="370.61" r="0.75" fill="#000"/>
<circle cx="53.66" cy="374.81" r="0.75" fill="#000"/>
<circle cx="53.83" cy="378.14" r="0.75" fill="#000"/>
<circle cx="54.18" cy="379.32" r="0.75" fill="#000"/>
<circle cx="54.72" cy="378.34" r="0.75" fill="#000"/>
<circle cx="51.69" cy="376.24" r="0.75" fill="#000"/>
<circle cx="52.76" cy="378.65" r="0.75" fill="#000"/>
<circle cx="53.53" cy="372.74" r="0.75" fill="#000"/>
<circle cx="52.89" cy="353.20" r="0.75" fill="#000"/>
<circle cx="77.29" cy="342.90" r="0.75" fill="#000"/>
<circle cx="76.17" cy="362.00" r="0.75" fill="#000"/>
<circle cx="78.04" cy="343.18" r="0.75" fill="#000"/>
<circle cx="75.68" cy="359.34" r="0.75" fill="#000"/>
<circle cx="78.03" cy="352.89" r="0.75" fill="#000"/>
<circle cx="77.76" cy="348.04" r="0.75" fill="#000"/>
<circle cx="77.04" cy="347.44" r="0.75" fill="#000"/>
<circle cx="77.75" cy="355.00" r="0.75" fill="#000"/>
<circle cx="76.33" cy="342.94" r="0.75" fill="#000"/>
<circle cx="77.56" cy="356.50" r="0.75" fill="#000"/>
<circle cx="77.45" cy="355.41" r="0.75" fill="#000"/>
<circle cx="76.55" cy="343.85" r="0.75" fill="#000"/>
<circle cx="76.41" cy="350.05" r="0.75" fill="#000"/>
<circle cx="77.16" cy="356.40" r="0.75" fill="#000"/>
<circle cx="76.21" cy="350.40" r="0.75" fill="#000"/>
<circle cx="98.27" cy="340.00" r="0.75" fill="#000"/>
<circle cx="98.60" cy="362.00" r="0.75" fill="#000"/>
<circle cx="100.09" cy="350.85" r="0.75" fill="#000"/>
<circle cx="99.36" cy="348.65" r="0.75" fill="#000"/>
<circle cx="99.02" cy="354.55" r="0.75" fill="#000"/>
<text x="119.90" y="354.30" font-size="5.0" text-anchor="start" fill="#000" stroke="#000" stroke-width="0.18">Group</text>
<line x1="122.35" y1="357.95" x2="122.35" y2="362.35" stroke="#666" stroke-width="0.3"/>
<rect x="120.00" y="358.55" width="4.80" height="3.20" fill="#D4601C" stroke="#444" stroke-width="0.25"/>
<text x="128.10" y="361.70" font-size="4.3" text-anchor="start" fill="#111" stroke="#111" stroke-width="0.18">SD_PDT1</text>
<line x1="122.35" y1="363.80" x2="122.35" y2="368.20" stroke="#666" stroke-width="0.3"/>
<rect x="120.00" y="364.40" width="4.80" height="3.20" fill="#3A7AB8" stroke="#444" stroke-width="0.25"/>
<text x="128.10" y="367.55" font-size="4.3" text-anchor="start" fill="#111" stroke="#111" stroke-width="0.18">SD_PDT2</text>
<line x1="122.35" y1="369.65" x2="122.35" y2="374.05" stroke="#666" stroke-width="0.3"/>
<rect x="120.00" y="370.25" width="4.80" height="3.20" fill="#42A877" stroke="#444" stroke-width="0.25"/>
<text x="128.10" y="373.40" font-size="4.3" text-anchor="start" fill="#111" stroke="#111" stroke-width="0.18">SD_PDT3</text>
<line x1="159.40" y1="311.20" x2="159.40" y2="412.30" stroke="#7a7a7a" stroke-width="1.0"/>
<line x1="158.90" y1="412.30" x2="235.90" y2="412.30" stroke="#7a7a7a" stroke-width="1.0"/>
<line x1="158.40" y1="313.30" x2="159.40" y2="313.30" stroke="#555" stroke-width="0.5"/>
<text x="157.90" y="314.70" font-size="3.9" text-anchor="end" fill="#111" stroke="#111" stroke-width="0.22">8</text>
<line x1="158.40" y1="344.20" x2="159.40" y2="344.20" stroke="#555" stroke-width="0.5"/>
<text x="157.90" y="345.60" font-size="3.9" text-anchor="end" fill="#111" stroke="#111" stroke-width="0.22">6</text>
<line x1="158.40" y1="375.40" x2="159.40" y2="375.40" stroke="#555" stroke-width="0.5"/>
<text x="157.90" y="376.80" font-size="3.9" text-anchor="end" fill="#111" stroke="#111" stroke-width="0.22">4</text>
<line x1="158.40" y1="405.70" x2="159.40" y2="405.70" stroke="#555" stroke-width="0.5"/>
<text x="157.90" y="407.10" font-size="3.9" text-anchor="end" fill="#111" stroke="#111" stroke-width="0.22">2</text>
<line x1="173.70" y1="412.30" x2="173.70" y2="413.30" stroke="#555" stroke-width="0.5"/>
<text x="173.70" y="417.38" font-size="4.1" text-anchor="middle" fill="#111" stroke="#111" stroke-width="0.2">SD_PDT1</text>
<line x1="197.80" y1="412.30" x2="197.80" y2="413.30" stroke="#555" stroke-width="0.5"/>
<text x="197.80" y="417.38" font-size="4.1" text-anchor="middle" fill="#111" stroke="#111" stroke-width="0.2">SD_PDT2</text>
<line x1="221.70" y1="412.30" x2="221.70" y2="413.30" stroke="#555" stroke-width="0.5"/>
<text x="221.70" y="417.38" font-size="4.1" text-anchor="middle" fill="#111" stroke="#111" stroke-width="0.2">SD_PDT3</text>
<text x="197.90" y="422.77" font-size="5.2" text-anchor="middle" fill="#111" stroke="#111" stroke-width="0.18">Group</text>
<text x="153.30" y="361.10" font-size="4.4" text-anchor="middle" fill="#000" stroke="#000" stroke-width="0.15" font-weight="bold" transform="rotate(-90 153.30 361.10)">NPX</text>
<text x="197.70" y="309.03" font-size="4.8" text-anchor="middle" fill="#000" stroke="#000" stroke-width="0.18" font-weight="bold">IL10 OID00909</text>
<text x="161.00" y="314.39" font-size="3.85" text-anchor="start" fill="#111" stroke="#111" stroke-width="0.18">ANOVA, p = 0.000483</text>
<path d="M173.70 322.20V320.40H197.60V322.20" fill="none" stroke="#222" stroke-width="0.45"/>
<text x="185.65" y="319.87" font-size="3.8" text-anchor="middle" fill="#111" stroke="#111" stroke-width="0.18">p.adj = 0.001818</text>
<line x1="173.70" y1="385.50" x2="173.70" y2="390.10" stroke="#222" stroke-width="0.5"/>
<line x1="173.70" y1="400.60" x2="173.70" y2="410.70" stroke="#222" stroke-width="0.5"/>
<rect x="166.70" y="390.10" width="14.00" height="10.50" fill="#D4601C" stroke="#333" stroke-width="0.4"/>
<line x1="166.70" y1="398.40" x2="180.70" y2="398.40" stroke="#222" stroke-width="0.9"/>
<line x1="197.80" y1="351.10" x2="197.80" y2="371.90" stroke="#222" stroke-width="0.5"/>
<line x1="197.80" y1="386.90" x2="197.80" y2="393.50" stroke="#222" stroke-width="0.5"/>
<rect x="190.80" y="371.90" width="14.00" height="15.00" fill="#3A7AB8" stroke="#333" stroke-width="0.4"/>
<line x1="190.80" y1="383.40" x2="204.80" y2="383.40" stroke="#222" stroke-width="0.9"/>
<line x1="221.70" y1="368.90" x2="221.70" y2="371.90" stroke="#222" stroke-width="0.5"/>
<line x1="221.70" y1="395.60" x2="221.70" y2="398.00" stroke="#222" stroke-width="0.5"/>
<rect x="214.70" y="371.90" width="14.00" height="23.70" fill="#42A877" stroke="#333" stroke-width="0.4"/>
<line x1="214.70" y1="380.00" x2="228.70" y2="380.00" stroke="#222" stroke-width="0.9"/>
<circle cx="174.14" cy="385.50" r="0.75" fill="#000"/>
<circle cx="173.29" cy="410.70" r="0.75" fill="#000"/>
<circle cx="173.85" cy="391.68" r="0.75" fill="#000"/>
<circle cx="172.30" cy="385.83" r="0.75" fill="#000"/>
<circle cx="172.29" cy="387.18" r="0.75" fill="#000"/>
<circle cx="172.76" cy="395.43" r="0.75" fill="#000"/>
<circle cx="174.28" cy="394.65" r="0.75" fill="#000"/>
<circle cx="173.47" cy="391.05" r="0.75" fill="#000"/>
<circle cx="173.11" cy="398.78" r="0.75" fill="#000"/>
<circle cx="173.97" cy="392.44" r="0.75" fill="#000"/>
<circle cx="173.55" cy="389.86" r="0.75" fill="#000"/>
<circle cx="173.06" cy="387.32" r="0.75" fill="#000"/>
<circle cx="174.64" cy="401.07" r="0.75" fill="#000"/>
<circle cx="174.34" cy="403.53" r="0.75" fill="#000"/>
<circle cx="172.88" cy="391.34" r="0.75" fill="#000"/>
<circle cx="173.94" cy="398.67" r="0.75" fill="#000"/>
<circle cx="173.78" cy="396.21" r="0.75" fill="#000"/>
<circle cx="174.30" cy="354.50" r="0.75" fill="#000"/>
<circle cx="198.83" cy="351.10" r="0.75" fill="#000"/>
<circle cx="197.11" cy="393.50" r="0.75" fill="#000"/>
<circle cx="197.43" cy="357.09" r="0.75" fill="#000"/>
<circle cx="198.34" cy="387.68" r="0.75" fill="#000"/>
<circle cx="196.27" cy="383.26" r="0.75" fill="#000"/>
<circle cx="197.68" cy="379.23" r="0.75" fill="#000"/>
<circle cx="196.74" cy="381.92" r="0.75" fill="#000"/>
<circle cx="196.57" cy="390.68" r="0.75" fill="#000"/>
<circle cx="196.39" cy="388.97" r="0.75" fill="#000"/>
<circle cx="198.66" cy="363.46" r="0.75" fill="#000"/>
<circle cx="196.61" cy="360.59" r="0.75" fill="#000"/>
<circle cx="196.99" cy="393.13" r="0.75" fill="#000"/>
<circle cx="197.45" cy="381.86" r="0.75" fill="#000"/>
<circle cx="198.99" cy="382.42" r="0.75" fill="#000"/>
<circle cx="196.46" cy="371.76" r="0.75" fill="#000"/>
<circle cx="197.72" cy="332.30" r="0.75" fill="#000"/>
<circle cx="221.25" cy="368.90" r="0.75" fill="#000"/>
<circle cx="222.93" cy="398.00" r="0.75" fill="#000"/>
<circle cx="223.16" cy="371.55" r="0.75" fill="#000"/>
<circle cx="220.58" cy="397.67" r="0.75" fill="#000"/>
<circle cx="220.66" cy="381.74" r="0.75" fill="#000"/>
<text x="241.40" y="353.60" font-size="5.0" text-anchor="start" fill="#000" stroke="#000" stroke-width="0.18">Group</text>
<line x1="243.85" y1="357.25" x2="243.85" y2="361.65" stroke="#666" stroke-width="0.3"/>
<rect x="241.50" y="357.85" width="4.80" height="3.20" fill="#D4601C" stroke="#444" stroke-width="0.25"/>
<text x="249.60" y="361.00" font-size="4.3" text-anchor="start" fill="#111" stroke="#111" stroke-width="0.18">SD_PDT1</text>
<line x1="243.85" y1="363.00" x2="243.85" y2="367.40" stroke="#666" stroke-width="0.3"/>
<rect x="241.50" y="363.60" width="4.80" height="3.20" fill="#3A7AB8" stroke="#444" stroke-width="0.25"/>
<text x="249.60" y="366.75" font-size="4.3" text-anchor="start" fill="#111" stroke="#111" stroke-width="0.18">SD_PDT2</text>
<line x1="243.85" y1="368.75" x2="243.85" y2="373.15" stroke="#666" stroke-width="0.3"/>
<rect x="241.50" y="369.35" width="4.80" height="3.20" fill="#42A877" stroke="#444" stroke-width="0.25"/>
<text x="249.60" y="372.50" font-size="4.3" text-anchor="start" fill="#111" stroke="#111" stroke-width="0.18">SD_PDT3</text>
<line x1="286.80" y1="311.10" x2="286.80" y2="411.60" stroke="#7a7a7a" stroke-width="1.0"/>
<line x1="286.30" y1="411.60" x2="358.60" y2="411.60" stroke="#7a7a7a" stroke-width="1.0"/>
<line x1="285.80" y1="325.60" x2="286.80" y2="325.60" stroke="#555" stroke-width="0.5"/>
<text x="285.30" y="327.00" font-size="3.9" text-anchor="end" fill="#111" stroke="#111" stroke-width="0.22">6.0</text>
<line x1="285.80" y1="341.70" x2="286.80" y2="341.70" stroke="#555" stroke-width="0.5"/>
<text x="285.30" y="343.10" font-size="3.9" text-anchor="end" fill="#111" stroke="#111" stroke-width="0.22">5.5</text>
<line x1="285.80" y1="357.60" x2="286.80" y2="357.60" stroke="#555" stroke-width="0.5"/>
<text x="285.30" y="359.00" font-size="3.9" text-anchor="end" fill="#111" stroke="#111" stroke-width="0.22">5.0</text>
<line x1="285.80" y1="373.60" x2="286.80" y2="373.60" stroke="#555" stroke-width="0.5"/>
<text x="285.30" y="375.00" font-size="3.9" text-anchor="end" fill="#111" stroke="#111" stroke-width="0.22">4.5</text>
<line x1="285.80" y1="389.60" x2="286.80" y2="389.60" stroke="#555" stroke-width="0.5"/>
<text x="285.30" y="391.00" font-size="3.9" text-anchor="end" fill="#111" stroke="#111" stroke-width="0.22">4.0</text>
<line x1="285.80" y1="405.70" x2="286.80" y2="405.70" stroke="#555" stroke-width="0.5"/>
<text x="285.30" y="407.10" font-size="3.9" text-anchor="end" fill="#111" stroke="#111" stroke-width="0.22">3.5</text>
<line x1="300.50" y1="411.60" x2="300.50" y2="412.60" stroke="#555" stroke-width="0.5"/>
<text x="300.50" y="416.18" font-size="4.1" text-anchor="middle" fill="#111" stroke="#111" stroke-width="0.2">SD_PDT1</text>
<line x1="323.00" y1="411.60" x2="323.00" y2="412.60" stroke="#555" stroke-width="0.5"/>
<text x="323.00" y="416.18" font-size="4.1" text-anchor="middle" fill="#111" stroke="#111" stroke-width="0.2">SD_PDT2</text>
<line x1="345.70" y1="411.60" x2="345.70" y2="412.60" stroke="#555" stroke-width="0.5"/>
<text x="345.70" y="416.18" font-size="4.1" text-anchor="middle" fill="#111" stroke="#111" stroke-width="0.2">SD_PDT3</text>
<text x="323.00" y="421.97" font-size="5.2" text-anchor="middle" fill="#111" stroke="#111" stroke-width="0.18">Group</text>
<text x="276.90" y="360.80" font-size="4.4" text-anchor="middle" fill="#000" stroke="#000" stroke-width="0.15" font-weight="bold" transform="rotate(-90 276.90 360.80)">NPX</text>
<text x="318.80" y="308.63" font-size="4.8" text-anchor="middle" fill="#000" stroke="#000" stroke-width="0.18" font-weight="bold">ADA OID00775</text>
<text x="287.80" y="313.59" font-size="3.85" text-anchor="start" fill="#111" stroke="#111" stroke-width="0.18">ANOVA, p = 0.008203</text>
<path d="M300.50 322.10V320.30H323.30V322.10" fill="none" stroke="#222" stroke-width="0.45"/>
<text x="311.90" y="319.77" font-size="3.8" text-anchor="middle" fill="#111" stroke="#111" stroke-width="0.18">p.adj = 0.004054</text>
<line x1="300.50" y1="362.50" x2="300.50" y2="382.10" stroke="#222" stroke-width="0.5"/>
<line x1="300.50" y1="395.20" x2="300.50" y2="411.60" stroke="#222" stroke-width="0.5"/>
<rect x="293.80" y="382.10" width="13.40" height="13.10" fill="#D4601C" stroke="#333" stroke-width="0.4"/>
<line x1="293.80" y1="389.60" x2="307.20" y2="389.60" stroke="#222" stroke-width="0.9"/>
<line x1="323.00" y1="331.00" x2="323.00" y2="366.40" stroke="#222" stroke-width="0.5"/>
<line x1="323.00" y1="386.60" x2="323.00" y2="392.90" stroke="#222" stroke-width="0.5"/>
<rect x="316.30" y="366.40" width="13.40" height="20.20" fill="#3A7AB8" stroke="#333" stroke-width="0.4"/>
<line x1="316.30" y1="373.20" x2="329.70" y2="373.20" stroke="#222" stroke-width="0.9"/>
<line x1="345.70" y1="363.40" x2="345.70" y2="371.10" stroke="#222" stroke-width="0.5"/>
<line x1="345.70" y1="382.50" x2="345.70" y2="389.60" stroke="#222" stroke-width="0.5"/>
<rect x="339.00" y="371.10" width="13.40" height="11.40" fill="#42A877" stroke="#333" stroke-width="0.4"/>
<line x1="339.00" y1="375.90" x2="352.40" y2="375.90" stroke="#222" stroke-width="0.9"/>
<circle cx="300.49" cy="362.50" r="0.75" fill="#000"/>
<circle cx="300.98" cy="411.60" r="0.75" fill="#000"/>
<circle cx="301.78" cy="394.71" r="0.75" fill="#000"/>
<circle cx="300.76" cy="391.33" r="0.75" fill="#000"/>
<circle cx="299.35" cy="385.34" r="0.75" fill="#000"/>
<circle cx="299.11" cy="398.63" r="0.75" fill="#000"/>
<circle cx="301.93" cy="371.50" r="0.75" fill="#000"/>
<circle cx="300.46" cy="388.58" r="0.75" fill="#000"/>
<circle cx="299.52" cy="392.98" r="0.75" fill="#000"/>
<circle cx="301.93" cy="385.17" r="0.75" fill="#000"/>
<circle cx="300.75" cy="385.59" r="0.75" fill="#000"/>
<circle cx="301.23" cy="393.92" r="0.75" fill="#000"/>
<circle cx="301.72" cy="383.59" r="0.75" fill="#000"/>
<circle cx="299.81" cy="395.09" r="0.75" fill="#000"/>
<circle cx="300.04" cy="390.22" r="0.75" fill="#000"/>
<circle cx="301.71" cy="390.76" r="0.75" fill="#000"/>
<circle cx="299.33" cy="391.16" r="0.75" fill="#000"/>
<circle cx="321.93" cy="331.00" r="0.75" fill="#000"/>
<circle cx="323.52" cy="392.90" r="0.75" fill="#000"/>
<circle cx="324.52" cy="387.21" r="0.75" fill="#000"/>
<circle cx="322.05" cy="355.86" r="0.75" fill="#000"/>
<circle cx="323.85" cy="391.91" r="0.75" fill="#000"/>
<circle cx="322.36" cy="338.00" r="0.75" fill="#000"/>
<circle cx="321.44" cy="377.08" r="0.75" fill="#000"/>
<circle cx="323.85" cy="333.53" r="0.75" fill="#000"/>
<circle cx="322.49" cy="389.80" r="0.75" fill="#000"/>
<circle cx="321.94" cy="338.79" r="0.75" fill="#000"/>
<circle cx="322.79" cy="366.64" r="0.75" fill="#000"/>
<circle cx="322.14" cy="371.79" r="0.75" fill="#000"/>
<circle cx="322.71" cy="374.01" r="0.75" fill="#000"/>
<circle cx="322.83" cy="392.22" r="0.75" fill="#000"/>
<circle cx="322.74" cy="374.40" r="0.75" fill="#000"/>
<circle cx="323.14" cy="337.00" r="0.75" fill="#000"/>
<circle cx="322.66" cy="345.30" r="0.75" fill="#000"/>
<circle cx="345.72" cy="363.40" r="0.75" fill="#000"/>
<circle cx="346.37" cy="389.60" r="0.75" fill="#000"/>
<circle cx="347.24" cy="372.07" r="0.75" fill="#000"/>
<circle cx="344.30" cy="377.04" r="0.75" fill="#000"/>
<circle cx="344.15" cy="380.31" r="0.75" fill="#000"/>
<text x="365.00" y="353.00" font-size="5.0" text-anchor="start" fill="#000" stroke="#000" stroke-width="0.18">Group</text>
<line x1="367.45" y1="356.65" x2="367.45" y2="361.05" stroke="#666" stroke-width="0.3"/>
<rect x="365.10" y="357.25" width="4.80" height="3.20" fill="#D4601C" stroke="#444" stroke-width="0.25"/>
<text x="373.20" y="360.40" font-size="4.3" text-anchor="start" fill="#111" stroke="#111" stroke-width="0.18">SD_PDT1</text>
<line x1="367.45" y1="362.40" x2="367.45" y2="366.80" stroke="#666" stroke-width="0.3"/>
<rect x="365.10" y="363.00" width="4.80" height="3.20" fill="#3A7AB8" stroke="#444" stroke-width="0.25"/>
<text x="373.20" y="366.15" font-size="4.3" text-anchor="start" fill="#111" stroke="#111" stroke-width="0.18">SD_PDT2</text>
<line x1="367.45" y1="368.15" x2="367.45" y2="372.55" stroke="#666" stroke-width="0.3"/>
<rect x="365.10" y="368.75" width="4.80" height="3.20" fill="#42A877" stroke="#444" stroke-width="0.25"/>
<text x="373.20" y="371.90" font-size="4.3" text-anchor="start" fill="#111" stroke="#111" stroke-width="0.18">SD_PDT3</text>
<line x1="414.70" y1="311.20" x2="414.70" y2="410.60" stroke="#7a7a7a" stroke-width="1.0"/>
<line x1="414.20" y1="410.60" x2="483.30" y2="410.60" stroke="#7a7a7a" stroke-width="1.0"/>
<line x1="413.70" y1="328.10" x2="414.70" y2="328.10" stroke="#555" stroke-width="0.5"/>
<text x="413.20" y="329.50" font-size="3.9" text-anchor="end" fill="#111" stroke="#111" stroke-width="0.22">1.5</text>
<line x1="413.70" y1="348.00" x2="414.70" y2="348.00" stroke="#555" stroke-width="0.5"/>
<text x="413.20" y="349.40" font-size="3.9" text-anchor="end" fill="#111" stroke="#111" stroke-width="0.22">1.0</text>
<line x1="413.70" y1="368.20" x2="414.70" y2="368.20" stroke="#555" stroke-width="0.5"/>
<text x="413.20" y="369.60" font-size="3.9" text-anchor="end" fill="#111" stroke="#111" stroke-width="0.22">0.5</text>
<line x1="413.70" y1="388.00" x2="414.70" y2="388.00" stroke="#555" stroke-width="0.5"/>
<text x="413.20" y="389.40" font-size="3.9" text-anchor="end" fill="#111" stroke="#111" stroke-width="0.22">0.0</text>
<line x1="413.70" y1="408.20" x2="414.70" y2="408.20" stroke="#555" stroke-width="0.5"/>
<text x="413.20" y="409.60" font-size="3.9" text-anchor="end" fill="#111" stroke="#111" stroke-width="0.22">−0.5</text>
<line x1="428.20" y1="410.60" x2="428.20" y2="411.60" stroke="#555" stroke-width="0.5"/>
<text x="428.20" y="415.58" font-size="4.1" text-anchor="middle" fill="#111" stroke="#111" stroke-width="0.2">SD_PDT1</text>
<line x1="449.40" y1="410.60" x2="449.40" y2="411.60" stroke="#555" stroke-width="0.5"/>
<text x="449.40" y="415.58" font-size="4.1" text-anchor="middle" fill="#111" stroke="#111" stroke-width="0.2">SD_PDT2</text>
<line x1="471.00" y1="410.60" x2="471.00" y2="411.60" stroke="#555" stroke-width="0.5"/>
<text x="471.00" y="415.58" font-size="4.1" text-anchor="middle" fill="#111" stroke="#111" stroke-width="0.2">SD_PDT3</text>
<text x="449.40" y="421.07" font-size="5.2" text-anchor="middle" fill="#111" stroke="#111" stroke-width="0.18">Group</text>
<text x="402.90" y="360.30" font-size="4.4" text-anchor="middle" fill="#000" stroke="#000" stroke-width="0.15" font-weight="bold" transform="rotate(-90 402.90 360.30)">NPX</text>
<text x="449.30" y="309.03" font-size="4.8" text-anchor="middle" fill="#000" stroke="#000" stroke-width="0.18" font-weight="bold">CD28 OID00793</text>
<text x="416.60" y="314.09" font-size="3.85" text-anchor="start" fill="#111" stroke="#111" stroke-width="0.18">ANOVA, p = 0.008857</text>
<path d="M427.70 322.20V320.40H449.30V322.20" fill="none" stroke="#222" stroke-width="0.45"/>
<text x="438.50" y="319.87" font-size="3.8" text-anchor="middle" fill="#111" stroke="#111" stroke-width="0.18">p.adj = 0.004788</text>
<line x1="428.20" y1="376.90" x2="428.20" y2="389.00" stroke="#222" stroke-width="0.5"/>
<line x1="428.20" y1="407.20" x2="428.20" y2="408.60" stroke="#222" stroke-width="0.5"/>
<rect x="421.60" y="389.00" width="13.20" height="18.20" fill="#D4601C" stroke="#333" stroke-width="0.4"/>
<line x1="421.60" y1="403.20" x2="434.80" y2="403.20" stroke="#222" stroke-width="0.9"/>
<line x1="449.40" y1="348.50" x2="449.40" y2="370.30" stroke="#222" stroke-width="0.5"/>
<line x1="449.40" y1="392.50" x2="449.40" y2="399.50" stroke="#222" stroke-width="0.5"/>
<rect x="442.80" y="370.30" width="13.20" height="22.20" fill="#3A7AB8" stroke="#333" stroke-width="0.4"/>
<line x1="442.80" y1="384.40" x2="456.00" y2="384.40" stroke="#222" stroke-width="0.9"/>
<line x1="471.00" y1="377.90" x2="471.00" y2="380.40" stroke="#222" stroke-width="0.5"/>
<line x1="471.00" y1="391.50" x2="471.00" y2="405.20" stroke="#222" stroke-width="0.5"/>
<rect x="464.40" y="380.40" width="13.20" height="11.10" fill="#42A877" stroke="#333" stroke-width="0.4"/>
<line x1="464.40" y1="385.40" x2="477.60" y2="385.40" stroke="#222" stroke-width="0.9"/>
<circle cx="427.45" cy="376.90" r="0.75" fill="#000"/>
<circle cx="427.27" cy="408.60" r="0.75" fill="#000"/>
<circle cx="427.50" cy="395.79" r="0.75" fill="#000"/>
<circle cx="429.19" cy="404.77" r="0.75" fill="#000"/>
<circle cx="427.24" cy="398.15" r="0.75" fill="#000"/>
<circle cx="429.44" cy="407.31" r="0.75" fill="#000"/>
<circle cx="429.41" cy="384.36" r="0.75" fill="#000"/>
<circle cx="426.78" cy="395.90" r="0.75" fill="#000"/>
<circle cx="427.81" cy="382.37" r="0.75" fill="#000"/>
<circle cx="428.17" cy="378.80" r="0.75" fill="#000"/>
<circle cx="426.68" cy="391.02" r="0.75" fill="#000"/>
<circle cx="427.96" cy="388.08" r="0.75" fill="#000"/>
<circle cx="429.50" cy="386.27" r="0.75" fill="#000"/>
<circle cx="426.96" cy="402.58" r="0.75" fill="#000"/>
<circle cx="428.51" cy="394.30" r="0.75" fill="#000"/>
<circle cx="426.99" cy="385.68" r="0.75" fill="#000"/>
<circle cx="428.45" cy="390.60" r="0.75" fill="#000"/>
<circle cx="450.84" cy="348.50" r="0.75" fill="#000"/>
<circle cx="448.56" cy="399.50" r="0.75" fill="#000"/>
<circle cx="449.76" cy="393.92" r="0.75" fill="#000"/>
<circle cx="447.94" cy="372.15" r="0.75" fill="#000"/>
<circle cx="448.97" cy="348.88" r="0.75" fill="#000"/>
<circle cx="449.96" cy="381.33" r="0.75" fill="#000"/>
<circle cx="449.69" cy="395.44" r="0.75" fill="#000"/>
<circle cx="450.28" cy="384.48" r="0.75" fill="#000"/>
<circle cx="448.08" cy="383.17" r="0.75" fill="#000"/>
<circle cx="448.91" cy="383.82" r="0.75" fill="#000"/>
<circle cx="450.56" cy="392.88" r="0.75" fill="#000"/>
<circle cx="449.67" cy="361.72" r="0.75" fill="#000"/>
<circle cx="449.24" cy="376.26" r="0.75" fill="#000"/>
<circle cx="449.09" cy="399.49" r="0.75" fill="#000"/>
<circle cx="450.96" cy="385.96" r="0.75" fill="#000"/>
<circle cx="449.52" cy="331.90" r="0.75" fill="#000"/>
<circle cx="470.44" cy="377.90" r="0.75" fill="#000"/>
<circle cx="469.68" cy="405.20" r="0.75" fill="#000"/>
<circle cx="471.41" cy="389.27" r="0.75" fill="#000"/>
<circle cx="469.73" cy="385.21" r="0.75" fill="#000"/>
<circle cx="471.91" cy="385.33" r="0.75" fill="#000"/>
<text x="490.00" y="352.70" font-size="5.0" text-anchor="start" fill="#000" stroke="#000" stroke-width="0.18">Group</text>
<line x1="492.45" y1="356.35" x2="492.45" y2="360.75" stroke="#666" stroke-width="0.3"/>
<rect x="490.10" y="356.95" width="4.80" height="3.20" fill="#D4601C" stroke="#444" stroke-width="0.25"/>
<text x="498.20" y="360.10" font-size="4.3" text-anchor="start" fill="#111" stroke="#111" stroke-width="0.18">SD_PDT1</text>
<line x1="492.45" y1="362.05" x2="492.45" y2="366.45" stroke="#666" stroke-width="0.3"/>
<rect x="490.10" y="362.65" width="4.80" height="3.20" fill="#3A7AB8" stroke="#444" stroke-width="0.25"/>
<text x="498.20" y="365.80" font-size="4.3" text-anchor="start" fill="#111" stroke="#111" stroke-width="0.18">SD_PDT2</text>
<line x1="492.45" y1="367.75" x2="492.45" y2="372.15" stroke="#666" stroke-width="0.3"/>
<rect x="490.10" y="368.35" width="4.80" height="3.20" fill="#42A877" stroke="#444" stroke-width="0.25"/>
<text x="498.20" y="371.50" font-size="4.3" text-anchor="start" fill="#111" stroke="#111" stroke-width="0.18">SD_PDT3</text>
<line x1="531.00" y1="311.20" x2="531.00" y2="410.20" stroke="#7a7a7a" stroke-width="1.0"/>
<line x1="530.50" y1="410.20" x2="605.70" y2="410.20" stroke="#7a7a7a" stroke-width="1.0"/>
<line x1="530.00" y1="340.50" x2="531.00" y2="340.50" stroke="#555" stroke-width="0.5"/>
<text x="529.50" y="341.90" font-size="3.9" text-anchor="end" fill="#111" stroke="#111" stroke-width="0.22">2</text>
<line x1="530.00" y1="370.70" x2="531.00" y2="370.70" stroke="#555" stroke-width="0.5"/>
<text x="529.50" y="372.10" font-size="3.9" text-anchor="end" fill="#111" stroke="#111" stroke-width="0.22">1</text>
<line x1="530.00" y1="401.00" x2="531.00" y2="401.00" stroke="#555" stroke-width="0.5"/>
<text x="529.50" y="402.40" font-size="3.9" text-anchor="end" fill="#111" stroke="#111" stroke-width="0.22">0</text>
<line x1="545.20" y1="410.20" x2="545.20" y2="411.20" stroke="#555" stroke-width="0.5"/>
<text x="545.20" y="415.38" font-size="4.1" text-anchor="middle" fill="#111" stroke="#111" stroke-width="0.2">SD_PDT1</text>
<line x1="568.80" y1="410.20" x2="568.80" y2="411.20" stroke="#555" stroke-width="0.5"/>
<text x="568.80" y="415.38" font-size="4.1" text-anchor="middle" fill="#111" stroke="#111" stroke-width="0.2">SD_PDT2</text>
<line x1="592.20" y1="410.20" x2="592.20" y2="411.20" stroke="#555" stroke-width="0.5"/>
<text x="592.20" y="415.38" font-size="4.1" text-anchor="middle" fill="#111" stroke="#111" stroke-width="0.2">SD_PDT3</text>
<text x="568.80" y="420.67" font-size="5.2" text-anchor="middle" fill="#111" stroke="#111" stroke-width="0.18">Group</text>
<text x="524.40" y="360.30" font-size="4.4" text-anchor="middle" fill="#000" stroke="#000" stroke-width="0.15" font-weight="bold" transform="rotate(-90 524.40 360.30)">NPX</text>
<text x="568.90" y="309.03" font-size="4.8" text-anchor="middle" fill="#000" stroke="#000" stroke-width="0.18" font-weight="bold">PTN OID00823</text>
<text x="532.70" y="314.09" font-size="3.85" text-anchor="start" fill="#111" stroke="#111" stroke-width="0.18">ANOVA, p = 0.007334</text>
<path d="M545.40 322.20V320.40H568.70V322.20" fill="none" stroke="#222" stroke-width="0.45"/>
<text x="557.05" y="319.87" font-size="3.8" text-anchor="middle" fill="#111" stroke="#111" stroke-width="0.18">p.adj = 0.007136</text>
<line x1="545.20" y1="357.20" x2="545.20" y2="370.30" stroke="#222" stroke-width="0.5"/>
<line x1="545.20" y1="383.80" x2="545.20" y2="390.00" stroke="#222" stroke-width="0.5"/>
<rect x="538.20" y="370.30" width="14.00" height="13.50" fill="#D4601C" stroke="#333" stroke-width="0.4"/>
<line x1="538.20" y1="379.30" x2="552.20" y2="379.30" stroke="#222" stroke-width="0.9"/>
<line x1="568.80" y1="331.90" x2="568.80" y2="351.10" stroke="#222" stroke-width="0.5"/>
<line x1="568.80" y1="369.90" x2="568.80" y2="384.40" stroke="#222" stroke-width="0.5"/>
<rect x="561.80" y="351.10" width="14.00" height="18.80" fill="#3A7AB8" stroke="#333" stroke-width="0.4"/>
<line x1="561.80" y1="356.10" x2="575.80" y2="356.10" stroke="#222" stroke-width="0.9"/>
<line x1="592.20" y1="360.80" x2="592.20" y2="360.80" stroke="#222" stroke-width="0.5"/>
<line x1="592.20" y1="365.80" x2="592.20" y2="371.90" stroke="#222" stroke-width="0.5"/>
<rect x="585.20" y="360.80" width="14.00" height="5.00" fill="#42A877" stroke="#333" stroke-width="0.4"/>
<line x1="585.20" y1="363.60" x2="599.20" y2="363.60" stroke="#222" stroke-width="0.9"/>
<circle cx="546.61" cy="357.20" r="0.75" fill="#000"/>
<circle cx="544.57" cy="390.00" r="0.75" fill="#000"/>
<circle cx="544.77" cy="362.82" r="0.75" fill="#000"/>
<circle cx="546.47" cy="359.90" r="0.75" fill="#000"/>
<circle cx="544.61" cy="388.91" r="0.75" fill="#000"/>
<circle cx="545.36" cy="359.30" r="0.75" fill="#000"/>
<circle cx="545.00" cy="361.49" r="0.75" fill="#000"/>
<circle cx="543.81" cy="383.16" r="0.75" fill="#000"/>
<circle cx="545.47" cy="384.08" r="0.75" fill="#000"/>
<circle cx="546.30" cy="387.54" r="0.75" fill="#000"/>
<circle cx="544.10" cy="374.13" r="0.75" fill="#000"/>
<circle cx="544.32" cy="363.18" r="0.75" fill="#000"/>
<circle cx="544.92" cy="365.87" r="0.75" fill="#000"/>
<circle cx="543.72" cy="380.67" r="0.75" fill="#000"/>
<circle cx="545.19" cy="389.81" r="0.75" fill="#000"/>
<circle cx="546.22" cy="357.78" r="0.75" fill="#000"/>
<circle cx="545.71" cy="372.11" r="0.75" fill="#000"/>
<circle cx="545.25" cy="334.20" r="0.75" fill="#000"/>
<circle cx="567.22" cy="331.90" r="0.75" fill="#000"/>
<circle cx="569.48" cy="384.40" r="0.75" fill="#000"/>
<circle cx="568.26" cy="372.07" r="0.75" fill="#000"/>
<circle cx="568.22" cy="339.08" r="0.75" fill="#000"/>
<circle cx="567.46" cy="334.07" r="0.75" fill="#000"/>
<circle cx="568.63" cy="371.30" r="0.75" fill="#000"/>
<circle cx="569.07" cy="366.28" r="0.75" fill="#000"/>
<circle cx="568.45" cy="376.18" r="0.75" fill="#000"/>
<circle cx="569.98" cy="355.72" r="0.75" fill="#000"/>
<circle cx="569.35" cy="362.70" r="0.75" fill="#000"/>
<circle cx="567.97" cy="353.35" r="0.75" fill="#000"/>
<circle cx="568.88" cy="354.20" r="0.75" fill="#000"/>
<circle cx="570.11" cy="347.66" r="0.75" fill="#000"/>
<circle cx="568.86" cy="376.86" r="0.75" fill="#000"/>
<circle cx="569.13" cy="359.27" r="0.75" fill="#000"/>
<circle cx="592.32" cy="360.80" r="0.75" fill="#000"/>
<circle cx="592.17" cy="371.90" r="0.75" fill="#000"/>
<circle cx="591.13" cy="363.25" r="0.75" fill="#000"/>
<circle cx="592.01" cy="362.81" r="0.75" fill="#000"/>
<circle cx="593.70" cy="363.72" r="0.75" fill="#000"/>
<circle cx="592.06" cy="343.60" r="0.75" fill="#000"/>
<text x="611.80" y="352.70" font-size="5.0" text-anchor="start" fill="#000" stroke="#000" stroke-width="0.18">Group</text>
<line x1="614.25" y1="356.35" x2="614.25" y2="360.75" stroke="#666" stroke-width="0.3"/>
<rect x="611.90" y="356.95" width="4.80" height="3.20" fill="#D4601C" stroke="#444" stroke-width="0.25"/>
<text x="620.00" y="360.10" font-size="4.3" text-anchor="start" fill="#111" stroke="#111" stroke-width="0.18">SD_PDT1</text>
<line x1="614.25" y1="362.05" x2="614.25" y2="366.45" stroke="#666" stroke-width="0.3"/>
<rect x="611.90" y="362.65" width="4.80" height="3.20" fill="#3A7AB8" stroke="#444" stroke-width="0.25"/>
<text x="620.00" y="365.80" font-size="4.3" text-anchor="start" fill="#111" stroke="#111" stroke-width="0.18">SD_PDT2</text>
<line x1="614.25" y1="367.75" x2="614.25" y2="372.15" stroke="#666" stroke-width="0.3"/>
<rect x="611.90" y="368.35" width="4.80" height="3.20" fill="#42A877" stroke="#444" stroke-width="0.25"/>
<text x="620.00" y="371.50" font-size="4.3" text-anchor="start" fill="#111" stroke="#111" stroke-width="0.18">SD_PDT3</text>
</svg>
</body></html>
